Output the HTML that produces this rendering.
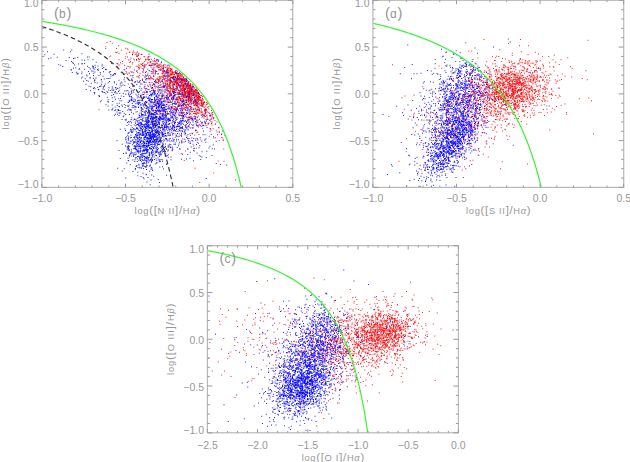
<!DOCTYPE html><html><head><meta charset="utf-8"><style>html,body{margin:0;padding:0;background:#fff;overflow:hidden}svg{display:block}</style></head><body><svg xmlns="http://www.w3.org/2000/svg" width="630" height="462" viewBox="0 0 630 462" font-family='"Liberation Sans", sans-serif'><rect width="630" height="462" fill="#fff"/><defs><filter id="bl" x="0" y="0" width="630" height="462" filterUnits="userSpaceOnUse" color-interpolation-filters="sRGB"><feConvolveMatrix order="3" kernelMatrix="1 2 1 2 8 2 1 2 1" edgeMode="duplicate"/></filter><filter id="bl2" x="0" y="0" width="630" height="462" filterUnits="userSpaceOnUse" color-interpolation-filters="sRGB"><feConvolveMatrix order="3" kernelMatrix="0 1 0 1 8 1 0 1 0" edgeMode="duplicate"/></filter></defs><g><g transform="scale(0.25)" stroke-width="4.00" fill="none" stroke-opacity="0.85"><path d="m804 409h4m-17-27h4m-49-61h4m-10 50h4m-30-9h4m32 108h4m-6 83h4m30-158h4m38 45h4m-110-102h4m41 23h4m-46 60h4m-19-79h4m-31-67h4m63 91h4m141 196h4m-90-142h4m-140-148h4m10 56h4m122 59h4m-41 25h4m-19 67h4m-25-153h4m38 58h4m-26-22h4m20 26h4m-59-68h4m58 49h4m-15 38h4m-74-69h4m46 15h4m-56-18h4m-21-4h4m-32-72h4m96 93h4m-39-17h4m10 124h4m10-62h4m20 7h4m-63-64h4m24 48h4m-71 89h4m100-79h4m-40-43h4m-6-11h4m-33 19h4m68 12h4m31 65h4m-144-146h4m-55 70h4m138 25h4m-130 64h4m184 92h4m-146-209h4m112 89h4m-4-38h4m-7 65h4m-44-23h4m8-26h4m25 14h4m-92-39h4m-69-30h4m16 18h4m-10-69h4m-14 66h4m70-52h4m-108-46h4m68 64h4m104 65h4m-86-90h4m-65-33h4m31 142h4m54-65h4m8 9h4m-96-12h4m35 0h4m28 58h4m-84 14h4m84-66h4m52 60h4m-5 1h4m-33 9h4m-55 31h4m29-86h4m-131-60h4m58 2h4m38 115h4m-37-126h4m52 78h4m-69-83h4m105 132h4m-10 16h4m-49-84h4m5 11h4m-173-106h4m22 70h4m137 140h4m-66-35h4m59-83h4m10 52h4m-33-66h4m-103 9h4m233 204h4m-165-177h4m-51-10h4m15-72h4m62 86h4m-58-71h4m99 148h4m-94-25h4m-22 7h4m17-30h4m-54-62h4m-12-50h4m8 85h4m-8-105h4m-15 52h4m62 91h4m-6-90h4m27 45h4m-69-46h4m22 16h4m-22-26h4m14 145h4m59-69h4m-11-34h4m-77 33h4m42-42h4m-72 46h4m42-38h4m-53-60h4m60 111h4m-46-119h4m156 230h4m-197-114h4m4-59h4m122 75h4m-71-58h4m-37-32h4m46 57h4m-81-59h4m64 36h4m-5-42h4m-6 133h4m-98-79h4m137-8h4m-103-43h4m86 49h4m-13 24h4m-51 48h4m-21-14h4m8-69h4m-52-58h4m144 248h4m-17-107h4m-132-157h4m58 127h4m-72-138h4m4 42h4m1 33h4m-18-83h4m6 50h4m119 91h4m-78-89h4m18 41h4m-108-40h4m133 47h4m-65-60h4m-71 248h4m5-254h4m71 61h4m77 70h4m-49-50h4m-9 66h4m-33-109h4m73 91h4m-57-39h4m-45-27h4m-1 36h4m36-60h4m-65-36h4m54 40h4m23 79h4m-116-55h4m-33 65h4m53-42h4m45-22h4m19 25h4m61 100h4m-112-186h4m36 69h4m-36 18h4m-7-1h4m-51-71h4m126 88h4m-55-15h4m-46-4h4m14 3h4m36-2h4m-52-24h4m42 26h4m-126-53h4m-14 21h4m33-8h4m-7-8h4m55 21h4m10-15h4m-4 13h4m34 42h4m-136-139h4m107 88h4m35 132h4m-157-219h4m59 62h4m38 98h4m-35-98h4m-60 133h4m104-42h4m-150-44h4m123-12h4m-88-44h4m112 72h4m-140-84h4m142 91h4m-192 2h4m115-29h4m-91 76h4m89-67h4m-30-15h4m-20 1h4m46 26h4m-1 6h4m3 103h4m7-125h4m-40-13h4m-28-55h4m-93 32h4m49 101h4m58-35h4m-9 14h4m-82-144h4m62 176h4m62-72h4m-40 42h4m-16-68h4m-36-71h4m21 20h4m107 239h4m-85-176h4m-23 40h4m6-61h4m-27 23h4m23 12h4m33 34h4m-82 26h4m-81-132h4m123 46h4m-18-15h4m-28-11h4m15 88h4m-61-22h4m-96-64h4m71 38h4m123 48h4m-23-37h4m-78-59h4m-70 34h4m70-4h4m-24-70h4m75 86h4m-112-38h4m62 12h4m-78-30h4m-2 34h4m92 44h4m21 55h4m-62-111h4m-6 43h4m20 18h4m-20-59h4m-5-29h4m37 65h4m-110 30h4m52-5h4m142 121h4m-28-55h4m-19-17h4m-93-111h4m-128 112h4m76-58h4m6 14h4m-47 45h4m55-82h4m-2-18h4m15-17h4m-64 8h4m68 6h4m53 84h4m-66-76h4m-51 40h4m91 23h4m-40 13h4m-47-85h4m20 73h4m-25-80h4m121 126h4m-165-165h4m55 114h4m-18-29h4m60 70h4m-100-30h4m62-49h4m-46-14h4m71 38h4m-121-45h4m25-11h4m-17-13h4m9 112h4m63-63h4m-101 12h4m-72-35h4m187 94h4m-140-154h4m2 19h4m-3 10h4m106 109h4m-10-37h4m-48-48h4m-43 38h4m81 56h4m-62 64h4m-80-210h4m-46 53h4m229 85h4m-219-5h4m90-77h4m-2-44h4m-15 100h4m7-112h4m-16 0h4m26 92h4m-42-49h4m-9 119h4m32-100h4m-16 55h4m-14-51h4m75 82h4m-103-94h4m121 85h4m-146-33h4m45-104h4m46 96h4m-46-46h4m-16 0h4m-26 80h4m-14-139h4m23 76h4m-31-47h4m68 22h4m-84 70h4m36-4h4m10-78h4m-51 0h4m-25-20h4m108 150h4m-43-26h4m-103-103h4m53-16h4m54 51h4m-91-33h4m4-24h4m56 76h4m-3 29h4m-80-92h4m131 125h4m-10-47h4m4-16h4m-46-24h4m-112 29h4m15-34h4m79 16h4m39 11h4m-66 18h4m-57-124h4m-30-13h4m-18 251h4m15-164h4m-162-129h4m-111 212h4m265 52h4m-33-174h4m46-19h4m33 244h4m-104-285h4m56 30h4m-57 29h4m210 144h4m-294-200h4m179 59h4m-106-62h4m190 212h4m-109-144h4m-116 84h4m208 34h4m-25-45h4m-175-128h4m-20-25h4m60 107h4m-15-66h4m-69 22h4m-145-99h4m232 80h4m-78 136h4m12-113h4m-126-62h4m126 194h4m-113-233h4m76 49h4m1-20h4m8 22h4m20 266h4m1-19h4m98-37h4m-108-19h4m1-42h4m119-20h4m-158-84h4m-20-21h4m-158-32h4m200 51h4m74 290h4m-102-328h4m-17-8h4m-114 66h4m142-8h4m0 93h4m-43-86h4m-69-41h4m293 361h4m-244-336h4m0-30h4m87 284h4m-27-52h4m-8-146h4m-20-83h4m-22 6h4m-4 217h4m-130-177h4m241 266h4m-130-288h4m60 96h4m-53 218h4m28-263h4m41-23h4m-73-59h4m103 193h4m-92-159h4m-52-6h4m132 201h4m-52-73h4m-128-84h4m64 65h4m-1-123h4m154 188h4m-159-185h4m26 54h4m-125-6h4m39-23h4m128 57h4m-150-120h4m-194-26h4m249 63h4m-255-124h4m238 174h4m-158-37h4m21-32h4m134 41h4m15 44h4m-101-38h4m-21 84h4m158-33h4m-57-23h4m68 45h4m-126-134h4m-103-19h4m104 106h4m-18-71h4m-33 8h4m46 24h4m-80-23h4m-76 3h4m152 84h4m-169-103h4m143 75h4m-9-44h4m132 83h4m-220-4h4m128-74h4m-133 44h4m172 140h4m-130-78h4m162 130h4m-17-122h4m-190-156h4m-32 117h4m24-63h4m81 9h4m-86 16h4m126 45h4m-97-57h4m-39-64h4m20-22h4m175 209h4m-140-51h4m35-77h4m-67 26h4m107 43h4m-200-97h4m15-28h4m1-8h4m-57-8h4m-15-11h4m67 38h4m-94-42h4m104 9h4m25 72h4m-84-14h4m-44-92h4m48 46h4m-21 49h4m21-41h4m72 7h4m23 13h4m-200-83h4m169 85h4m-56-24h4m-101-67h4m135 73h4m10 27h4m-71-54h4m2 8h4m-52 60h4m-78-49h4m86-6h4m-41-41h4m54 87h4m-59-64h4m-19 35h4m143 19h4m19 2h4m-132 89h4m3-107h4m61 21h4m-90 11h4m-52-12h4m149 13h4m-175-56h4" stroke="#ff0000"/><path d="m569 446h4m26 85h4m-6-77h4m35-33h4m-141 58h4m115 69h4m27 50h4m-120-81h4m62 21h4m-5 5h4m36 67h4m-153-164h4m116 157h4m4-33h4m-89 55h4m176-132h4m-126 59h4m5 16h4m-28 20h4m-37-159h4m49 115h4m19 15h4m-48 33h4m-60-153h4m58 107h4m22-8h4m-2-43h4m-18 5h4m35 16h4m2 130h4m-73-110h4m23 84h4m-16-98h4m-87 35h4m113-15h4m-50-125h4m104 161h4m-77 104h4m-20-107h4m-55 21h4m83-98h4m-28 73h4m-32-23h4m62-128h4m-9 248h4m-18-221h4m-107 166h4m60-38h4m-39 51h4m49-78h4m2 18h4m-51 20h4m94-86h4m-44-18h4m-23 63h4m-5 10h4m-42 65h4m-15-15h4m23-32h4m-48-23h4m91 48h4m-66-196h4m41 69h4m-136 46h4m113 47h4m3 33h4m12-111h4m-84 2h4m-18 41h4m65 39h4m22-61h4m-92-52h4m90 60h4m-26 39h4m-58-72h4m-35 134h4m102-121h4m20 45h4m-114 139h4m33-129h4m-7 54h4m25 116h4m-21-230h4m-8 125h4m-12-34h4m-45-8h4m38 142h4m79-286h4m-105 41h4m110 66h4m-141 87h4m22 17h4m-9-53h4m32-2h4m4-179h4m-56 181h4m55-107h4m0 15h4m-49-65h4m41 114h4m-100 3h4m84-72h4m-12 28h4m-82 125h4m85-196h4m-60 80h4m-7-31h4m26 90h4m45-140h4m-109 133h4m110 49h4m-125-30h4m91-95h4m-14 197h4m-62-118h4m82 17h4m6-115h4m-86 98h4m18 83h4m34-154h4m-1 80h4m5 30h4m-80-49h4m-12-130h4m13 166h4m49 26h4m-47-146h4m-27 113h4m44-75h4m23-62h4m-69 132h4m22 2h4m20 117h4m-7-106h4m-26-81h4m81 2h4m-71-123h4m-67 193h4m88-62h4m-79-93h4m12 198h4m47-160h4m-30 112h4m-57-42h4m81 103h4m-33-28h4m-36 34h4m76-139h4m-66 55h4m-4-91h4m-37 154h4m-42-65h4m93 66h4m63-71h4m-104-6h4m4-117h4m-31 117h4m105-60h4m-68-70h4m6 168h4m-14-57h4m1 82h4m-50 29h4m-48-20h4m97-126h4m10 82h4m-86-39h4m-4 150h4m66-165h4m-45 88h4m35-48h4m-6-19h4m4-15h4m1 13h4m-66-20h4m-27 93h4m113-40h4m-114 23h4m50-201h4m18 151h4m-33-12h4m-5 80h4m13-158h4m-14 150h4m13-52h4m-40 121h4m2 32h4m-10-124h4m-4 0h4m-65-108h4m64-18h4m75 72h4m-39 30h4m-66 102h4m-31-61h4m49-152h4m-16 182h4m42-67h4m-123 21h4m138-82h4m-41 86h4m5-14h4m17-45h4m-52-56h4m-82 148h4m45 36h4m40-22h4m26-162h4m-82 66h4m13 53h4m42-170h4m-100 193h4m15-87h4m90-20h4m-5 19h4m-93-185h4m-29 221h4m7 14h4m88-44h4m35-40h4m-74-112h4m-28 215h4m14-89h4m-6 37h4m13 81h4m-23-18h4m4 61h4m-61-129h4m25-2h4m-40 46h4m64 35h4m-50-82h4m81 63h4m-95-121h4m44 104h4m-23 71h4m51-282h4m18 182h4m-53-48h4m29-53h4m-26 76h4m-75 81h4m0-90h4m76-24h4m-32 7h4m-35 92h4m8-144h4m-9 130h4m16-94h4m-47 129h4m63-38h4m11-27h4m-42 118h4m-24-105h4m1 75h4m23-223h4m-38 118h4m95 103h4m-142-128h4m-27 6h4m81 25h4m-30-23h4m71 21h4m-35-23h4m24 159h4m-62-141h4m-58 140h4m6-5h4m-21-156h4m63 17h4m21 62h4m-117-41h4m106 83h4m-38-37h4m14-52h4m35 40h4m-17 9h4m-61 31h4m12-44h4m-31-69h4m-17 17h4m-1-27h4m82 102h4m11-7h4m-61-2h4m-13-100h4m84 88h4m-63-10h4m34 17h4m-120 41h4m-8-154h4m90 64h4m-63 72h4m-52-7h4m44-22h4m-1 20h4m38-63h4m-54 81h4m-56-93h4m98 32h4m-28 8h4m9-44h4m-55 134h4m49-288h4m-37 183h4m-2-48h4m-7 70h4m74-39h4m-48 9h4m-22-39h4m-7 68h4m39-20h4m8-84h4m-75 66h4m32 10h4m-52 16h4m-21-61h4m38 140h4m59-81h4m-85-105h4m41 42h4m-56 77h4m52-118h4m0 158h4m38-10h4m-23 12h4m-33-257h4m78 31h4m-99 120h4m40 39h4m-43 88h4m6-72h4m-120-52h4m106 85h4m-1-64h4m-78 15h4m35 88h4m-25-79h4m44 90h4m-50-99h4m-14 95h4m44-102h4m-15-37h4m-75 136h4m62-43h4m34-63h4m5 52h4m-83-103h4m116 74h4m-197 42h4m138-210h4m-51 262h4m-64-61h4m68 38h4m-9-16h4m1-95h4m-24 85h4m25-77h4m4 12h4m-72 19h4m8 49h4m-45 104h4m20-241h4m-12 17h4m43-9h4m70 70h4m-124-109h4m97 32h4m-41 170h4m50 88h4m-79-344h4m72 181h4m-102 17h4m36-11h4m-1 63h4m27-28h4m-57-8h4m27-41h4m36 6h4m-25-86h4m-32 115h4m6 55h4m67-55h4m-83 9h4m44 8h4m-91-35h4m35-37h4m-31 130h4m68-181h4m-23 46h4m-24-49h4m30 138h4m-68-130h4m-61 121h4m83-111h4m-3 134h4m11-151h4m-1 7h4m26 29h4m-45-37h4m24 119h4m-60-64h4m31-23h4m9-15h4m66-97h4m-91 236h4m-85-122h4m95-19h4m23-78h4m-181 251h4m66-114h4m-14 81h4m108-77h4m-2 56h4m-110-8h4m6-198h4m-267-167h4m274 155h4m-104-49h4m-73 7h4m16-89h4m-2 46h4m28 104h4m-259-185h4m342 192h4m-140-83h4m-165-83h4m142 71h4m62-34h4m-121-57h4m64 96h4m-72-83h4m120 143h4m24 28h4m-147-125h4m111 140h4m29 24h4m37-67h4m-167-126h4m126 106h4m-79-63h4m-48-2h4m13 33h4m121 95h4m-68-74h4m-287-147h4m279 77h4m-43 79h4m-101-63h4m166 7h4m-23 94h4m-111-149h4m-184-57h4m230 70h4m4 147h4m-108-209h4m60 49h4m86 130h4m-175-164h4m177 110h4m-82-53h4m-57 24h4m133 0h4m-100-14h4m35-11h4m17 171h4m-88-82h4m103 9h4m-212-154h4m64 128h4m-5-21h4m115 35h4m32-30h4m-138-9h4m24-57h4m34 94h4m78-34h4m-41 90h4m-146-101h4m12-97h4m151 135h4m-129-75h4m47 119h4m34 15h4m57-77h4m-69 13h4m59 42h4m-127 3h4m117-7h4m-69-101h4m18 157h4m-159-198h4m148 149h4m-41-105h4m-70 52h4m95 112h4m-186-189h4m52-8h4m149 193h4m-33-19h4m-98-178h4m186 140h4m-100 41h4m-150-186h4m80 49h4m99 131h4m15-29h4m90 95h4m37-113h4m-90 94h4m114 66h4m-197-47h4m137-178h4m-121 36h4m106 86h4m-128-40h4m137-6h4m-112 2h4m191 234h4m-49-348h4m1 154h4m-8 82h4m-60-88h4m36-44h4m40 225h4m-171-235h4m108 125h4m103-34h4m-222-112h4m111 39h4m71 5h4m2 228h4m64-123h4m-72 25h4m-197-180h4m26 133h4m181 35h4m-148-83h4m-71 43h4m126-65h4m-26-46h4m-28 107h4m-75 151h4m-42-345h4m68 226h4m-73 56h4m126-43h4m3-130h4m129 167h4m-201-119h4m105 40h4m-91-68h4m-102-51h4m112 191h4m17-86h4m-83-43h4m56 70h4m24-106h4m-8 124h4m119-116h4m-53 94h4m-101 27h4m-116-108h4m160 96h4m2-63h4m-9 44h4m-41-83h4m-88-74h4m153 141h4m-118 41h4m76 84h4m-114-246h4m-45 42h4m93 26h4m42 8h4m-95-74h4m34 167h4m113 76h4m-75-55h4m-57-25h4m67-116h4m-54 143h4m-140-199h4m230 130h4m8 47h4m-91 44h4m49-121h4m-93-3h4m118-40h4m-133 85h4m-13-114h4m85 10h4m-120 75h4m244 198h4m-256-201h4m-42-66h4m196 197h4m-132-196h4m-43-12h4m-7 51h4m218 36h4m-98-31h4m-92-25h4m20-146h4m96 250h4m-111-62h4m-94 15h4m85 2h4m-22-55h4m113 28h4m-190 76h4m247 115h4m-58-129h4m-276-222h4m93 36h4m126 220h4m-46 93h4m-125-128h4m21-24h4m-79-67h4m108 58h4m-126-45h4m284 68h4m-202 0h4m107-53h4m-61-29h4m-51 106h4m138 20h4m-120-153h4m-17 45h4m62 20h4m-59-67h4m-11-5h4m137 96h4m-4-14h4m-166-97h4m48 63h4m68 12h4m1 181h4m34-103h4m-1-97h4m7 189h4m-38-203h4m-69 32h4m-9-72h4m87 78h4m-124 199h4m14-161h4m4-25h4m-19-46h4m-57-39h4m138 142h4m-29-16h4m-17-93h4m-63 44h4m75 92h4m-14-79h4m25-2h4m-106 20h4m140 13h4m-138-215h4m95 247h4m-75-65h4m-214-101h4m86-32h4m187 234h4m16-73h4m-223-96h4m64 14h4m275 142h4m-163-79h4m-131-99h4m45 62h4m51-38h4m-17 89h4m-251-184h4m152 191h4m-35-185h4m149 268h4m-61-74h4m-37-64h4m24-41h4m-127 2h4m246 160h4m-143-216h4m58 100h4m-89-52h4m-119-28h4m218 135h4m23-84h4m-140 23h4m68-113h4m-19 160h4m-124 60h4m163-7h4m49-21h4m-80 61h4m-66-139h4m-58 46h4m147-40h4m-119 102h4m-13-189h4m-1 173h4m-4-78h4m23 45h4m34 69h4m-97-100h4m29-51h4m-29-128h4m-140 173h4m188-113h4m-68 95h4m52 28h4m101 11h4m-54 23h4m-35-119h4m-34 6h4m-75-27h4m16 21h4m8-7h4m189 237h4m-285-234h4m123 43h4m-43 10h4m62-49h4m8 10h4m-39 117h4m-21-62h4m63 63h4m-86-28h4m103-56h4m-127 54h4m34-56h4m62-57h4m-113 48h4m-17 21h4m66 103h4m-6-11h4m93-15h4m-29-29h4m-100-34h4m-41-78h4m-64 40h4m169-63h4m-149 76h4m-86-76h4m210 118h4m-20 128h4m-125-79h4m93-65h4m-44-79h4m268 157h4m-216-139h4m-43 82h4m30-76h4m11 121h4m-2 41h4m-6 35h4m-50-228h4m83 147h4m-26-72h4m-27 80h4m-67-45h4m-65-47h4m110 60h4m-102-52h4m67 36h4m31-106h4m88 193h4m-81-61h4m-108-12h4m13-51h4m28-89h4m51 95h4m-14 30h4m34 21h4m-51-7h4m-88-78h4m209 67h4m-187-48h4m79 92h4m9 0h4m-1-65h4m-77-8h4m0-39h4m-87-100h4m28 82h4m-10 41h4m165 128h4m-115-207h4m-53 35h4m54-57h4m-84 112h4m66 13h4m-37-32h4m181 149h4m-94-194h4m137 225h4m-242-233h4m102 21h4m-195 38h4m198-18h4m-122 132h4m19-66h4m8-33h4m-3 5h4m88-54h4m-25 157h4m-135-157h4m254 85h4m-333-241h4m15 247h4m196 22h4m-129-101h4m12 25h4m89-20h4m-215 16h4m107 15h4m-124-144h4m175 89h4m39 101h4m-64-26h4m-55-47h4m51 16h4m-28 63h4m212 77h4m-247-192h4m62 90h4m-3 9h4m8-29h4m50 60h4m-90-58h4m-39-125h4m137 180h4m-96-28h4m78 3h4m-72-49h4m-10 77h4m79 99h4m-83-125h4m-24-49h4m-113 67h4m162-12h4m-133-138h4m102 161h4m-45-50h4m-24-48h4m29-1h4m7 49h4m-31-19h4m-15-176h4m118 160h4m-144-42h4m-25 32h4m145-25h4m-88 61h4m-66-77h4m-57-152h4m96 244h4m35-84h4m111 107h4m-118-124h4m53 46h4m46 132h4m-269-201h4m60 121h4m115 67h4m-42-20h4m18-118h4m33 92h4m-90-41h4m-16-98h4m-61 72h4m149-26h4m8 39h4m-98-1h4m-12 120h4m-56-183h4m86 142h4m-138-1h4m22-188h4m91 94h4m-38 47h4m97 162h4m-118-89h4m8-156h4m67 148h4m-119-284h4m125 229h4m-4-154h4m-14 6h4m55 151h4m-97 28h4m111-62h4m-176-189h4m-41-29h4m-2 165h4m93-13h4m5-50h4m-100 11h4m99 47h4m5-49h4m65 53h4m-59-42h4m60 77h4m-87-102h4m132 144h4m-141-97h4m18 89h4m-16-94h4m-106-29h4m81 19h4m171 312h4m-189-287h4m49-27h4m54 65h4m-2 94h4m-194-92h4m98-15h4m-76 106h4m40-153h4m96 40h4m-87 82h4m-201 16h4m242-144h4m74 120h4m-74-116h4m-136-67h4m-18 11h4m110 90h4m76 91h4m19 9h4m-105-164h4m-56 8h4m2 28h4m21-10h4m11-20h4m58 74h4m-16 19h4m-61 6h4m18-73h4m-80-38h4m0-15h4m63 37h4m-129 167h4m129-116h4m44-7h4m-56-52h4m-41-19h4m-61-26h4m-31 288h4m-10-161h4m160-4h4m-52-18h4m44-14h4m-118 16h4m113 34h4m-139-89h4m67-17h4m17 6h4m-133-33h4m7-3h4m80 46h4m41 0h4m-115-75h4m57 26h4m44 150h4m106 64h4m-165-208h4m-23 63h4m119 144h4m-143-214h4m-80 284h4" stroke="#0000ff"/><path d="m656 440h4m142 6h4m-114-128h4m89 44h4m-20-12h4m-40-7h4m10 6h4m-73 80h4m9-31h4m-16-81h4m156 162h4m-108-104h4m-4-10h4m-72-31h4m77 22h4m-142-41h4m127 7h4m15 16h4m-79 40h4m67-11h4m-40-25h4m34 28h4m-44-41h4m-44-7h4m8 18h4m74 41h4m-35 0h4m-25-91h4m33 46h4m7 29h4m19 63h4m-83-4h4m-22-114h4m42 52h4m-58-4h4m-17 7h4m33-65h4m83 164h4m-65-72h4m-16-77h4m15 58h4m5-2h4m48 31h4m-120-75h4m-25-37h4m82 38h4m27 91h4m-117-42h4m96-11h4m1 40h4m-46-23h4m1-23h4m-27-55h4m-12 42h4m86 93h4m34 56h4m-133-172h4m-14-11h4m-14 41h4m90 18h4m-21 21h4m-36 10h4m-24-118h4m3 130h4m39-58h4m53 72h4m-39-64h4m34 100h4m-163-131h4m110 76h4m7-6h4m-15 8h4m66 41h4m-92-70h4m-71-27h4m41-21h4m-8 38h4m69 10h4m-56-21h4m1 27h4m25 64h4m-110-155h4m104 118h4m-76-115h4m34 45h4m77 89h4m-142-58h4m74 43h4m-70-108h4m31 55h4m-25-6h4m-19-50h4m12-12h4m31 87h4m57 56h4m-102-148h4m19 110h4m-30-89h4m-27-16h4m-120 71h4m168 5h4m6 167h4m-34-193h4m60 29h4m-74-4h4m-12-7h4m58 54h4m-71-52h4m91 121h4m-136-147h4m137 119h4m21 0h4m-61-102h4m-67-14h4m2 83h4m-84-68h4m113 42h4m22 50h4m-71-58h4m12-39h4m-93-67h4m107 102h4m35 0h4m-73-79h4m70 89h4m-73-37h4m18 30h4m-52-93h4m38 69h4m-73-74h4m-40-1h4m104 43h4m36 161h4m-152-176h4m92-9h4m-7 13h4m1-1h4m28 90h4m-9-68h4m-133 87h4m62-30h4m-22-41h4m134 51h4m-117-102h4m62 103h4m-74-55h4m113 115h4m-109-144h4m45 44h4m-12 55h4m-4-57h4m-43-41h4m35 31h4m-31-18h4m39 88h4m-4 5h4m-78-40h4m41 10h4m-64 5h4m83-52h4m-36 1h4m0-27h4m-41-41h4m8 46h4m-76-48h4m115 84h4m-14 4h4m-47-66h4m95 130h4m25 43h4m-68-79h4m-180-95h4m107-1h4m76 87h4m11 16h4m-60 1h4m-79-107h4m81 49h4m13 18h4m-37 11h4m-94-74h4m-47-18h4m15 16h4m39 0h4m122 90h4m4 6h4m-77-55h4m-52 159h4m12-184h4m43 36h4m-33-44h4m29 49h4m6 25h4m5-21h4m-25 82h4m55-15h4m-116-118h4m-42 14h4m56-21h4m-34 18h4m41-10h4m-32 84h4m10-14h4m-52-61h4m-9 9h4m77 50h4m55 17h4m-62 18h4m105 62h4m-193-113h4m125 72h4m-110 4h4m6-12h4m1-61h4m19 5h4m-6-25h4m-13 79h4m162 159h4m-178-193h4m15-14h4m-91-103h4m160 124h4m-106-91h4m5 12h4m-1-3h4m59 35h4m-91-78h4m81 83h4m-81-49h4m53 79h4m-6 5h4m-50-103h4m76 111h4m-66-77h4m-17 53h4m34 86h4m48-73h4m-84 17h4m-10-38h4m-96 67h4m127-87h4m-68-27h4m72 341h4m-50-322h4m-23 45h4m-49-20h4m104 78h4m-21-57h4m23 19h4m-23-76h4m87 142h4m-212-134h4m85 3h4m-45 30h4m85-6h4m29 79h4m-90-134h4m23 58h4m-53 21h4m-6-11h4m24-10h4m89 115h4m-74-83h4m-107-123h4m212 225h4m-93-95h4m-52-89h4m-23-23h4m-64 17h4m143 95h4m-56-21h4m-65-86h4m116 151h4m-50-2h4m-30-78h4m-62-105h4m-28 20h4m100 73h4m-38 48h4m-14-39h4m5-78h4m84 129h4m-21-40h4m-95-56h4m75 38h4m-122-46h4m142 93h4m-97-67h4m-31-26h4m49-4h4m-37-25h4m49 115h4m-71 17h4m47-86h4m-30-12h4m85 126h4m-173-57h4m45-34h4m49 86h4m-3-96h4m55 134h4m-55-119h4m27 16h4m-42 11h4m12-18h4m27 16h4m-21 60h4m41-45h4m-106-24h4m3-32h4m41 20h4m-74-46h4m47 45h4m27-3h4m-75 4h4m22 49h4m12 52h4m-18-91h4m-19-22h4m-12 14h4m34-19h4m-69 32h4m145 97h4m-110-164h4m-7 30h4m-63 0h4m102 102h4m-15-101h4m36 143h4m-21-110h4m-124-97h4m150 156h4m-111-130h4m32 61h4m-63 5h4m37-26h4m-7 5h4m-33-9h4m-45 38h4m127 49h4m-13-39h4m-52-73h4m48 78h4m-2 24h4m-118-142h4m-29 4h4m89 144h4m27-42h4m-44-21h4m-23-43h4m-31 16h4m-18 23h4m29-36h4m-29-22h4m136 194h4m-126-180h4m3 82h4m-7-93h4m27 74h4m64 25h4m-138-123h4m24 166h4m21-140h4m0 83h4m59-10h4m0 57h4m-92-150h4m52 65h4m71 155h4m-156-81h4m9 10h4m65 70h4m-86-237h4m123 133h4m-122-69h4m-31 43h4m23 106h4m84-107h4m-56 19h4m-9 48h4m-2-85h4m-96 95h4m68-124h4m-46-51h4m-197-70h4m166 201h4m52-109h4m36 298h4m45-76h4m-104-242h4m-252-62h4m196 88h4m153 84h4m-32 181h4m-69-261h4m182 243h4m-275-237h4m59 4h4m-73-49h4m56 27h4m35 156h4m-78-179h4m13 2h4m-92-21h4m8-23h4m145 91h4m-209-41h4m62-54h4m-41 34h4m230 122h4m84 139h4m-309-240h4m145 166h4m36-24h4m-141-100h4m54 50h4m51 260h4m-37-349h4m26 84h4m50 32h4m-121-68h4m-100 47h4m11-22h4m114 85h4m96-47h4m-150-134h4m41 143h4m-33-93h4m105 94h4m-96-41h4m-90 49h4m45-28h4m199 104h4m-141-144h4m4 16h4m-71 1h4m-123-146h4m187 152h4m12-7h4m-95 34h4m115 44h4m-159-121h4m98 140h4m-47-179h4m-57-20h4m-80 2h4m281 195h4m-156-113h4m70 92h4m-50-121h4m-29-31h4m-16 50h4m2-64h4m-111-8h4m138 37h4m-141 105h4m22-157h4m-48 3h4m222 150h4m-107-41h4m-26-12h4m47 67h4m-115 36h4m175 64h4m-177-249h4m-41 54h4m-32-44h4m50-20h4m128 54h4m-39 60h4m-68-113h4m181 180h4m-189-122h4m-38-77h4m77 63h4m30 31h4m-169-74h4m203 204h4m-118 42h4m47-73h4m42-95h4m-125-58h4m73 13h4m43 102h4m-82-117h4m-41 37h4m182 95h4m-263-138h4m82-1h4m36 43h4m2 25h4m-62-13h4m3-60h4m-10 144h4m121-71h4m-60-7h4m192 308h4m-182-328h4m-85 4h4m6 59h4m-68-119h4m212 173h4m-223-129h4m120 37h4m46 50h4m-139-29h4m-1-42h4m10 21h4m-40-117h4m-27 122h4m37-113h4m92 83h4m-90-65h4m-56-26h4m84 86h4m-41-73h4m-72-1h4m-11-21h4m118 191h4m-175-215h4m-33-10h4m34 16h4m59 53h4m-62 43h4m221 63h4m-188-30h4m-52-100h4m49 5h4m72 35h4m-26-11h4m76 40h4m-78-3h4m-56 22h4m33-56h4m40 51h4m-95-55h4m40 0h4m-160-83h4m88 44h4m1-5h4m97 60h4m-59-22h4m-67 6h4m59-25h4m47 35h4m-143 20h4m37-67h4m39 159h4m-6-74h4m-59-95h4m70 60h4m22 48h4m-51-80h4m31 101h4m-100-71h4" stroke="#ff0000"/><path d="m568 631h4m-13-94h4m65 62h4m-83 104h4m-3-100h4m35-1h4m-25 38h4m63-22h4m12-29h4m-150 63h4m63-50h4m72-142h4m-66 41h4m10 70h4m11-25h4m8 18h4m-34-10h4m26 37h4m14-89h4m-38 68h4m-79 1h4m93-129h4m-26 30h4m9 19h4m-162 72h4m97 93h4m-13-87h4m-21-154h4m145 150h4m-134 29h4m52-9h4m11-8h4m-21-77h4m-49 27h4m-47 83h4m93-65h4m-17-23h4m-90 7h4m59 72h4m62-36h4m-93-24h4m44 14h4m-97 18h4m106-48h4m-108 0h4m-29 26h4m67 51h4m63-234h4m-103 225h4m80-138h4m-43 213h4m-23-83h4m18-74h4m7-47h4m-31 106h4m57-62h4m68 56h4m-147 64h4m99-71h4m-99 83h4m101-79h4m-127 6h4m15 126h4m27-218h4m-61 24h4m15 128h4m37-115h4m-70 77h4m55-64h4m-55 78h4m21 49h4m55-127h4m-41-18h4m-11 64h4m-21 48h4m17-143h4m14 88h4m-26 98h4m101-128h4m-132-19h4m7 111h4m-38-32h4m44-110h4m38 148h4m-36-70h4m22-165h4m-2 87h4m-7 17h4m-115 31h4m126 38h4m-114 25h4m25 34h4m56-19h4m48-137h4m-98 62h4m-16 66h4m9-129h4m56 40h4m-102-64h4m15 86h4m2 1h4m29 31h4m-13-33h4m18-197h4m-70 178h4m40 84h4m-21-69h4m-5 38h4m22 93h4m15-102h4m-42-13h4m56 16h4m-39 70h4m-30-122h4m12 135h4m-44 28h4m20-178h4m-17 120h4m50-118h4m-48 130h4m49-68h4m-33-23h4m31-70h4m-36 85h4m1-59h4m8 29h4m61-28h4m-66 66h4m-71-95h4m17 203h4m24-56h4m-23-26h4m-26-21h4m-49 95h4m60-171h4m-40 80h4m28-23h4m-59 55h4m81-114h4m22-7h4m-68 232h4m11-158h4m29-76h4m-50 105h4m28-22h4m-68-40h4m41-41h4m-33 157h4m43-181h4m57 170h4m-62 52h4m13-113h4m-15-4h4m-138 75h4m122-151h4m-59 34h4m8 189h4m-36-20h4m127-229h4m-73-62h4m12 205h4m-97-27h4m-14-26h4m108-62h4m52 12h4m-80 144h4m14-147h4m-18 48h4m-39 21h4m6 12h4m68-39h4m-46 51h4m-33-62h4m8-50h4m-23 52h4m-25 27h4m41-52h4m36 29h4m-65 29h4m-23-57h4m6-46h4m77 148h4m-51-148h4m-26 111h4m46 42h4m-17-103h4m3-42h4m-29 103h4m-30-60h4m5 146h4m73-141h4m4-5h4m-71 114h4m-39-132h4m61-15h4m-33 90h4m50 19h4m-108-33h4m52 83h4m-69-209h4m64 120h4m-29 122h4m-1-134h4m36-147h4m-49 137h4m25 53h4m-39-104h4m-2 36h4m1 160h4m20-23h4m-24-131h4m34 36h4m-83 0h4m62-152h4m-20 45h4m-56 154h4m32-78h4m-79 90h4m91-101h4m-19 93h4m18-88h4m-24 95h4m-4-73h4m36 117h4m-31-58h4m70-64h4m-79-98h4m63 56h4m-31 51h4m55-16h4m-162 44h4m78-37h4m-90-6h4m85 84h4m-50 25h4m-24-88h4m72-61h4m-44 98h4m-47-33h4m-12 35h4m18 87h4m-66-112h4m136-27h4m-83 33h4m86 41h4m-128-77h4m127-81h4m-67 119h4m-16-68h4m60 100h4m-42-96h4m-35-52h4m-22 144h4m7-54h4m36 14h4m19 86h4m-53-108h4m26-156h4m-68 175h4m2 56h4m105 14h4m-120-91h4m8-89h4m45 96h4m-36 12h4m-36 24h4m45-17h4m25-24h4m-63 41h4m-26-60h4m38 39h4m2-78h4m24 63h4m-10-66h4m-9 49h4m-37-21h4m14-46h4m-46 203h4m27-9h4m57-64h4m-70 45h4m30-157h4m20 57h4m-72 11h4m21 26h4m0-163h4m-107 272h4m84-229h4m-45 124h4m38-85h4m28-13h4m29-12h4m-17 100h4m-61 22h4m21 33h4m-26-28h4m-58-8h4m59 53h4m29-130h4m24 45h4m-129 15h4m7 77h4m62-128h4m10 13h4m14 102h4m-116-135h4m91 53h4m-48 7h4m14-13h4m24 117h4m-62-18h4m3-23h4m19-93h4m-34 152h4m28-107h4m6-108h4m-98 114h4m103 23h4m-29-159h4m51 231h4m-103-85h4m28-70h4m50-108h4m-71 114h4m-15 68h4m-16-40h4m35 88h4m-26-79h4m62-180h4m-42 229h4m4 59h4m-52-166h4m45-29h4m13-101h4m1 93h4m-29 129h4m2-58h4m-68 64h4m145 8h4m-50-124h4m-71 25h4m-21 4h4m30 46h4m23-16h4m-122-16h4m127 3h4m-55-66h4m-49 41h4m112 38h4m-33-35h4m-49-18h4m7 78h4m-65-53h4m-24 79h4m58-60h4m118 31h4m-109 49h4m-39 16h4m31-155h4m35 97h4m-20-46h4m-54 16h4m-3 67h4m26-109h4m-11 202h4m40-144h4m-63-29h4m-26 139h4m6-34h4m90-57h4m-52-16h4m-64 109h4m92-52h4m-25-29h4m-56 33h4m3 7h4m-32-26h4m26-15h4m-10-76h4m51 38h4m-51 57h4m16-80h4m-42-27h4m-25 51h4m10 39h4m24-76h4m79 0h4m-90 49h4m104 5h4m-21-87h4m-42 129h4m55-12h4m-106-43h4m-12 92h4m-12-203h4m-15 142h4m29-41h4m-80-82h4m-6 127h4m89 36h4m-26-82h4m-36-44h4m-49 90h4m32 79h4m50-218h4m8 122h4m-24 18h4m25 18h4m1-4h4m-21-81h4m-2 5h4m1 54h4m-63-38h4m34 13h4m52-42h4m-16 36h4m-184-159h4m-30-57h4m3-18h4m-70-11h4m-6-63h4m75 200h4m-38-80h4m-74-37h4m178 92h4m-124-48h4m-4-107h4m-57 11h4m93 30h4m57 79h4m-39-6h4m2-82h4m-8 42h4m-28-6h4m-176-48h4m1-28h4m124 93h4m29 89h4m-94-157h4m87 86h4m-66-84h4m-15 39h4m102 11h4m-91 18h4m-20-77h4m-7 53h4m-35-18h4m27 67h4m61-67h4m77 97h4m-19 23h4m4-40h4m-155-100h4m104 157h4m-50-52h4m-56-112h4m62 85h4m-119-74h4m203 81h4m-62-8h4m-170-65h4m93 32h4m35 54h4m74-10h4m-169-60h4m129-15h4m-85 59h4m77 111h4m-262-208h4m-23-42h4m251 136h4m46 25h4m-47 49h4m67-18h4m-132-73h4m-51 18h4m-89-64h4m142 70h4m-33-41h4m25-5h4m29 101h4m25 38h4m43-76h4m-94 1h4m-44-27h4m-24 7h4m-2 25h4m157 20h4m-243-128h4m90 95h4m53 69h4m53-72h4m-83 72h4m0-87h4m-33-74h4m71 140h4m-1 12h4m-79-151h4m71 48h4m-69 113h4m29 8h4m-110-85h4m85-61h4m-92 45h4m-10-119h4m127 104h4m22 93h4m-202-148h4m-17-6h4m282 137h4m87 157h4m-33-47h4m32 11h4m-43-164h4m40 104h4m-60 41h4m87-56h4m-95-37h4m-41-35h4m28-86h4m-25 131h4m42-51h4m56-59h4m-66-42h4m-96 142h4m140 30h4m32 60h4m-113-79h4m-18 57h4m-10-229h4m126 263h4m-46 59h4m6-168h4m-155-19h4m233 232h4m-90-134h4m-129-175h4m100 99h4m28-37h4m6 60h4m-182-19h4m38 27h4m37 121h4m-28-204h4m63 95h4m-107-67h4m136 106h4m-163-82h4m97 27h4m41-85h4m-175 8h4m217 24h4m-64 117h4m-37-44h4m103 73h4m-166-135h4m181 162h4m3-83h4m-16 24h4m-248-174h4m185 141h4m-246 109h4m151-296h4m-31 191h4m88-35h4m13-118h4m-130 272h4m87-134h4m42 75h4m-34-56h4m14 23h4m-174-120h4m81-30h4m-15 44h4m35 2h4m61 89h4m-197-80h4m50 65h4m5-91h4m122 63h4m-82 45h4m71 58h4m-75-232h4m-43-43h4m133 248h4m-118-91h4m147 129h4m-130-218h4m89 48h4m-128 12h4m-111 1h4m149-82h4m-32 65h4m-64 68h4m13 49h4m111-16h4m-117 121h4m79-119h4m-42 9h4m3 93h4m141-126h4m-157-5h4m-52-3h4m147-74h4m-16 120h4m9-1h4m-114-83h4m-3-21h4m2 39h4m74-11h4m34 143h4m-151-178h4m22 158h4m17-89h4m110 42h4m-189-99h4m99 41h4m63 39h4m-105 3h4m-69-69h4m138 138h4m-11-134h4m-81 33h4m-59-46h4m13 46h4m23-103h4m134 158h4m-112-23h4m-39-55h4m-99-137h4m109 149h4m14 67h4m-74-51h4m78 69h4m16 60h4m-27-158h4m-84-52h4m53 132h4m-43-92h4m17 20h4m102 121h4m-90-46h4m-161-99h4m169 27h4m-67-34h4m-54-8h4m73-8h4m-102 103h4m57-72h4m79 69h4m-59-68h4m70 86h4m25-73h4m5 137h4m-33-141h4m-95 61h4m90 4h4m-189 1h4m40-83h4m61 12h4m-7-14h4m47-1h4m-170-3h4m53-10h4m-1-48h4m131 176h4m109-6h4m-148-81h4m83 120h4m-63-93h4m-15 97h4m-135-242h4m69 101h4m90 36h4m-106-103h4m-57-124h4m102 262h4m-38 12h4m2 84h4m-68-130h4m116 59h4m58-75h4m-227 67h4m66-18h4m82-6h4m-146-192h4m33 118h4m79 65h4m12 50h4m-94-178h4m182 179h4m-178-105h4m-165 33h4m248 104h4m-127-179h4m-1 31h4m6-78h4m-77 53h4m41 8h4m44 83h4m-7-73h4m-4 67h4m-37-182h4m68 37h4m-42 72h4m-25 30h4m31-19h4m-27-1h4m77 93h4m-28-49h4m5-50h4m124 157h4m-124-96h4m-6-90h4m77 191h4m-156-173h4m73 43h4m-32 102h4m-78-67h4m58 31h4m-57 9h4m18-92h4m-3 164h4m41-70h4m-107-97h4m-1 33h4m-18-125h4m45 7h4m-56 126h4m157-17h4m-43 79h4m-118-235h4m44 301h4m-61-133h4m258 158h4m-136-161h4m-83 27h4m55 7h4m6-30h4m-69-43h4m79-50h4m31 102h4m31 23h4m-159-30h4m8-9h4m-30 54h4m134-84h4m-78-60h4m-204 22h4m237 132h4m-27-75h4m171 121h4m-101-132h4m-39 42h4m-126-81h4m-43-44h4m75-11h4m-3 63h4m45-20h4m-83-31h4m-63 126h4m146-107h4m-183-35h4m215 187h4m35 104h4m-177-306h4m-90 123h4m91-176h4m5 194h4m79 44h4m-33-60h4m-21 4h4m-53 126h4m132-120h4m-73-46h4m-37 164h4m77-42h4m-222-167h4m131 146h4m-206-90h4m273-66h4m-118 136h4m-33-68h4m61 53h4m-22-4h4m113-112h4m-101 128h4m25 81h4m36-135h4m-58-37h4m106 211h4m-142-235h4m108 72h4m-46 160h4m-50-302h4m-32 191h4m36-1h4m-51 41h4m153-60h4m-149-109h4m47 102h4m-156-122h4m98 123h4m17-5h4m24 61h4m-87 11h4m197-31h4m-114-74h4m-70 14h4m-43 37h4m131 8h4m-36-60h4m-177-111h4m41 156h4m22 3h4m-46-46h4m-44 117h4m181-16h4m-96-111h4m147 43h4m-186-185h4m262 321h4m-119-73h4m-39-93h4m-173-19h4m189 25h4m-151 37h4m143-122h4m-134-20h4m151 237h4m-103-163h4m242 144h4m-167-42h4m76 142h4m-56-199h4m-175 86h4m57-122h4m-11 25h4m159-27h4m-96 142h4m65 100h4m-124-175h4m-24-52h4m91 5h4m-120 46h4m134 14h4m-47 44h4m-86-56h4m104-7h4m-58 22h4m-108 18h4m-28-172h4m55 111h4m12 25h4m133-64h4m-154-66h4m-59 17h4m149 194h4m-89-81h4m106 60h4m-176-94h4m219 99h4m-132-229h4m-32 96h4m-62-5h4m-24 108h4m72-94h4m30 38h4m-84-141h4m105 145h4m-69-25h4m-60-55h4m80 155h4m-8-1h4m-129-204h4m115-71h4m54 79h4m-17 162h4m8-91h4m57 68h4m-147 17h4m-26-41h4m132-54h4m-79 20h4m-16-26h4m-16-23h4m35-14h4m-87 13h4m-69-42h4m148 203h4m113 72h4m-125-301h4m86 104h4m-176 36h4m208 75h4m-52-130h4m25 203h4m-11-180h4m-90-89h4m-24 67h4m105-17h4m-58-40h4m-8-23h4m56 71h4m-77-51h4m-104 151h4m163-100h4m-89-29h4m6-49h4m-42 94h4m119 7h4m-161-130h4m88 65h4m9 39h4m-81-81h4m244 377h4m-206-190h4m42-85h4m-9 25h4m-108-81h4m64 19h4m106 191h4m-30-165h4m77 136h4m-51-32h4m-137-109h4m-40 111h4m-25-1h4m184 5h4m-250-174h4m147 69h4m-44-68h4m3 71h4m49 36h4m-19-58h4m2 79h4m-55-96h4m50 42h4m-243-112h4m65 185h4m96-198h4m156 191h4m-66-104h4m48 72h4m-149 17h4m44-115h4m-105-35h4m180 135h4m55 118h4m-39-46h4m-139-172h4m61 126h4m-101-146h4m62 114h4m60-29h4m-62-29h4m-113-119h4m-33 170h4m185 2h4m-220-137h4m92 8h4m-66 6h4m156 86h4m-10 25h4m-117-103h4m75 74h4m-19-74h4m-19 63h4m-114 148h4m101-111h4m-52-146h4m59 148h4m29-65h4m1 3h4" stroke="#0000ff"/><path d="m803 382h4m11 121h4m-75-143h4m-21 112h4m1-90h4m92 45h4m-94 79h4m106 9h4m-52-132h4m-61 89h4m15-98h4m-11 7h4m-99-77h4m62 28h4m101 95h4m-96 83h4m8-129h4m64 96h4m-74-101h4m-29-36h4m154 210h4m-183-214h4m38 1h4m7 37h4m4 101h4m-64-120h4m-30-53h4m78 50h4m-77 13h4m-1-47h4m-22-54h4m-9 81h4m102 77h4m-43-69h4m-69 83h4m199 126h4m-162-239h4m14 30h4m44 91h4m-44-54h4m74 35h4m-129-120h4m29 14h4m25 44h4m-20 4h4m64 47h4m-84-65h4m-5 95h4m-44-114h4m61 45h4m-25 25h4m-12-6h4m-55-89h4m80 101h4m-47-29h4m57 28h4m8 17h4m-72-25h4m57 31h4m-57-51h4m64 63h4m-18-78h4m-48-6h4m3-14h4m-92 42h4m15-15h4m-17-9h4m85-7h4m-63-30h4m5 23h4m33-26h4m95 205h4m-152-233h4m-44-30h4m101 140h4m-47-68h4m6 44h4m-114 65h4m138-50h4m-101-51h4m161 94h4m-172 8h4m111-104h4m-93 122h4m124-45h4m-35 124h4m-50-198h4m-23-40h4m74 87h4m-118-10h4m77-31h4m-95-2h4m127 152h4m-50-163h4m-1 16h4m0 5h4m-34 61h4m-49-44h4m67-8h4m-8-22h4m97 131h4m-65-77h4m-5-30h4m-76-53h4m16 119h4m-34-84h4m-29-52h4m-61 111h4m162-6h4m-86-89h4m28 24h4m45 164h4m-54-63h4m3-57h4m-17-42h4m-90-65h4m132 81h4m-96-44h4m104 173h4m-35-115h4m0 13h4m-146 0h4m100 6h4m1-16h4m-29 13h4m6-19h4m-42-69h4m69 49h4m-11-21h4m19 138h4m-26-84h4m-41-28h4m-111 10h4m66-32h4m80 54h4m-99-94h4m0 72h4m97 4h4m-84 68h4m38-6h4m-45-90h4m99 45h4m-170 19h4m-33-91h4m158 53h4m-22 29h4m96 57h4m-125-128h4m-13-12h4m23 109h4m11-63h4m64 73h4m-41-13h4m-6 54h4m52 23h4m-85-144h4m-39-35h4m27 26h4m-96 18h4m57 98h4m54-61h4m-38-1h4m-177 30h4m157-55h4m49 28h4m-3-23h4m-82 50h4m122 96h4m-116-67h4m-5-91h4m-11-35h4m34 142h4m-18-26h4m5 2h4m-24 24h4m-69-177h4m34 38h4m-4 42h4m65-22h4m6 41h4m-17 44h4m20-13h4m-118-112h4m-9 56h4m-60-98h4m2-5h4m59 95h4m104 63h4m-185-101h4m134 138h4m-43 44h4m-86-54h4m-20-161h4m202 173h4m0 17h4m-28-62h4m-178-70h4m75 42h4m78 29h4m-41-4h4m24-29h4m-17-9h4m40 88h4m-132-166h4m-36 20h4m60-14h4m31 95h4m-27-75h4m-39 39h4m-1-35h4m49 95h4m-8-42h4m-15-57h4m49 179h4m-123-179h4m112 104h4m-81-105h4m-33-9h4m99 125h4m33 29h4m-167-139h4m84 5h4m14 57h4m-96-22h4m57 69h4m14-67h4m-75-34h4m86 112h4m-23-108h4m-17 17h4m35 36h4m15 49h4m46 27h4m-57-77h4m45 85h4m-172-77h4m-8 56h4m141-15h4m-53-80h4m-12 54h4m12-53h4m-60 33h4m68-25h4m91 167h4m-116-158h4m-21-34h4m-13-8h4m-31 5h4m34 31h4m-97 21h4m75-50h4m-28 0h4m61 113h4m-42-91h4m8-31h4m-54 76h4m77 73h4m-148-178h4m102 99h4m-24 69h4m-75-160h4m-12 4h4m75 2h4m-48 112h4m129 25h4m-71-70h4m33 44h4m-105-64h4m-10 84h4m-35-120h4m22 106h4m70-110h4m-13 101h4m-40-121h4m-10 62h4m-15 16h4m-8-101h4m19 21h4m14 138h4m-39 15h4m-10-144h4m-13-49h4m144 185h4m-54-40h4m-1 0h4m-22 25h4m21-75h4m-173 49h4m61 19h4m33-62h4m76 26h4m-66-36h4m33 7h4m-49-16h4m-127 109h4m91-93h4m51 19h4m-32 24h4m-15-9h4m-74-77h4m78 0h4m82 146h4m2-15h4m-167 6h4m16-86h4m49 15h4m51 93h4m-30-25h4m-6-65h4m-87-61h4m96 28h4m-49-28h4m53 71h4m-170 87h4m36-141h4m115 62h4m-134-119h4m84 88h4m124 153h4m-109-133h4m-56-102h4m-14 118h4m-51-76h4m-4-48h4m120 159h4m-33-123h4m-55 30h4m55 26h4m1-37h4m33 388h4m-63-292h4m19-102h4m-15 5h4m42 37h4m-154-21h4m92 11h4m-12-29h4m-61 44h4m46-27h4m-25 123h4m-27-157h4m63 57h4m-88-57h4m84 9h4m-42 62h4m62 12h4m-100-14h4m46 21h4m49 2h4m-55-44h4m48 25h4m-67-95h4m64 87h4m-94-59h4m-3 110h4m55-80h4m57 138h4m-69-155h4m28 56h4m-69-4h4m-51-40h4m26-14h4m73 149h4m-58-111h4m-5-32h4m-29 24h4m42-8h4m11 85h4m-15-106h4m2 97h4m81 14h4m-192-123h4m-5-22h4m109 62h4m-92-92h4m-13 29h4m27 29h4m-8-10h4m-9 212h4m89-155h4m-89-50h4m-91-35h4m178 263h4m-247-230h4m89 18h4m45-21h4m-149-14h4m130 87h4m-90-49h4m170 30h4m-76 12h4m-7-21h4m27-53h4m-249-72h4m123 195h4m-76-176h4m127 6h4m-23 120h4m29 8h4m-68-83h4m19-7h4m35 76h4m75 113h4m-120-213h4m-2 213h4m-138-290h4m111 62h4m-116-24h4m27-10h4m154 65h4m-205-4h4m200 125h4m-18-116h4m-155-81h4m73 39h4m-31 49h4m76 40h4m-50 60h4m62-114h4m-58-38h4m-38 92h4m120-5h4m-132-54h4m-146-84h4m131 109h4m-12-4h4m13 26h4m89 87h4m-25 113h4m11-232h4m-87-14h4m2-52h4m18 213h4m-222-269h4m303 135h4m-201 158h4m156-166h4m158 378h4m-244-353h4m131 32h4m-86-106h4m-114 8h4m-30 29h4m208 106h4m10-66h4m30 90h4m-48 54h4m-222-267h4m141 83h4m8-7h4m-93-57h4m137 90h4m111 218h4m-163-212h4m57 133h4m-59-12h4m237 264h4m-213-359h4m-81-95h4m-44 225h4m-39-136h4m144-18h4m-131-28h4m34 32h4m49-3h4m-73 10h4m-37-92h4m170 100h4m-94 44h4m-145-195h4m122 213h4m-41-171h4m-161-52h4m248 117h4m10 9h4m-182-98h4m73 142h4m-26-72h4m19-50h4m57 64h4m-17-23h4m-208-44h4m287 164h4m-275-125h4m94-40h4m-30-20h4m146 126h4m57 103h4m-184-145h4m31 32h4m80 55h4m-118-75h4m145 45h4m-187-37h4m80 19h4m61 69h4m-16-88h4m-84 92h4m69-103h4m-96-49h4m-141-54h4m243 305h4m-89-123h4m168 17h4m-166-127h4m1 25h4m-60-78h4m193 343h4m-100-254h4m-3 41h4m28 65h4m-151-176h4m28 187h4m159-68h4m-208-102h4m86 82h4m-218-91h4m105-38h4m-3 30h4m85 32h4m-95-44h4m25 6h4m-32-25h4m5 53h4m32 63h4m-115-76h4m99 37h4m59 131h4m-43-169h4m-49 32h4m-16-23h4m-28 28h4m-23 0h4m-47-31h4m-49-90h4m79 95h4m163 69h4m-131-109h4m-18 15h4m76 4h4m-74-2h4m128 89h4m-176-118h4m3 27h4m97 42h4m-28 59h4m-47-118h4m31 138h4m123-11h4m-245-84h4m131-18h4m-185-54h4m194 64h4m-36-19h4m-14-12h4" stroke="#ff0000"/><path d="m593 488h4m-111-10h4m105 95h4m-15 40h4m-66-110h4m-2-54h4m107 198h4m-18-206h4m-116 0h4m73 287h4m4-246h4m47 113h4m-67-134h4m-16 74h4m12 7h4m-32 93h4m-40-69h4m50 16h4m-33-21h4m89-92h4m-26 55h4m-31-35h4m-60 94h4m23-116h4m72 15h4m8 54h4m-4 7h4m-50 64h4m-1-130h4m-97 125h4m36 1h4m53-56h4m-34-68h4m-1-70h4m-8 118h4m-12 72h4m26 78h4m36-64h4m-93 28h4m63-133h4m-84 111h4m84-47h4m-42-102h4m39 6h4m-45 54h4m-6-25h4m-37-17h4m22 12h4m-5 58h4m9-103h4m-3-56h4m10 218h4m-27-67h4m-22-67h4m57 70h4m23-43h4m-66 33h4m39 101h4m-19-71h4m-85-14h4m59 86h4m-68-54h4m57-52h4m-94 55h4m116-23h4m-24-5h4m24-168h4m-3 191h4m-71 65h4m-19-85h4m94-95h4m-26 31h4m-89 104h4m69-165h4m45 35h4m-165 75h4m93-65h4m-66 25h4m4-54h4m10 205h4m9-75h4m-9-8h4m20-20h4m-13-79h4m77 2h4m-88 81h4m14-14h4m-110 32h4m115-56h4m66 71h4m-100-90h4m16-65h4m-20 172h4m32-79h4m27 164h4m-102-193h4m70 57h4m-47 63h4m-6-115h4m-10-62h4m86 137h4m-63-20h4m-13-55h4m-23-65h4m46 62h4m-95-82h4m68 42h4m29 40h4m-129 60h4m76-19h4m-49-51h4m-7-10h4m30 102h4m-2-94h4m54 103h4m-3-93h4m-14 28h4m-43 43h4m-29 99h4m18-192h4m-106 82h4m37-33h4m-28-50h4m88 220h4m-6-203h4m-11-63h4m88 57h4m-118-53h4m-16 18h4m8 64h4m69 8h4m-64 31h4m63-20h4m-43 78h4m-42-139h4m-14 120h4m23-130h4m67 36h4m-6 80h4m-98-91h4m49 58h4m-64-72h4m31 41h4m9 22h4m26-114h4m-81 65h4m-53 43h4m77-16h4m-21 121h4m-24-26h4m73-144h4m-47 102h4m23-80h4m2-24h4m-112 139h4m17-82h4m-13 115h4m36-183h4m-45 89h4m118 38h4m-36-63h4m-24-57h4m28 137h4m-25-61h4m27 30h4m-105 60h4m42-152h4m-10 141h4m-3-95h4m1 23h4m21-130h4m-33 46h4m44 41h4m-43 0h4m-32 56h4m20-79h4m-13-63h4m60 83h4m-89 8h4m13 30h4m-13-121h4m89 120h4m-47-112h4m-37 84h4m-4 113h4m27-98h4m32-95h4m-69 83h4m-43 1h4m80-41h4m48 57h4m-59 3h4m-76-16h4m-9 34h4m25-70h4m-19 95h4m1-8h4m-123-113h4m205 197h4m-158-16h4m109-87h4m-43 108h4m-28-99h4m24 48h4m5-67h4m-23-92h4m80 9h4m-67 89h4m-80-1h4m51-14h4m11 32h4m10 70h4m64-61h4m-108-10h4m41-48h4m-84 75h4m93 44h4m-21-241h4m-66 143h4m112 89h4m-165 4h4m96-87h4m-1 3h4m-46 93h4m71-54h4m-87-90h4m33 34h4m47-15h4m-61 36h4m35-78h4m75-32h4m-157 70h4m-47 87h4m41-84h4m42 33h4m-12 190h4m-34-78h4m88-48h4m-79 16h4m25-79h4m-29-78h4m-43 25h4m54 35h4m-30 70h4m-5 26h4m-25-72h4m7 118h4m3-77h4m-70-100h4m51 110h4m41-147h4m-56 131h4m-16 15h4m31-32h4m-51-98h4m33 76h4m-18 18h4m66-64h4m-90 34h4m108 63h4m-2-180h4m-119 207h4m42-70h4m70-6h4m-59 88h4m19-93h4m-30 7h4m-3 12h4m-47-18h4m-42-27h4m84 37h4m3-140h4m41 235h4m-86 44h4m22-199h4m-22 76h4m13-49h4m-59 79h4m11-86h4m51-41h4m-107 72h4m70 24h4m-55-48h4m96-97h4m-134 155h4m51-127h4m59 260h4m10-183h4m-45 22h4m18-152h4m-143 279h4m121-90h4m2-28h4m-67-73h4m59 84h4m-7-41h4m-62-32h4m71-89h4m-128 75h4m-6 82h4m74-79h4m45-109h4m10 255h4m-63-33h4m-11-120h4m-31 90h4m38-45h4m11-45h4m-34 23h4m-37-11h4m32 100h4m37-143h4m-63 73h4m27 137h4m58-168h4m-37 154h4m29-181h4m-123 204h4m43-181h4m39 19h4m-47 53h4m61-144h4m-66 215h4m-20-48h4m31 0h4m8-188h4m-37 189h4m41-94h4m-15 112h4m-95 6h4m51-46h4m-21 14h4m-81 33h4m160-183h4m-106 196h4m80-5h4m-38-28h4m4-3h4m6-70h4m-74 43h4m30-131h4m-41 109h4m-1-71h4m-5 107h4m42 4h4m-44-54h4m60-37h4m-94 128h4m159-42h4m-104 44h4m-13 30h4m57-121h4m-80 124h4m-71-177h4m101 61h4m60 62h4m-89-95h4m9 133h4m1-91h4m-63 25h4m63-59h4m8 51h4m-66-14h4m-13-16h4m66-100h4m-87 109h4m120 55h4m-57-56h4m-32-120h4m-74 178h4m61-69h4m-23-54h4m29 153h4m34-122h4m-46 48h4m55 89h4m-67-79h4m-63-48h4m21 75h4m27-49h4m24 65h4m-27-106h4m2 69h4m4-9h4m-21-23h4m8 12h4m7-118h4m-14 158h4m-15-38h4m67-53h4m-75 100h4m-78-44h4m1 62h4m-14-20h4m78-17h4m32-47h4m-74 51h4m-22-69h4m-30 80h4m96-42h4m12-25h4m-73 78h4m1-32h4m77-49h4m6 74h4m-54-165h4m27-27h4m-130 132h4m85 13h4m31-58h4m32 108h4m-8-134h4m-50 153h4m-112-33h4m14-198h4m25 18h4m-124-123h4m11 73h4m-118-45h4m35 15h4m127 32h4m-311-130h4m345 171h4m-385-198h4m340 163h4m-40 74h4m-126-147h4m-10-56h4m-101-39h4m228 203h4m-42-12h4m-224-162h4m18 37h4m220 129h4m-45 13h4m-63-135h4m-71 22h4m214 69h4m-174-19h4m73 54h4m-65-114h4m-48-45h4m161 134h4m-10 46h4m-67-1h4m-55-153h4m-95-59h4m193 144h4m-196-151h4m86 170h4m118-6h4m-197-75h4m98-25h4m64 57h4m-149-13h4m66 99h4m-31-94h4m27 6h4m-13-17h4m-136-60h4m252 145h4m-126-1h4m59 42h4m75 9h4m-18-48h4m-158-121h4m4 87h4m34-12h4m-137-63h4m147 71h4m-55-102h4m29 121h4m-29-88h4m40 9h4m7 66h4m127 60h4m-113 40h4m-121-132h4m109 12h4m-116-51h4m-58-53h4m105 133h4m0-20h4m-7-72h4m81 112h4m-41-55h4m-71 19h4m86-10h4m-187-80h4m10 33h4m142 76h4m65 34h4m-135-20h4m-106-149h4m40 43h4m96 49h4m-67-33h4m-65-37h4m220 103h4m-94 10h4m-3-22h4m21 19h4m-100-42h4m-88-71h4m103 37h4m23 76h4m-105-71h4m307 212h4m78-18h4m36 84h4m-127-130h4m136 30h4m-26 89h4m-173-174h4m-36 28h4m79 75h4m51 12h4m-37-43h4m-41 8h4m-19-114h4m-47 77h4m166 66h4m-110-27h4m4-30h4m114 65h4m-85 76h4m63-210h4m-105-10h4m-85 6h4m46 89h4m119 17h4m-152 34h4m65-77h4m136-14h4m-68-6h4m-147-40h4m259 252h4m-163-104h4m-48-124h4m196 144h4m-152-19h4m-129 69h4m53-107h4m-40 5h4m29-42h4m6 104h4m127-68h4m-80-89h4m51 13h4m-291 38h4m106 55h4m139 28h4m-150-31h4m156 143h4m-99-231h4m85 86h4m-49 5h4m-148-209h4m163 29h4m30 86h4m-110 127h4m96-106h4m-81 121h4m66-38h4m0-105h4m122 193h4m-203-131h4m86 75h4m-126-144h4m130 202h4m-162-131h4m61-61h4m17 113h4m-43-65h4m110 37h4m-102-186h4m38 190h4m-241-144h4m205 173h4m97-35h4m-91-61h4m6 21h4m95 125h4m-53-88h4m-7 80h4m-101-104h4m-64-175h4m80 192h4m-82-52h4m55 38h4m70 48h4m-9 84h4m23-207h4m26 77h4m4 26h4m-26 81h4m70 19h4m-138-102h4m-132-112h4m-47 45h4m133-119h4m-101 99h4m146 108h4m-1 16h4m-31-189h4m-51 102h4m18-47h4m-87 98h4m117 43h4m10-48h4m-117 46h4m-45-117h4m115 185h4m8-273h4m40 141h4m-22-63h4m-181-197h4m124 274h4m-111-46h4m52 123h4m100-239h4m-159 71h4m146 176h4m41-187h4m-243-71h4m30 128h4m250 52h4m-247-159h4m171 23h4m-50 165h4m34-133h4m-9 101h4m-69-53h4m-34 10h4m25-33h4m-52 42h4m47 65h4m11-148h4m-37-52h4m15 159h4m127 152h4m-107-212h4m-6 66h4m-81-62h4m-30 39h4m-10-151h4m223 181h4m-191-121h4m26 136h4m-117-136h4m108 142h4m57-59h4m-119 61h4m101-173h4m-63 177h4m-138 9h4m129-177h4m22 191h4m-128-128h4m55-32h4m27 31h4m88 6h4m-37 89h4m-105-14h4m13-32h4m-49-38h4m126 136h4m-133-189h4m3-38h4m-71 72h4m95 57h4m54-4h4m-102-128h4m88 25h4m-11 37h4m45 116h4m-23 35h4m-116-92h4m71 11h4m-109-12h4m78-33h4m-58-62h4m189 183h4m-111-52h4m-68-19h4m-57-226h4m87 236h4m-59-68h4m48-81h4m134 89h4m-116-56h4m-6-12h4m-53 52h4m152 190h4m-53-136h4m-80-48h4m-45 160h4m17-221h4m136 224h4m-181-69h4m-31-98h4m49-123h4m169 209h4m-92-26h4m-62 66h4m77 19h4m-92-90h4m36-165h4m-34 133h4m57 28h4m-5 17h4m-179-146h4m252 152h4m-216-94h4m62 53h4m-69 155h4m26-305h4m-26 165h4m206 34h4m-154-60h4m48 21h4m-91 110h4m-2-126h4m-73 3h4m130 134h4m2-49h4m-153-129h4m190 76h4m-161-126h4m162 157h4m-71-56h4m-195-182h4m265 267h4m-98-22h4m-12-6h4m75 42h4m-20-156h4m-137 55h4m8-96h4m70 238h4m58-203h4m-63 96h4m-12 7h4m24-56h4m47 30h4m-36 57h4m-47-33h4m118-37h4m-193-72h4m35 104h4m-28-222h4m46 172h4m27 21h4m41 69h4m25-31h4m-201-26h4m91 23h4m-139-91h4m117 83h4m124 94h4m-73-150h4m-107 6h4m51 59h4m-43-38h4m136 99h4m-108 2h4m49 32h4m-76-157h4m-9 71h4m62-3h4m-73 11h4m92-31h4m-207-88h4m285 250h4m7-123h4m-210-59h4m54 22h4m11 17h4m45-19h4m-102-54h4m80 16h4m-110-75h4m-72 50h4m189 65h4m-17 10h4m-114 22h4m164-19h4m-36 66h4m-97-80h4m-19-32h4m15 174h4m21-280h4m-17 206h4m-145-314h4m-35 43h4m307 198h4m-132 131h4m137-21h4m-159-164h4m-18 26h4m32 36h4m33 105h4m-15 4h4m-58-34h4m-102-74h4m147-89h4m-181-99h4m199 202h4m-113-152h4m-39 130h4m33-40h4m27-30h4m-36 39h4m26 67h4m-2-11h4m29 26h4m48-17h4m-124-119h4m79-48h4m-30 196h4m-76-220h4m142 306h4m-116-133h4m22-2h4m-10-75h4m73 51h4m-10 52h4m67-37h4m-16 118h4m-102-61h4m-9-21h4m-88-89h4m-6 31h4m187 60h4m-152-57h4m-108 27h4m175 95h4m-25-152h4m-45-21h4m0 112h4m-153-68h4m125 169h4m43-241h4m-48 126h4m41 16h4m-84-119h4m231 190h4m-32 134h4m-201-215h4m98 11h4m-90-82h4m25-33h4m-20 26h4m-37-37h4m56 67h4m-100-20h4m-22 48h4m181-81h4m-61 62h4m-7 43h4m-99-109h4m207 119h4m-208-52h4m89 27h4m4-98h4m-44 93h4m-100 47h4m131 15h4m-207-64h4m186-113h4m-3 16h4m-110-14h4m140 35h4m-105 36h4m-44-140h4m39-60h4m75 265h4m-51-32h4m-31 102h4m-69-186h4m48 40h4m75 14h4m-104 134h4m13-157h4m89 97h4m-88-162h4m10 116h4m39-1h4m-99 27h4m196-127h4m-39-27h4m-95 18h4m69-6h4m1-30h4m-111 214h4m46-229h4m85 80h4m-57-68h4m-172 3h4m92-45h4m108 74h4m-45-10h4m-112-84h4m77 56h4m148 147h4m-218 26h4m120-106h4m-85 111h4m-53-105h4m100 23h4m48-2h4m-83-118h4m-8 17h4m-5 5h4m-108-53h4m220 231h4m-71-14h4m-64-105h4m79 5h4m-86 5h4m72-24h4m-104-24h4m168 124h4m-100 53h4m-51-126h4m42-69h4m23 64h4m6 26h4m-80-112h4m-133-36h4m162 57h4m39 127h4m-77-25h4m38-39h4m4 47h4m6-82h4m-25 26h4m-98-21h4m157 89h4m-92-95h4m-149 10h4m104-48h4m-19 236h4m59-206h4m-144 171h4m184-68h4m-48-99h4m8 3h4m-40 18h4m33 5h4m-29-59h4m19 70h4m-95-83h4m23 95h4m-7-76h4m-25-35h4m172 216h4m-117-69h4m38-56h4m-27-36h4m-176 55h4m42 139h4m105-120h4m-32-92h4m111 134h4m-147-64h4m-23-18h4m64 11h4m31-15h4m-218-39h4m171 115h4m-34-45h4" stroke="#0000ff"/></g><g transform="scale(0.25)" stroke-width="4.00" fill="none" stroke-opacity="0.85"><path d="m2023 315h4m100 46h4m-218-92h4m263 41h4m-242 47h4m105 14h4m75-119h4m-78 95h4m-50-39h4m46-43h4m71 187h4m-107-176h4m38 113h4m-192-71h4m171 112h4m-11-16h4m86-96h4m-80 50h4m-93-113h4m66 80h4m46 6h4m-61-44h4m-82 99h4m110-33h4m46 30h4m-1 68h4m-76-163h4m53 92h4m-133 54h4m-34-167h4m-7 72h4m140-25h4m-146 40h4m42 7h4m-62 47h4m98-80h4m12 80h4m-44-44h4m49-52h4m-114 110h4m275-114h4m-225 56h4m-55 27h4m108-63h4m-81 42h4m41-10h4m-99 14h4m78 8h4m-67-2h4m156-103h4m-71 23h4m-130 18h4m125 30h4m12-77h4m-40 105h4m-100 41h4m131-118h4m-95-9h4m-11 84h4m5-71h4m35-45h4m-110 113h4m239-12h4m-120-31h4m-154 81h4m70-107h4m123 57h4m-57 45h4m-38-118h4m191 86h4m-239-51h4m78 41h4m-91 26h4m104-63h4m-60 53h4m-102 9h4m23-55h4m149 0h4m-212-45h4m261 85h4m-291-178h4m160 153h4m107-14h4m-286-20h4m228-8h4m-130 58h4m-72 80h4m83-64h4m71-59h4m99-43h4m-141 127h4m-115-71h4m101-19h4m-5 87h4m-19-37h4m-56-21h4m23 99h4m71-121h4m-5-76h4m-20 171h4m-39 60h4m34-167h4m-59 79h4m121 5h4m-1 11h4m-20-35h4m-170-36h4m218-79h4m-88 130h4m-133 17h4m158-119h4m-57 29h4m-215 113h4m5 53h4m41-137h4m222-62h4m-137 82h4m-19-56h4m-109 83h4m214-153h4m-189 122h4m74 66h4m93-88h4m-234 44h4m188-9h4m20-14h4m77-55h4m-145 82h4m-168-82h4m233 38h4m-47 11h4m119-66h4m-42 100h4m-95-37h4m-136 22h4m108 36h4m103-122h4m-152 5h4m-26-8h4m92 81h4m42-43h4m-20 30h4m-10-27h4m-92 57h4m178-32h4m-115-1h4m-35-75h4m-57 121h4m108-24h4m-87-20h4m277-83h4m-314 98h4m-4-37h4m215-22h4m-77 85h4m-80-32h4m-83 36h4m115-88h4m57-5h4m0 71h4m-200-74h4m8 66h4m39 28h4m69-57h4m-5 20h4m155-123h4m-243 130h4m76 117h4m-103-170h4m46-74h4m-94 48h4m93 98h4m-67-53h4m148-3h4m41 27h4m-133-10h4m-1 104h4m-28-68h4m-157-63h4m118-43h4m-22 105h4m47 54h4m113-122h4m-157 111h4m143-115h4m-47 35h4m-230-4h4m155-24h4m91 122h4m-182-38h4m74-53h4m-73 15h4m-7 77h4m61-128h4m24 71h4m-73 9h4m11-106h4m40 4h4m33 69h4m163 25h4m-70-2h4m-126 4h4m-61-77h4m62 101h4m-165-18h4m146-29h4m5 65h4m41-69h4m-56 8h4m-23 39h4m-11-112h4m-18 104h4m33-43h4m137-1h4m-139 21h4m-109 16h4m90-29h4m46-3h4m-120 26h4m86-56h4m-44 71h4m200-10h4m-174-90h4m-126 28h4m151-63h4m-11 130h4m-59 29h4m22-7h4m15-84h4m-153 50h4m195-80h4m-80-7h4m39 48h4m118-62h4m-97 115h4m-45-39h4m-76-81h4m87 70h4m-47-97h4m-80 28h4m18 116h4m-75-11h4m79-114h4m33 86h4m-54-61h4m196 82h4m-117-61h4m86 33h4m-172-35h4m50 15h4m-8-51h4m-143 72h4m106 13h4m-3-12h4m2 73h4m-42-33h4m-1 21h4m-82-108h4m139 6h4m-90 55h4m72-4h4m-23-75h4m8-22h4m27 43h4m-162 130h4m136 5h4m-20-62h4m-25 3h4m-22-50h4m-106 35h4m78 26h4m74-25h4m-88-48h4m154 15h4m14-31h4m-115-21h4m92-42h4m-170-12h4m103 207h4m-67-57h4m119-82h4m-163 47h4m-93 123h4m319-221h4m-227 40h4m6 94h4m96-134h4m-97 137h4m39-89h4m60 22h4m-93 38h4m-87 37h4m215-22h4m-127-112h4m76 101h4m50-3h4m-263 40h4m75-38h4m-72 45h4m205-146h4m-165 147h4m176-56h4m-77 2h4m-16 32h4m-183 7h4m242 33h4m-228-71h4m39 98h4m-19-185h4m125 165h4m17-110h4m-144 31h4m198-76h4m-167 89h4m18-15h4m11-80h4m114 56h4m-17 135h4m-104-115h4m-4-11h4m24 59h4m106 26h4m-128-96h4m-72 145h4m36-60h4m90-43h4m-61 96h4m60-114h4m-135 25h4m58-38h4m-39-14h4m2 4h4m-52 54h4m80-67h4m-24 82h4m-14-49h4m135-36h4m-140 93h4m-27-91h4m92 159h4m-42-152h4m-94-52h4m168 98h4m-149-52h4m-28 30h4m210-18h4m-85-61h4m-27 124h4m-11-16h4m-13 53h4m21-50h4m-28 14h4m-193-19h4m140-90h4m305 5h4m-286 71h4m-4 40h4m99 27h4m-178-128h4m27 15h4m100-4h4m-8 110h4m-38-55h4m-55-47h4m50 89h4m29-57h4m-147 5h4m152 56h4m-58-31h4m11 11h4m-33-81h4m-114 4h4m156 50h4m72-132h4m-194 170h4m142-75h4m-129 59h4m-105-69h4m266-9h4m-275 81h4m160-45h4m-164-16h4m76 98h4m-18-87h4m94 35h4m-22 11h4m-118-36h4m78 1h4m-95 81h4m169-38h4m-192-63h4m172 47h4m-58-35h4m6 50h4m3-65h4m-151 31h4m77 69h4m14-40h4m-5-74h4m57 63h4m-47-30h4m-60-35h4m-103 233h4m-110-5h4m161-124h4m133-202h4m-63 223h4m-99-51h4m47 66h4m-39-26h4m-74-21h4m-6-74h4m112 62h4m111-34h4m-239 113h4m76-194h4m103 135h4m-208 158h4m176-390h4m-152 208h4m21-150h4m-170 233h4m127-62h4m119 78h4m21-126h4m-97 77h4m-8-124h4m-154 51h4m79 18h4m64 87h4m48-31h4m-12-34h4m95 45h4m-74 31h4m-24-76h4m-39 33h4m-119 40h4m268-43h4m-48-132h4m-277 185h4m213-28h4m-39 43h4m-317-38h4m499-135h4m-206-43h4m146 115h4m60-41h4m-311-47h4m177 3h4m-246 151h4m194-76h4m-125 32h4m103 17h4m-51-2h4m-31-31h4m108-55h4m-44-58h4m81 100h4m-70-34h4m32 103h4m-33 25h4m76-64h4m3-101h4m41 49h4m-231-18h4m150 76h4m157-101h4m-250 24h4m166-76h4m-74-22h4m-141 314h4m26-112h4m-196 5h4m93-81h4m26 26h4m34-107h4m37 78h4m51-53h4m-150 168h4m185-187h4m-181 144h4m-144 40h4m143-48h4m108-29h4m-34-17h4m140-140h4m-162 208h4m-12-41h4m-100-85h4m-10 186h4m76-105h4m14 47h4m76-94h4m-21-73h4m-193 98h4m189-50h4m-91 8h4m100 69h4m-39-28h4m-13 45h4m-129-17h4m7 25h4m110-114h4m42-59h4m-8 229h4m95-50h4m-111-66h4m-104 106h4m47-126h4m81-30h4m-99 80h4m-44-75h4m-129 107h4m128-139h4m1 109h4m-20-48h4m86 127h4m-199-140h4m54 183h4m334-185h4m-49-20h4m-286-56h4m1 345h4m81-279h4m-160 252h4m-24-122h4m294-4h4m-232-93h4m174 21h4m-44 31h4m-78 160h4m18-43h4m78-175h4m-217 26h4m178 56h4m-65-122h4m43 147h4m-192-70h4m236-114h4m-171 176h4m-25-173h4m96 109h4m-204 125h4m274-81h4m-36 55h4m-117-35h4m131-256h4m-61 232h4m34-9h4m87-171h4m-293 219h4m225-167h4m89 79h4m-248 140h4m58-112h4m32-108h4m-77 179h4m60-143h4m111-169h4m-231 260h4m25 42h4m219-86h4m-146-15h4m-200 33h4m172-30h4m73 32h4m19-61h4m-144 134h4m-106 20h4m-117-60h4m84-77h4m187 93h4m-24-45h4m-185 118h4m34-68h4m80-23h4m-159-12h4m89-60h4m-37 25h4m75 49h4m-5-53h4m72-40h4m-105 72h4m20 56h4m-32-196h4m125 220h4m1 13h4m-144-67h4m38-111h4m-81 49h4m19 118h4m115 45h4m-112-155h4m-8 92h4m-72-129h4m139 3h4m-60 191h4m-94-126h4m42-144h4m-51 212h4m134-17h4m-116-28h4m18 117h4m110-122h4m-120 78h4m75-132h4m58 8h4m-175 98h4m159 18h4m-11-185h4m-55-3h4m-1 271h4m-264-152h4m80 84h4m44-106h4m88-40h4m51 96h4m-25-33h4m-45-33h4m127 79h4m-241 53h4m166-112h4m8 41h4m-101-27h4m-48 46h4m-18-22h4m204-49h4m-219 45h4m40 138h4m49-128h4m-67 56h4m130-193h4m-81 55h4m-83-62h4m130-13h4m-120 35h4m-15 89h4m32 51h4m28-80h4m-54-110h4m8 206h4m-62-83h4m296-55h4m-106 48h4m-223-39h4m75 0h4m104 175h4m-129-58h4m213-55h4m-131-36h4m-149 77h4m92 45h4m68 79h4m85-381h4m-192 295h4m118 21h4m0-105h4m-88-50h4m-78-34h4m-99 241h4m56-331h4m43 20h4m-62 61h4m-68 87h4m146-29h4m-10 160h4m-62 62h4m41-105h4m-11-131h4m84-65h4m-81 8h4m34 291h4m-166-206h4m-152 40h4m443 209h4m115-357h4m-401 209h4m532-111h4m-228-168h4m-364 206h4m187-45h4m400-178h4m-364 33h4m-159 0h4m265 151h4m-404 192h4m434-218h4m40 107h4m263 40h4m-617 8h4m226-78h4" stroke="#ff0000"/><path d="m1739 583h4m20-44h4m81 93h4m-89 24h4m-22-92h4m-92 83h4m225-161h4m-55 85h4m-44 15h4m32-70h4m-1 83h4m30-102h4m-119 120h4m118-112h4m-81 98h4m-20-38h4m-5 101h4m-85-16h4m169-77h4m-40-16h4m7-19h4m-46 66h4m35-122h4m3-7h4m-94 198h4m120-153h4m4 81h4m-120-44h4m13-16h4m5 70h4m54-93h4m-68 113h4m69-136h4m-102 65h4m-40 71h4m127-57h4m-62 49h4m-120 2h4m-4 84h4m113-38h4m-1-176h4m-56 140h4m4-31h4m121-55h4m-53-85h4m-80 101h4m27-38h4m66-1h4m-127 101h4m73-102h4m-119 116h4m35 15h4m58-141h4m-6 24h4m87-116h4m-111 222h4m31-98h4m32-32h4m-105 142h4m18-49h4m34-172h4m-144 243h4m102-94h4m20 23h4m-43-19h4m15 25h4m17-73h4m-11-5h4m89 31h4m-132-8h4m111-33h4m-76 152h4m-4-72h4m-59-16h4m57-16h4m-62 13h4m70-30h4m-81 24h4m91-50h4m-89 61h4m-63-9h4m30 100h4m-27 33h4m130-143h4m-53 37h4m17-48h4m21-12h4m-63 48h4m25-35h4m-37 103h4m-76-21h4m108 5h4m-111-28h4m17 48h4m61-168h4m-52 122h4m48-57h4m8-21h4m-38 47h4m10-11h4m61-139h4m-82 54h4m97-21h4m-136 182h4m100-126h4m-34 96h4m74-124h4m-163 164h4m114-121h4m-15-7h4m-21 26h4m-88 81h4m171-180h4m-162 140h4m29-5h4m5-93h4m-1 68h4m-37 32h4m-32-98h4m39 173h4m31-104h4m-32 83h4m65-133h4m-120 38h4m-28 56h4m89-94h4m-65 114h4m20-33h4m58-8h4m20-78h4m-102 102h4m-2 23h4m53-73h4m-87 89h4m-32 9h4m101-150h4m-74-16h4m-2-45h4m15 140h4m48-30h4m-5-12h4m47-87h4m-169 220h4m7-120h4m-42 105h4m18-44h4m155-91h4m-116 106h4m111-140h4m-119 134h4m1-30h4m-32 105h4m64-118h4m-28-69h4m-60 114h4m74-149h4m-124 133h4m92 79h4m101-202h4m-43-10h4m14 76h4m-75-52h4m-6 9h4m55 14h4m-48 63h4m-58-52h4m82-7h4m26-11h4m-43 35h4m-47 68h4m-9-75h4m29-15h4m21-22h4m-63 34h4m152-70h4m-171 22h4m37 82h4m-69 38h4m69-92h4m19-31h4m-89 178h4m55-95h4m-6 68h4m-71 0h4m-6 16h4m30-83h4m-90 85h4m94-145h4m3 31h4m-18-12h4m-59 117h4m142-140h4m-33-63h4m-131 276h4m115-149h4m-28-22h4m-81 85h4m178-158h4m-178 110h4m-29 33h4m-10-33h4m48 65h4m15-67h4m-45 27h4m37-113h4m37 42h4m-7 2h4m29 108h4m-36-137h4m-61 64h4m58 3h4m-136 116h4m74-88h4m5-98h4m-44 86h4m65-83h4m-115 120h4m107-120h4m0-121h4m-56 201h4m-34-25h4m61-57h4m-44 51h4m-62 35h4m89-57h4m-12 64h4m-70 98h4m170-211h4m-129 103h4m34 42h4m30-160h4m-84 93h4m80-108h4m-30 100h4m-108 115h4m91-164h4m-62 185h4m91-229h4m-23 102h4m-140 86h4m20 0h4m59-29h4m3-78h4m62-66h4m-52 180h4m-35-136h4m93 10h4m-80 30h4m-7-1h4m-58-27h4m45 72h4m-10-47h4m87-101h4m-67 65h4m-67 99h4m13-30h4m-6 35h4m13-28h4m25-81h4m34-30h4m-60 58h4m-44-50h4m30 135h4m4-20h4m55-24h4m-103 25h4m35-121h4m7 30h4m57-82h4m-7 46h4m-81 77h4m-47 28h4m-17 22h4m25 8h4m140-173h4m-147 87h4m65-46h4m63-11h4m-139 158h4m142-190h4m-27 49h4m-90 89h4m62-89h4m-37-64h4m-44 141h4m-47 17h4m126-172h4m-104 57h4m79 105h4m102-210h4m-118 148h4m-47 31h4m-7-60h4m-38 87h4m9-65h4m75-41h4m-89-13h4m17 109h4m-4 20h4m22-117h4m10-8h4m-60 177h4m69-189h4m-113 191h4m10 7h4m68-189h4m-12 98h4m12 34h4m-55-30h4m-25 69h4m68-174h4m0 91h4m-88 36h4m117-24h4m-135 93h4m113-167h4m-112 70h4m12 7h4m75-25h4m-89 103h4m-20-41h4m61-18h4m108-140h4m-53 1h4m-49 24h4m25-63h4m-67 120h4m22 43h4m-162 152h4m153-274h4m111-54h4m-97-65h4m43 82h4m40-97h4m-162 210h4m105-267h4m10 215h4m-66-163h4m-84-105h4m131 29h4m-101 112h4m89-78h4m-68 109h4m-98 143h4m44-56h4m66-154h4m27 96h4m-41-50h4m-36 39h4m103-42h4m-74-27h4m-79-58h4m5 130h4m-4 214h4m72-285h4m3 71h4m-21-50h4m-66-52h4m52 159h4m41-117h4m-37 48h4m33-106h4m-80 83h4m-143 177h4m67-31h4m135-2h4m-184-139h4m101 121h4m6-116h4m-71 109h4m33-119h4m89-33h4m-54 160h4m-35-16h4m60-130h4m-41-80h4m-4-1h4m-74 152h4m72-75h4m14 32h4m-72 1h4m151-6h4m-103 133h4m-33-241h4m112 102h4m-104 188h4m-103-27h4m30-48h4m6-288h4m2 374h4m77-272h4m40 68h4m-147 47h4m29 10h4m-35-105h4m73 74h4m-21 85h4m-4-207h4m-105 240h4m159-210h4m-38-59h4m-78 329h4m33-133h4m-75 150h4m56-196h4m-193 192h4m162-125h4m-6 70h4m82-134h4m19 104h4m-4-59h4m-131-95h4m-3 156h4m38-44h4m14-27h4m-50-37h4m65 27h4m-38-34h4m-99 122h4m100-44h4m37-96h4m-50 111h4m-102 47h4m59-118h4m37 2h4m31-154h4m-72 213h4m116-159h4m-46 0h4m-49 11h4m-26-62h4m-28 228h4m-6-101h4m77-136h4m-84 224h4m-6-61h4m83-127h4m-63 99h4m61 6h4m-22-137h4m-48 50h4m68-6h4m-70 124h4m101-112h4m-168 56h4m9 229h4m-45-277h4m31 0h4m24 95h4m36 111h4m-26-73h4m-38-179h4m56 68h4m63-14h4m-31 44h4m-2 15h4m-54 186h4m-35-187h4m1-81h4m7 66h4m24-49h4m-24 124h4m32-54h4m103-25h4m-144-9h4m-23-74h4m102 301h4m-130 38h4m48-191h4m8 33h4m16 46h4m87-164h4m-25 17h4m-134-158h4m51 127h4m-106 8h4m152 99h4m-155 22h4m100 57h4m-98-73h4m98-164h4m42 80h4m-182-74h4m86 234h4m8-270h4m-34 185h4m-20-141h4m-48 230h4m136-170h4m48 121h4m-239-50h4m56-50h4m62-113h4m-38 109h4m12-81h4m-10 190h4m-21-77h4m35 85h4m-30-1h4m18-21h4m-87-73h4m13 92h4m73-114h4m-109 111h4m101-48h4m-82-220h4m50 244h4m-22-189h4m-3 220h4m109-115h4m-106 231h4m20-266h4m12 88h4m-69-41h4m-48 82h4m-2 147h4m-29-328h4m-39 327h4m20 44h4m193-301h4m-115-81h4m97 148h4m-26 68h4m57-148h4m-57-13h4m-38 47h4m-25-101h4m-30 288h4m45-89h4m13-8h4m19-64h4m26 94h4m-200 53h4m86-20h4m-55-33h4m11-104h4m109 57h4m-19 21h4m-48-21h4m74-71h4m-122 92h4m-117-23h4m90 59h4m131-173h4m-22 41h4m-4 168h4m-71-262h4m-2 36h4m-50-69h4m32 273h4m-89 123h4m111-291h4m-87 140h4m68-76h4m-10-43h4m71 31h4m-188 220h4m100-159h4m0-155h4m-53 125h4m107 18h4m-4-85h4m-216 62h4m22 70h4m24 24h4m178-121h4m-125 58h4m64 57h4m-216 186h4m231-355h4m-107-15h4m-24 137h4m-31 78h4m31-146h4m-5-40h4m61-104h4m28 173h4m21-115h4m34 201h4m-272 122h4m212-146h4m-34-237h4m-24 128h4m-70 33h4m41 57h4m-73 13h4m98-106h4m-35-70h4m6 93h4m54 5h4m-59 168h4m-54-41h4m27-82h4m37-131h4m13-59h4m10-23h4m-28 130h4m-11 75h4m1 42h4m-7-170h4m9 136h4m67-60h4m-170 116h4m267-356h4m-134 105h4m-126 281h4m-6-42h4m160-136h4m-126 37h4m15 22h4m-13-14h4m65 81h4m-122-60h4m-3-88h4m-15 18h4m26 150h4m-25-77h4m-31 30h4m98-127h4m-48 84h4m55-173h4m18 118h4m-71 117h4m-146 18h4m183-211h4m-35 200h4m5-56h4m94-150h4m-135 96h4m-129 260h4m152-199h4m-46-1h4m-28 51h4m17-181h4m104 115h4m-90 61h4m-88-41h4m112-71h4m-63-3h4m100-81h4m-127 297h4m135-310h4m-88 233h4m-47-31h4m54-47h4m-181 102h4m-17-111h4m133 104h4m102-145h4m-2-78h4m-97 125h4m-128-46h4m57 159h4m142-272h4m-63 24h4m-83 117h4m-11 122h4m51 21h4m15-124h4m-93 45h4m-27 10h4m140-67h4m28-152h4m-166 311h4m177-225h4m-144 197h4m30-109h4m-1-74h4m-105 74h4m165-47h4m-68 26h4m63-128h4m6 64h4m-27 46h4m-46-6h4m4-97h4m98 174h4m-39-59h4m-7-67h4m42-10h4m-106-14h4m74 37h4m-137 67h4m32-191h4m109 255h4m-107-134h4m16 89h4m20-109h4m-86 164h4m-33 11h4m23-217h4m-36 157h4m12-69h4m87-40h4m-36 82h4m-60 96h4m92-121h4m-65 20h4m-73 34h4m76-155h4m-2 38h4m-135-20h4m130 105h4m-155-61h4m128 42h4m-29 156h4m77-230h4m-91 14h4m8 182h4m73-250h4m-176 100h4m178 189h4m-40-179h4m39 70h4m-83 21h4m-177 135h4m163-287h4m152 63h4m-217 118h4m27-85h4m5 82h4m19 1h4m19-203h4m4-4h4m1 150h4m43-108h4m-55-88h4m-72 98h4m-51 243h4m79-98h4m7-124h4m-81 36h4m111-4h4m23-133h4m-17 75h4m-88 117h4m72-131h4m-32 131h4m-42-64h4m65-147h4m-8 29h4m-60 29h4m-5 235h4m-79-38h4m2 131h4m87-286h4m50-100h4m-97 106h4m6 212h4m79-309h4m-10 68h4m10 14h4m-156 168h4m104-67h4m-25-10h4m-118-159h4m146 56h4m-96 99h4m49 111h4m108-175h4m-88 81h4m-45 58h4m-24 34h4m83-161h4m6-6h4m-40 13h4m-45 133h4m117-45h4m-201-2h4m26 50h4m127-244h4m-74 231h4m5-188h4m-50 78h4m-35 108h4m76-131h4m32-41h4m-84 60h4m96 34h4m14-161h4m-66 22h4m57 134h4m-43 136h4m-4-147h4m-22-17h4m-76 28h4m-36 125h4m-15-187h4m-7 264h4m-7-247h4m32-188h4m-238 261h4m207-70h4m77 18h4m-172-111h4m-15 146h4m247-4h4m-111-120h4m-60 330h4m-90-109h4m297-211h4m-147 63h4m-125-97h4m53-55h4m93 174h4m-211-232h4m166 176h4m-156-98h4m179 142h4m-34-94h4m143 81h4m79-90h4m112-9h4" stroke="#0000ff"/><path d="m1881 405h4m188-45h4m41-4h4m-121-38h4m-76 88h4m58 21h4m-10-142h4m78 65h4m14-15h4m107-84h4m-227 117h4m33-41h4m117-5h4m-112 29h4m100 82h4m-12-108h4m-144 45h4m91-55h4m16 18h4m-121 29h4m159-4h4m-83-42h4m-26 64h4m-94-35h4m188 45h4m-119-69h4m-24 60h4m212-48h4m-349-38h4m220 96h4m-48 41h4m26-91h4m-128 79h4m178-55h4m16 38h4m-67-56h4m-70 74h4m-56-84h4m138 78h4m3-101h4m-90 12h4m38 59h4m-45-39h4m-49 12h4m37-84h4m16 110h4m129-117h4m-254 89h4m98-15h4m-86-9h4m52 35h4m-13-108h4m114 60h4m-184-48h4m159 155h4m-109-66h4m-2 27h4m-181-12h4m343-21h4m-166-28h4m134-21h4m-283 44h4m145-20h4m-26 62h4m-19 2h4m34-57h4m-161-11h4m151-53h4m-36 43h4m76 98h4m25 13h4m-92-88h4m-99 38h4m308-24h4m-113-5h4m-66 2h4m-74-39h4m5 85h4m128-3h4m-89-32h4m61-4h4m-72 33h4m-37-9h4m54 40h4m75-107h4m-74-12h4m-114 40h4m54 54h4m42-58h4m94 101h4m-206-108h4m26 1h4m13 57h4m91 15h4m-29 3h4m-126-28h4m83-74h4m1-4h4m-16 45h4m-36 54h4m30 50h4m-6-85h4m83-40h4m-104 63h4m77-71h4m40 60h4m-85-47h4m-42-17h4m-57 74h4m-51-103h4m-45 112h4m181-17h4m72 7h4m-32 0h4m-263 41h4m252-76h4m-20-1h4m-60 89h4m-25-87h4m17-2h4m-59 34h4m127-70h4m-199 68h4m79 6h4m-57-80h4m31 52h4m-22-79h4m40 57h4m41 45h4m51-73h4m-36-25h4m-94 17h4m140 85h4m-213 103h4m68-157h4m-4 19h4m73-18h4m-58-22h4m43 3h4m-122 25h4m72 0h4m61 38h4m-174 31h4m121-82h4m55-1h4m23-57h4m25 128h4m-108-95h4m-93 29h4m-34 51h4m166-53h4m-55 6h4m-58-40h4m29 73h4m182 14h4m-185-36h4m-1 50h4m-48 14h4m63-47h4m231 33h4m-303-45h4m-9-10h4m-1 60h4m7-31h4m-21-27h4m-48-11h4m101-14h4m-1 100h4m-26-7h4m-98-9h4m128-150h4m-102 98h4m211 7h4m-142 69h4m12-74h4m-118-96h4m-78 206h4m178-173h4m-27 91h4m-30-40h4m-176 49h4m187-56h4m62 22h4m-106-19h4m77-25h4m-18 77h4m-182-3h4m175-150h4m-26 158h4m56-24h4m-115-73h4m-74 11h4m190-51h4m-94 68h4m2 1h4m19 38h4m97 24h4m-68-44h4m-131 76h4m155-135h4m-26 19h4m-17 14h4m-41 94h4m-49-114h4m72 94h4m-190-26h4m10 24h4m205-30h4m-32 5h4m-62 18h4m0-64h4m1 85h4m78-120h4m-89 27h4m-60 18h4m30 3h4m-112 36h4m105-83h4m1 131h4m-116-39h4m50 17h4m125-116h4m-129 3h4m69 154h4m-79 22h4m155-92h4m-108 61h4m-65-182h4m38 111h4m30 82h4m-28-50h4m-14-40h4m36 2h4m-61-49h4m184 106h4m-221-130h4m237-5h4m-235 98h4m26 6h4m108-11h4m-43 34h4m-192-84h4m37 50h4m78 39h4m-56-174h4m151 129h4m-38-33h4m-122-2h4m171-47h4m-42 33h4m-124 60h4m-106-46h4m179 84h4m45-21h4m-32-64h4m-71 43h4m-12 31h4m53-56h4m-38 44h4m-11-49h4m92-13h4m-229 55h4m70-27h4m21 41h4m-9-17h4m-130 2h4m170 29h4m27-155h4m-105 110h4m-97-66h4m344 11h4m-249 74h4m187-31h4m7 42h4m-211 6h4m82-69h4m-39 90h4m126-135h4m-119 95h4m-106 4h4m3-39h4m102-53h4m-142 86h4m-34-47h4m162 75h4m32-99h4m-263 37h4m145-33h4m185 15h4m-164-13h4m5-3h4m180-7h4m-176 151h4m16-68h4m-96-74h4m87-13h4m-57 115h4m-95-4h4m170-79h4m-47 1h4m24 26h4m-6 81h4m102-207h4m-180 194h4m64-85h4m132 42h4m-165-22h4m73-104h4m-39 57h4m58 73h4m-89 68h4m44-136h4m-68-2h4m36 12h4m-115 31h4m156 24h4m-166-10h4m161-69h4m-78 26h4m84-18h4m-99-54h4m-118 104h4m106 63h4m18 10h4m24-155h4m-47 92h4m-115-38h4m85 16h4m10-58h4m-161 30h4m122 23h4m-123 0h4m215-1h4m40 58h4m-187-30h4m127 12h4m-26-33h4m-129 37h4m36-11h4m21-73h4m56 74h4m-102-20h4m-19-15h4m-16 86h4m118-188h4m29 53h4m17 152h4m-81-139h4m-52 160h4m-6-79h4m-46 33h4m-57-14h4m146-65h4m-34 20h4m83 37h4m82-18h4m-61-69h4m-171 67h4m64-52h4m-19-21h4m55 34h4m-111 12h4m68 16h4m-52-27h4m82-44h4m-38 82h4m-5-35h4m-23 9h4m85-79h4m25 3h4m-125 62h4m71-92h4m27 101h4m-162-2h4m22-81h4m49 98h4m-151-41h4m213 56h4m-257 7h4m145 21h4m151 49h4m-48-85h4m23 27h4m-117 10h4m-149-65h4m130 45h4m45 24h4m-53-143h4m-152 108h4m154 51h4m110-104h4m-84-37h4m5 51h4m-10 35h4m-46 89h4m-68-138h4m70 104h4m-57-144h4m-108 61h4m187 2h4m-95 83h4m-149-61h4m215 43h4m-231 93h4m271-128h4m-53 14h4m-46-45h4m-53 16h4m-66 143h4m173-130h4m-106-2h4m-50-51h4m120-9h4m-86 169h4m2-65h4m-20 116h4m-8-168h4m104-93h4m-117 174h4m74-20h4m26-43h4m-81-69h4m54 23h4m-73 3h4m22 140h4m-137-209h4m7 224h4m-21-164h4m192 32h4m-24 76h4m28-95h4m-177-57h4m-31 146h4m139-52h4m169 5h4m-313 83h4m283-40h4m-189-82h4m17 38h4m-36-10h4m22 70h4m109-75h4m-29-49h4m-16 89h4m-215 138h4m74-231h4m49 148h4m19 35h4m-56-37h4m39-77h4m-59-10h4m198-108h4m-128 234h4m-182-8h4m56-92h4m126-77h4m-245 212h4m74-193h4m101-10h4m-85 30h4m146 97h4m7-100h4m-102 9h4m133-43h4m-136 46h4m68 19h4m-74-77h4m14 85h4m-117-79h4m-25 180h4m125-190h4m20 170h4m105-215h4m-10 138h4m-314-58h4m351 121h4m-387 69h4m283-196h4m-284 158h4m-21-52h4m288-113h4m-200 54h4m44 149h4m12-88h4m164-111h4m-179 102h4m91-50h4m-56 50h4m-85-19h4m142-75h4m-187 21h4m72 126h4m34-109h4m1-25h4m114-101h4m-18 154h4m-220 29h4m19 75h4m-1-96h4m-38 39h4m38-9h4m-15 65h4m118-104h4m-135-70h4m48 136h4m-35 90h4m27-165h4m123-88h4m101-18h4m-81 114h4m-44-59h4m-328 217h4m481-197h4m-148-37h4m-127-41h4m162 38h4m-82 172h4m-17-95h4m15 143h4m-183-106h4m190-72h4m-216 81h4m93-93h4m38 155h4m-201 38h4m221-246h4m-128 200h4m103-110h4m-111-24h4m188 98h4m-38-176h4m-233 104h4m207 84h4m-8-141h4m-141 243h4m-113-161h4m51 34h4m185-62h4m-11-16h4m-188 39h4m300-24h4m-251 118h4m166-154h4m-109-25h4m223 19h4m-69 29h4m-174-116h4m88 131h4m-92 143h4m-43-71h4m-57-57h4m79 29h4m51-113h4m-142 270h4m87-21h4m96-272h4m27 62h4m-396 156h4m163-141h4m306-134h4m-299 233h4m161 82h4m-51-196h4m-84 74h4m196-184h4m109-31h4m-232 280h4m-96 1h4m-9 139h4m-40-163h4m-146-24h4m229 12h4m-38-85h4m204 80h4m-485 5h4m298-43h4m-86 41h4m35 51h4m82-157h4m-56 103h4m-129-76h4m91 51h4m102-60h4m-160 97h4m-1 29h4m-85-65h4m187-120h4m-103 115h4m-26 132h4m39-233h4m-31 146h4m69 40h4m199-144h4m-424-10h4m87 100h4m-128 107h4m288-185h4m-2-11h4m-30 38h4m-137 109h4m16-83h4m-43 146h4m149 44h4m-131-216h4m79 138h4m12-7h4m-137-23h4m94-175h4m66 84h4m-3-37h4m-103 118h4m-68-42h4m-5 90h4m16-19h4m103-59h4m106-24h4m-166 97h4m31-142h4m3 189h4m-33-69h4m-35 28h4m146-194h4m51 109h4m-368 190h4m324-242h4m-345 40h4m43 68h4m119-127h4m-44-78h4m65 318h4m-30-245h4m-233 157h4m251-84h4m-95 27h4m23-118h4m99-41h4m-158 190h4m79 151h4m-10-273h4m-48 0h4m-96 57h4m133-88h4m27 167h4m7-185h4m132 9h4m-386 289h4m134 0h4m47-99h4m114-310h4m-74 167h4m17 81h4m57-198h4m48 138h4m-219 4h4m22-82h4m-32 59h4m-7-10h4m-56 87h4m77-25h4m129-107h4m-223 38h4m135-24h4m104-133h4m-125 134h4m-64 99h4m75-132h4m-81-30h4m17 319h4m-207-248h4m275 13h4m-155 159h4m132-57h4m-13-294h4m-16-34h4m154 348h4m-19-218h4m-110 217h4m451-126h4m-114 29h4m-240 226h4m-97-287h4m286 34h4m-490 67h4m-154-202h4m755 55h4m-441-33h4m186-123h4m-430 223h4m206-115h4m102 199h4m134-15h4m-178-292h4m37 126h4" stroke="#ff0000"/><path d="m1769 612h4m20-24h4m-11-36h4m7-68h4m14 111h4m-15-20h4m77-76h4m-82-21h4m-4 134h4m33-63h4m3-100h4m-102 205h4m117-94h4m-65 12h4m37-43h4m-79 120h4m17-103h4m-41 109h4m-61-68h4m20-9h4m-1 0h4m111-171h4m-77 209h4m-6-22h4m-1 43h4m44-133h4m-92 69h4m75 34h4m25-108h4m-110 73h4m71-3h4m89-94h4m-79 110h4m-115 41h4m57-46h4m33-13h4m-22-17h4m-44 41h4m9 14h4m97-110h4m-83 98h4m70-133h4m-27 132h4m-95 30h4m91-91h4m73-1h4m-252 131h4m92-36h4m-28-48h4m19 78h4m14-180h4m-96 197h4m97-124h4m-24 148h4m11-112h4m-5-49h4m15 72h4m-46 52h4m96-112h4m-20-28h4m-47-3h4m57-23h4m-134 161h4m68-78h4m-2-6h4m-50 45h4m-46-4h4m148-187h4m-54 178h4m-25 2h4m-77 21h4m-10 32h4m102 10h4m5-72h4m-68 45h4m20-69h4m-27 49h4m28 25h4m-37-32h4m-41-1h4m97-28h4m-85 117h4m-25 7h4m45-55h4m-31-66h4m-28 1h4m91-103h4m-8 26h4m-50 42h4m-87 187h4m140-141h4m-2-110h4m-6 54h4m1 70h4m14-70h4m-93 37h4m-62-28h4m62-14h4m-40 51h4m106-87h4m-63 111h4m-25-39h4m40-64h4m-9 39h4m-58 47h4m-12 14h4m-129 112h4m83-55h4m29-73h4m82 22h4m3-91h4m-1-38h4m-43 96h4m9-2h4m-38-47h4m13 94h4m15-147h4m-26 90h4m-34-61h4m33 153h4m65-141h4m-127 97h4m15-67h4m9 5h4m9-21h4m-34 68h4m15 8h4m34-58h4m27-32h4m-159 156h4m168-142h4m-33 2h4m-132 89h4m156-130h4m-16 0h4m-6-8h4m-108 118h4m-40 70h4m109-117h4m-53 48h4m22-40h4m-17-65h4m19 10h4m79-98h4m-136 286h4m11-129h4m-78 18h4m106-32h4m47-50h4m-124 69h4m61-96h4m8 138h4m-4-20h4m-83-63h4m-35 126h4m9-21h4m149-156h4m-88 90h4m-20 40h4m-44 35h4m59-151h4m9 166h4m-86 38h4m53-141h4m-58 98h4m8-50h4m-6-94h4m-59 149h4m73-41h4m9-131h4m19 44h4m-2 68h4m-71-60h4m74-44h4m9 69h4m-48 1h4m-19 83h4m12-124h4m39-67h4m-10 77h4m-52 103h4m-7-161h4m-41 117h4m-42 68h4m138-37h4m-77-63h4m115 35h4m-229-23h4m98 55h4m91-166h4m5 34h4m-74 74h4m60-14h4m-26-46h4m-45 107h4m33-113h4m-44-25h4m-67 137h4m75 31h4m9-45h4m-27-51h4m18-65h4m-38 108h4m-2 5h4m-61 57h4m84-142h4m-26 50h4m32-13h4m-61-15h4m21 40h4m-5-108h4m53-34h4m-156 163h4m5-1h4m89-27h4m-33 38h4m56-111h4m-38 13h4m-2 126h4m80-86h4m-92 58h4m-121 102h4m89-195h4m-77 171h4m81-130h4m50-41h4m-128 131h4m89-4h4m25-187h4m-60 65h4m-8 7h4m48 54h4m-36-151h4m-42 169h4m122-103h4m-166 96h4m62 11h4m19-88h4m-80 157h4m57-52h4m3-81h4m-69 97h4m114-47h4m-119-20h4m67-36h4m-1-38h4m-1 6h4m-14 53h4m-23-17h4m-118 114h4m129-70h4m-73-7h4m117-131h4m-77 143h4m-9-111h4m17 113h4m76-160h4m-190 202h4m121-129h4m-5-26h4m-18 89h4m-125 109h4m-39 36h4m195-147h4m-49 6h4m-105 65h4m98-54h4m-77 13h4m-2 14h4m-4-5h4m-4 50h4m57-35h4m54-116h4m-54 42h4m-88 47h4m74-23h4m-80 58h4m-43 42h4m101-123h4m-149 146h4m98-52h4m52-10h4m28-95h4m-27 76h4m-182 47h4m234-203h4m-93 169h4m76-94h4m-32-34h4m0 26h4m-109 90h4m129-86h4m-106 77h4m97-43h4m-116 25h4m53 18h4m-95 6h4m92-56h4m5-7h4m-79 72h4m-3-19h4m36-28h4m-98 15h4m-1 96h4m75-83h4m-49 18h4m79-86h4m-62 133h4m95-145h4m-78 8h4m-40 53h4m-19-42h4m98-4h4m60-35h4m-60 78h4m-75 93h4m-50-1h4m52-52h4m108-159h4m-118 84h4m35-88h4m2 60h4m-108 158h4m9-69h4m86-13h4m3-50h4m-17 23h4m-90 116h4m89-195h4m-10-62h4m91 107h4m-174 148h4m24-171h4m-26 28h4m80 102h4m48-247h4m-173-17h4m138-44h4m-147 126h4m59-7h4m-28 33h4m48-118h4m-143 219h4m-36-91h4m263-109h4m-89 66h4m-18-147h4m42 12h4m-71 155h4m149-92h4m-76-88h4m-108 169h4m70 111h4m51-285h4m-117 107h4m-93 89h4m148-156h4m-123 223h4m111-36h4m4-32h4m-90-242h4m23 126h4m43 162h4m4-74h4m-33-31h4m8 90h4m6 35h4m4-43h4m72-112h4m-252-58h4m170 119h4m57-67h4m-207-100h4m66 238h4m-27-80h4m18 197h4m-37-199h4m95-188h4m-71 174h4m8-29h4m-21 6h4m-22 130h4m78-49h4m-11-152h4m-104 196h4m38-151h4m72-29h4m45-68h4m-106 109h4m-13 105h4m72 56h4m21-60h4m-105-83h4m-1-30h4m-203 193h4m169-241h4m-10 126h4m11-41h4m97 126h4m-70-53h4m59-120h4m-116 162h4m53 19h4m33-26h4m-99 20h4m91-248h4m-47-19h4m62 7h4m-141 151h4m128-12h4m-25-36h4m-139 158h4m24 30h4m30-137h4m30-233h4m-44 247h4m9 148h4m-106 62h4m-32-365h4m197 114h4m-52-38h4m-152 165h4m138-90h4m41-112h4m26-15h4m-121 44h4m27-22h4m12-54h4m181 158h4m-113-70h4m-27 71h4m-37-139h4m-22 82h4m-63-52h4m-24 134h4m-44 78h4m77-86h4m-89-50h4m90-3h4m114 42h4m-114-54h4m-19 66h4m51 91h4m22-182h4m13-32h4m-236 170h4m166-119h4m-112 43h4m184 22h4m-54 43h4m71-75h4m-94-85h4m9 14h4m-23 79h4m131 28h4m-26-92h4m-84-45h4m-79 172h4m-41 49h4m1-227h4m65 174h4m28-193h4m-89 124h4m-22-59h4m160-66h4m-208 193h4m131 98h4m-30-252h4m73 116h4m-57-92h4m-80-25h4m79 128h4m-66 91h4m-62-5h4m108-318h4m19 154h4m29 155h4m-120-118h4m-8 107h4m41-133h4m-35-60h4m-71 39h4m33 47h4m79-36h4m43 9h4m18 57h4m-70 49h4m-59-115h4m-12 35h4m18-148h4m80 122h4m-22-70h4m6-8h4m-23 212h4m-48-189h4m-123 99h4m117-92h4m16-35h4m-13 177h4m-10-101h4m-270 270h4m267-242h4m58-115h4m-1-25h4m-216 256h4m182-271h4m-180 133h4m248 114h4m-128-170h4m-61 47h4m48-33h4m-23 106h4m25-163h4m57 68h4m-103-22h4m-19 247h4m-4-159h4m64-12h4m-34 7h4m-33 109h4m-11-50h4m41 69h4m87-123h4m-36 125h4m-103-191h4m2 38h4m62-43h4m-17 96h4m-130 105h4m111-178h4m-34 105h4m81-184h4m-98 104h4m12-85h4m35 1h4m-96 272h4m-62-21h4m114-101h4m92-92h4m-282 278h4m239-158h4m-61-68h4m-97 270h4m8-89h4m160-185h4m-72 4h4m-85 7h4m86-126h4m63-18h4m-64 165h4m19-59h4m0-17h4m-101-3h4m25 9h4m-68 78h4m-2 74h4m87-98h4m-83 38h4m98-63h4m5 45h4m33-10h4m-46 4h4m-47-42h4m29-17h4m119 78h4m-156 52h4m-18-8h4m38-217h4m-127 109h4m93-139h4m-75 194h4m62-45h4m2-31h4m19 78h4m-120-198h4m-5 257h4m-11 61h4m47-266h4m90 87h4m66 164h4m-221-75h4m176-288h4m-30 171h4m-99-45h4m-50 181h4m108-101h4m-7-177h4m-47 255h4m-15-89h4m24-37h4m-111 182h4m139-62h4m-58-260h4m121 132h4m-185 134h4m91 1h4m-5-13h4m49-156h4m-35-42h4m13 44h4m14 185h4m-151 13h4m94 21h4m-43-157h4m-73 57h4m-21 0h4m-16 78h4m83-124h4m96 44h4m-103-130h4m41 154h4m-77 71h4m-59-216h4m128 102h4m-32-210h4m49 77h4m-58 119h4m-5 23h4m5 148h4m66-89h4m-29-116h4m-84 39h4m-16 146h4m60-41h4m32-117h4m-28-142h4m-71 171h4m-43 264h4m61-175h4m-5-49h4m38-64h4m-57 65h4m220-322h4m-271 324h4m153-106h4m-147 120h4m55-225h4m210 312h4m-272-35h4m15-205h4m105 41h4m-150 187h4m12-170h4m64 88h4m61-50h4m-234 0h4m169 39h4m4-3h4m13-43h4m-78 232h4m8-180h4m25-6h4m-103-69h4m138-137h4m-25 173h4m4-146h4m-76 282h4m-17-239h4m-48 131h4m18 61h4m96-96h4m62-81h4m-54 111h4m-107-118h4m-15 146h4m27-120h4m-92 43h4m20 100h4m66-227h4m-16 84h4m37 37h4m-58-33h4m-99 197h4m154-224h4m-4-87h4m13 72h4m20 79h4m-129 53h4m103-152h4m-64 273h4m13-193h4m56-15h4m-118 19h4m6-19h4m56 125h4m-127-82h4m29-71h4m158 10h4m29 26h4m-146 46h4m-1 37h4m31 0h4m-47-120h4m32 63h4m69 60h4m-80 0h4m-155 5h4m-12 74h4m209-279h4m-72 435h4m93-270h4m-39-55h4m-31-37h4m-101 14h4m128 24h4m-108 144h4m124-222h4m-116 258h4m66-159h4m-12-36h4m-26 252h4m74-204h4m-62-14h4m24-5h4m-104 45h4m60-110h4m-6 7h4m-32 141h4m-22 104h4m75-341h4m-62 97h4m-102 327h4m35-48h4m85-227h4m-81-185h4m33 307h4m48-13h4m-130 70h4m-14-66h4m1-85h4m164 11h4m-166-140h4m43 181h4m-69-107h4m42 157h4m95-134h4m-11-66h4m-20 103h4m-38 21h4m-36 94h4m98-94h4m-138-35h4m52 10h4m-23-7h4m-12-154h4m100 31h4m-99 104h4m106 13h4m-58 54h4m-15 19h4m48-27h4m-109 43h4m-16-80h4m101 160h4m-43-288h4m-52 258h4m115-231h4m-76 126h4m-57-43h4m106-52h4m-105 56h4m123-38h4m-72 41h4m-115 161h4m95-243h4m-189 138h4m185 127h4m40-261h4m-59 17h4m-43 222h4m71-150h4m49-4h4m-98 107h4m-48-84h4m142 19h4m-98-80h4m-62 60h4m-131-36h4m222-64h4m-132 144h4m44 2h4m74 26h4m-44-41h4m16-111h4m-7 90h4m24-107h4m-134 247h4m66-228h4m-55 168h4m71-33h4m-43 11h4m74 106h4m-268-342h4m89 373h4m60-50h4m-1-189h4m-93-5h4m98 87h4m-67 101h4m-11-119h4m-10 110h4m-88-158h4m-67 245h4m26 26h4m95-229h4m37-21h4m110 269h4m-84-388h4m0 11h4m19 59h4m-254 306h4m56-247h4m246 153h4m-169-249h4m202-39h4m175 13h4m-302 26h4m262 1h4" stroke="#0000ff"/><path d="m2099 242h4m-7 116h4m15 26h4m-90-89h4m52 59h4m-6-40h4m-1 17h4m55 81h4m-260-125h4m283 13h4m-84 56h4m-47-61h4m-7 104h4m103-42h4m-77-67h4m50 38h4m-99-80h4m-96 126h4m179-63h4m56 60h4m-169-53h4m45-8h4m-222 112h4m309-149h4m-55-20h4m-71 163h4m-67-46h4m70-60h4m-183 46h4m136 7h4m9 27h4m6-29h4m-18 21h4m93-64h4m-174 77h4m-14-51h4m156-20h4m-10 27h4m-87-30h4m57 54h4m-183-31h4m10 62h4m101 14h4m190-101h4m-244 77h4m42 147h4m-13-231h4m184 44h4m-172-106h4m45 109h4m-102 106h4m-5-201h4m104 198h4m-206-94h4m127 88h4m7-119h4m21 19h4m43-70h4m72 80h4m-92-34h4m70-12h4m-38 102h4m-143-95h4m-140 102h4m251-63h4m-191 16h4m160 9h4m-75-124h4m44 98h4m-179 1h4m180 22h4m-82-55h4m81 8h4m21 52h4m-15-140h4m-26-12h4m-71 118h4m85 84h4m3-163h4m-96 78h4m137 9h4m-168 80h4m105-104h4m-35 59h4m-78-1h4m122-96h4m46 15h4m-146 82h4m-20-37h4m46-22h4m10-27h4m-65-33h4m156 117h4m-88 40h4m-59-16h4m37-22h4m-21 35h4m-57-118h4m65 32h4m-65 85h4m-48-87h4m56 5h4m103-45h4m-76 114h4m39-25h4m-51-4h4m-11-96h4m-20-24h4m-59 94h4m139 84h4m-72-96h4m62-27h4m-161 32h4m96-34h4m-64-93h4m-15 163h4m16-82h4m-43 35h4m-3 89h4m-7-114h4m46-18h4m151 66h4m-216 39h4m24-48h4m-94-46h4m159 23h4m76 20h4m-73-98h4m-24 69h4m7 55h4m-7-131h4m33 24h4m-60 96h4m-20-64h4m-46 0h4m58-1h4m-68 21h4m103 26h4m116 81h4m-62-98h4m-117 68h4m-60-67h4m48 88h4m62-41h4m-160-43h4m6 7h4m89 18h4m-44 32h4m40 13h4m-36-38h4m254-70h4m-199 73h4m-12-23h4m-128 103h4m70-97h4m-82 14h4m161-27h4m-97-83h4m9 183h4m-27-66h4m-95-46h4m80 6h4m-71 130h4m76-72h4m45-59h4m-113 39h4m-70-11h4m162-5h4m-21-57h4m45 137h4m-224-96h4m192-19h4m-59 86h4m29-73h4m-84 7h4m111 5h4m-127 58h4m135-36h4m-94 40h4m-9-8h4m173-8h4m25-164h4m-117 227h4m-39-49h4m32-107h4m-7 63h4m-205-108h4m172 70h4m6-40h4m-112 41h4m97 89h4m70-179h4m-102 88h4m101 9h4m-41-28h4m-38 82h4m-63 23h4m24-45h4m112 30h4m-81 21h4m-78-114h4m43 11h4m70-4h4m-71-5h4m132 119h4m-148-141h4m-83 94h4m70-34h4m-72 27h4m37-92h4m70 66h4m-65 31h4m2-11h4m-101 29h4m180-41h4m-284 25h4m247-130h4m-6 130h4m-116-11h4m146-92h4m43 49h4m-370 74h4m166-60h4m-5-8h4m106 42h4m-166 21h4m122-68h4m-49 15h4m27 28h4m57-132h4m-115 140h4m-66-34h4m129-67h4m51 53h4m70 39h4m-190-5h4m-76-37h4m-14-31h4m137 40h4m71-68h4m-138 178h4m202-26h4m-170-118h4m-2 98h4m19-21h4m15 12h4m35-153h4m-197 152h4m200-180h4m-140 153h4m65-66h4m-155 35h4m168-33h4m-95 28h4m-84 35h4m51 37h4m56-47h4m-25 16h4m24-18h4m-113 15h4m42 8h4m-24 6h4m61-35h4m105 70h4m-131-26h4m122-49h4m-73-26h4m-35 57h4m152 72h4m-174-80h4m148-48h4m-107-40h4m-21 85h4m-17 26h4m31 1h4m-56-40h4m53 55h4m25-7h4m-52 34h4m-131 18h4m206-127h4m-55-38h4m-59 31h4m-1 16h4m-23-10h4m104 2h4m-32-25h4m12 92h4m-203-13h4m138-87h4m-102 152h4m52-167h4m103 4h4m-120 161h4m-50-112h4m70 29h4m69-79h4m-22 47h4m102-61h4m-227 81h4m40-55h4m93-3h4m-255 200h4m130-131h4m-70-27h4m198-31h4m-25 52h4m-6-56h4m-69 50h4m-15 47h4m-35 24h4m-12-24h4m-32-1h4m119-53h4m-52 24h4m-107-8h4m35 34h4m28-76h4m-45-34h4m189 125h4m-136-160h4m6 9h4m-13 120h4m13-39h4m91 28h4m-125 19h4m5-56h4m30 68h4m-2-23h4m-76 36h4m72-23h4m-82-48h4m86 67h4m-35-21h4m37-106h4m-210 162h4m201-71h4m-66-70h4m-52 42h4m-47 41h4m134 63h4m-59-109h4m-71 44h4m205 7h4m-194-36h4m105 69h4m-135-35h4m182-110h4m29 47h4m-225 11h4m79 22h4m-88 92h4m82-48h4m44-71h4m-34 41h4m-140-53h4m55 76h4m42-73h4m-181 36h4m151-25h4m-7 14h4m20-2h4m95-36h4m-20 5h4m124-13h4m-180 128h4m-72 10h4m-61-116h4m168 93h4m-110-3h4m89-2h4m-96-107h4m50 10h4m-74 0h4m114 67h4m-98 3h4m41 8h4m-101-19h4m144-14h4m-110 18h4m117-69h4m-199 131h4m25 7h4m-28-120h4m189 37h4m1-28h4m-55 95h4m-81-58h4m76-37h4m-74-11h4m-19-24h4m-12 140h4m35-32h4m-174 18h4m159-129h4m-21 21h4m-16 119h4m163-175h4m-236 138h4m53-111h4m-212 165h4m349-240h4m-157 270h4m-186-69h4m195-76h4m67-79h4m-48 62h4m-101 153h4m26-40h4m-67-19h4m13-15h4m109 8h4m129-95h4m-287 198h4m-42-11h4m89-155h4m-190 127h4m189-86h4m42-31h4m61-13h4m-95-19h4m39-73h4m-124 267h4m-98 126h4m277-275h4m-63 104h4m30-246h4m-90 75h4m-23 157h4m239-125h4m-227 180h4m55-203h4m-125 95h4m331-143h4m-41 38h4m-131 8h4m-100 104h4m-182 70h4m-21 120h4m158-286h4m-62 156h4m-151 58h4m259-212h4m72 0h4m-171 187h4m135-173h4m171-3h4m-196-8h4m23 1h4m16 14h4m-115-6h4m26 36h4m-13-64h4m61-24h4m-265 218h4m279-89h4m106-63h4m-171-78h4m-119 112h4m162 34h4m-20 102h4m-93-210h4m379 19h4m-544 80h4m245-23h4m-170 83h4m144-141h4m-31 103h4m35-56h4m-226-51h4m47 273h4m99-109h4m-109-81h4m13-26h4m48 64h4m13-40h4m4-58h4m-170 171h4m79-223h4m109 67h4m-29 200h4m-40-139h4m52-85h4m33 47h4m73-156h4m-25 227h4m-48-70h4m42 22h4m-157 190h4m123-287h4m28-28h4m-158 167h4m142-201h4m-299 256h4m351-96h4m-160-13h4m12-107h4m-137 236h4m233-255h4m-205 142h4m109-77h4m-258 265h4m-24-77h4m421-186h4m-90 115h4m-117-106h4m-171 28h4m304 54h4m-87-87h4m-19 63h4m-63 61h4m-88 41h4m-101 28h4m178-71h4m-176 92h4m191-320h4m92 112h4m77 113h4m-155-181h4m50 50h4m-121 11h4m143-59h4m-120 236h4m155-137h4m-142 89h4m92 0h4m-129 116h4m-20-207h4m226-65h4m-447 253h4m191-87h4m7-62h4m173-23h4m-145-7h4m-12 28h4m199-68h4m-126-71h4m-315 127h4m155-93h4m243 68h4m-337 4h4m182-20h4m-175 114h4m152-15h4m-160-37h4m229-3h4m-94 104h4m64-170h4m-69 115h4m202-23h4m-335 120h4m159-40h4m-156 23h4m190-178h4m-148-48h4m317 7h4m-125 87h4m-291 65h4m177-68h4m97 7h4m-59-49h4m-21-59h4m-21 106h4m46 65h4m-216 37h4m223-68h4m-90 8h4m-7-6h4m5-123h4m-114 194h4m-95-14h4m-195-66h4m213-20h4m161-218h4m69 120h4m-131 117h4m-106 30h4m170-86h4m-197 176h4m4-52h4m124-219h4m-176 127h4m188 76h4m-188 132h4m53-226h4m42 108h4m-60-83h4m-41 2h4m98 64h4m17-69h4m-126 122h4m7 49h4m78-168h4m118-14h4m-193 208h4m110-146h4m-36 29h4m-153 25h4m-76 69h4m139-117h4m116-35h4m-248 180h4m107-102h4m-89 33h4m252-323h4m-176 108h4m276 92h4m-27-20h4m-171 214h4m80-350h4m-189 225h4m171-125h4m-201 123h4m140-118h4m-75 107h4m46-66h4m-146 111h4m123-179h4m-73 168h4m-99-64h4m196-41h4m-59-28h4m63-37h4m-39 170h4m-34-87h4m51 20h4m-35-4h4m201-51h4m-67-15h4m-347 291h4m83-144h4m17 78h4m133-153h4m-162 5h4m156-73h4m-84 5h4m61-11h4m-16-51h4m-63 309h4m-54-43h4m214-190h4m-15 35h4m-223 107h4m342-167h4m-130 66h4m-125 21h4m88-6h4m-110 47h4m69-116h4m-107 278h4m22-198h4m23-170h4m-29 136h4m-6 67h4m-132-106h4m-62 102h4m-106 147h4m8-254h4m79-44h4m53 120h4m119-16h4m-88-14h4m152 66h4m-188 105h4m188-141h4m-143-49h4m-92 64h4m85 10h4m-121-11h4m-38 44h4m215-140h4m-164 102h4m36 165h4m313-469h4m-67 86h4m347 134h4m-103 54h4m-492-207h4m499 17h4m-26 38h4m-248 92h4m179 123h4m-93 136h4m-140-228h4m-330 52h4m614-30h4m-198 24h4m-70-198h4m342-115h4m-383 325h4m-57-143h4m144 38h4" stroke="#ff0000"/><path d="m1861 558h4m-91-61h4m50 53h4m-46 19h4m24 80h4m-75-71h4m59 50h4m-26-99h4m-52 95h4m75-54h4m19-10h4m-81 67h4m7-40h4m55-84h4m1 124h4m-98 70h4m81-131h4m-56 119h4m-29-53h4m144-36h4m-85 149h4m-88-119h4m72 45h4m-102 39h4m28-122h4m36-25h4m-57 117h4m124-149h4m-88 62h4m0 44h4m-41 7h4m171-203h4m-24 54h4m-102 71h4m100-130h4m-58 97h4m-98 100h4m11 33h4m28 10h4m4-151h4m-86 97h4m0 47h4m112-56h4m-66-27h4m105-122h4m-99 154h4m-29-36h4m55-78h4m46 8h4m8 43h4m-43-40h4m-159 55h4m156-31h4m4-19h4m-86 58h4m-75 92h4m134-166h4m-71 21h4m83 75h4m-60-133h4m-57 101h4m-5 46h4m15-61h4m39-44h4m7-12h4m1 41h4m-10-25h4m-97 107h4m16-48h4m145-83h4m-50 41h4m21 69h4m-77 22h4m-14-107h4m-141 174h4m163-63h4m-71 27h4m21-54h4m89-55h4m-115 101h4m45-86h4m-59 69h4m72-105h4m27-21h4m-106 123h4m-28-43h4m-13 32h4m50-13h4m-3 3h4m-33 15h4m60-71h4m-91 37h4m70 18h4m-8-106h4m-111 193h4m18 52h4m0-50h4m87-105h4m57-154h4m-156 152h4m74-52h4m-32 3h4m22 40h4m-47-8h4m19-10h4m38 27h4m-4-84h4m-98 51h4m22 2h4m24 37h4m18-46h4m-154 85h4m87 78h4m89-159h4m-76 108h4m29-99h4m-53 49h4m45-42h4m-28-67h4m32 118h4m-27-25h4m-91 102h4m165-118h4m-114 55h4m-42 47h4m64-71h4m46-87h4m-17 61h4m-32 97h4m76-243h4m-166 239h4m10-55h4m23-82h4m72 37h4m-71-18h4m12 65h4m38-25h4m-29-5h4m37-123h4m-146 131h4m-46 103h4m124-110h4m44-52h4m25-13h4m-51 100h4m-6 38h4m73-127h4m-71 30h4m-12-19h4m-59-2h4m26 26h4m-20 106h4m61-290h4m-33 157h4m-45 98h4m62-94h4m-14-20h4m18-155h4m-92 304h4m60-148h4m-164 146h4m151-141h4m50-28h4m-104 133h4m64-92h4m-129 66h4m61 23h4m-52-10h4m-38-4h4m78 32h4m57-192h4m-178 285h4m61-105h4m77-130h4m108-87h4m-282 209h4m75-119h4m-117 228h4m186-208h4m33-91h4m-67 77h4m-81 119h4m105-38h4m-140 121h4m185-148h4m22-162h4m-218 280h4m115-66h4m-41 29h4m94-79h4m-102 111h4m82-204h4m36 0h4m-116 53h4m31 35h4m-60 106h4m133-185h4m-93 47h4m-67 137h4m42-160h4m-26 125h4m-41 5h4m-65 75h4m124-172h4m-15-12h4m-82 62h4m79-36h4m9 44h4m-5-40h4m-43 16h4m30-1h4m-4-43h4m-41 35h4m93-63h4m-4-34h4m-19 59h4m-60 91h4m9-46h4m-16 48h4m18-104h4m68 78h4m-61 39h4m-95-4h4m6 48h4m99-141h4m-82 112h4m-19-96h4m9 98h4m34-76h4m13-65h4m-59 34h4m4 39h4m-100 113h4m177-194h4m-107 109h4m143-107h4m-206 150h4m3-18h4m165-153h4m14 35h4m-64 16h4m-12 34h4m-63 94h4m147-290h4m-122 234h4m-109 111h4m73-118h4m93-153h4m-83 189h4m60-83h4m26-33h4m-167 2h4m59 43h4m-27 5h4m109-62h4m-40 9h4m-11 103h4m58-57h4m-123 21h4m55 1h4m-38-26h4m-3 51h4m63-192h4m-78 161h4m-97-1h4m124 8h4m-42-74h4m64 79h4m-48-34h4m-46 106h4m56-107h4m-148 105h4m115-136h4m-69-16h4m66 132h4m9-142h4m-13 73h4m-72-6h4m50-55h4m-10 50h4m-18-53h4m22 89h4m45-86h4m-63 156h4m76-120h4m-67-13h4m-42 126h4m60-116h4m45-72h4m-65 85h4m34-29h4m-155 185h4m183-214h4m-77-18h4m-67 78h4m-40 41h4m147-88h4m-145 42h4m84-9h4m-78 35h4m28-20h4m38 56h4m7-139h4m-2 95h4m-63 28h4m-33 49h4m-38-36h4m81-47h4m-49 37h4m51-142h4m54 31h4m-154 160h4m60-54h4m79-58h4m-16-58h4m-47 88h4m29-24h4m-100 67h4m101-29h4m-128 27h4m124-126h4m-36 58h4m-67 89h4m128-199h4m-27 87h4m-146 161h4m66-106h4m-28-32h4m-5 0h4m59-55h4m-5-149h4m17 46h4m-114-57h4m56 39h4m-33-42h4m13 38h4m-7 290h4m116-354h4m-70 160h4m-177-83h4m234 46h4m-59-80h4m-196 95h4m154-25h4m39 170h4m76-254h4m-125-16h4m-39 358h4m113-408h4m-14 131h4m-130-48h4m125 1h4m-107 34h4m59 13h4m-39 75h4m-52-25h4m8 0h4m0-82h4m-148 171h4m64-135h4m143 57h4m14-55h4m-92 21h4m130-3h4m-51 95h4m-56-273h4m106 74h4m-53-129h4m19 181h4m-112 11h4m-1 2h4m122 124h4m-157-60h4m57-39h4m23 80h4m-14-45h4m-55 36h4m54-100h4m21-129h4m-103 109h4m5 113h4m113 0h4m-205-118h4m152-2h4m5-117h4m62 157h4m-190 93h4m93-93h4m-158 179h4m198-256h4m-82 58h4m50 146h4m77-334h4m-63 95h4m-159 78h4m58 80h4m96-20h4m-129 1h4m36 26h4m-78-142h4m-13 289h4m12-206h4m-69 59h4m-20 72h4m177-91h4m-220 41h4m135 110h4m6-156h4m-42 253h4m110-366h4m-177 108h4m114-2h4m55 32h4m-29-12h4m-12-26h4m1-32h4m-53 137h4m95-95h4m-161 46h4m86-164h4m-26 189h4m-129 105h4m162-245h4m-119 3h4m196 15h4m-160 82h4m-24-89h4m53 57h4m-86 95h4m116-200h4m-24-104h4m37 308h4m25-93h4m-161 204h4m108-328h4m-18 96h4m-37-107h4m-25 22h4m-95 167h4m103-41h4m17 106h4m132-197h4m-115-43h4m-70 173h4m-26 66h4m58-192h4m-44 92h4m58 181h4m50-64h4m-112-74h4m53-162h4m-156 382h4m116-224h4m-28 47h4m24-235h4m-11 59h4m3-61h4m-105 282h4m76-196h4m51-25h4m42-10h4m25 139h4m-160-59h4m51 20h4m-40-9h4m-104 34h4m3 127h4m61-218h4m48 79h4m82-110h4m-157 1h4m27 8h4m70 50h4m17 134h4m-47-25h4m-111-73h4m-22 42h4m-53 88h4m67-80h4m71-86h4m-4 122h4m21-187h4m-64 75h4m41-81h4m14-42h4m-32-75h4m57 268h4m-84-148h4m-7 222h4m-97-36h4m96-263h4m-125 163h4m20 161h4m79 27h4m136-145h4m-105 18h4m84-182h4m42 39h4m-175 99h4m-73 39h4m161-90h4m-175 19h4m150-150h4m-18 204h4m-70-198h4m-16 90h4m-56 260h4m103-42h4m-117-50h4m141-60h4m-3-85h4m24-74h4m-83 159h4m51-212h4m-56 236h4m-5-145h4m80 26h4m-26-9h4m-139 98h4m98-81h4m104-26h4m-208 138h4m135-224h4m-54 221h4m34-98h4m-132 141h4m111-210h4m-17-54h4m95 105h4m-104-85h4m-44 141h4m175-24h4m-176-8h4m-59 101h4m78 43h4m-39-186h4m69 173h4m-100-180h4m-3 396h4m49-204h4m46-249h4m-193 172h4m185 56h4m-7-176h4m-28 143h4m-101-45h4m27 42h4m1-62h4m117-27h4m-12 103h4m-96-45h4m95-95h4m-19 71h4m-239 46h4m108-99h4m132 47h4m-247 61h4m-11 21h4m223-75h4m-110 87h4m141-104h4m-171 89h4m89-71h4m-79 68h4m87 10h4m-97-110h4m50 51h4m33 115h4m-47-214h4m-93 260h4m27-271h4m-18 105h4m164-140h4m-264 279h4m56-155h4m98 27h4m2-142h4m-24 233h4m18-57h4m40-51h4m-105-68h4m-69 244h4m109-242h4m26 146h4m69-172h4m-178 153h4m102-154h4m-42 210h4m-41-208h4m34 138h4m-106-33h4m162 107h4m2-81h4m-88-13h4m-23-15h4m110-92h4m-167 170h4m67-173h4m-22 100h4m50 85h4m8-169h4m83 70h4m-187 60h4m105-12h4m-158-53h4m206-102h4m-203 303h4m188-233h4m-34 21h4m-98 12h4m-16 88h4m-66 49h4m103-249h4m-87 253h4m160-83h4m-147 68h4m15-149h4m87-8h4m-65-12h4m-44 27h4m62-15h4m16-113h4m32 102h4m-97 299h4m63-354h4m-67 103h4m46 25h4m16 109h4m-45-225h4m1 110h4m97 31h4m-96-56h4m41 10h4m-164 67h4m119-151h4m-57 119h4m52-61h4m-44 98h4m-70-216h4m98 184h4m-34-108h4m10 73h4m-49 120h4m27-291h4m49 38h4m-6 220h4m-106 74h4m71-230h4m-125 139h4m63-156h4m-45 56h4m15-27h4m92-6h4m-28-34h4m87-21h4m-76 129h4m-83-71h4m-92 140h4m106-71h4m90-86h4m3 11h4m-197-9h4m164-27h4m10-38h4m-82 163h4m0-61h4m55-33h4m25-74h4m-65 136h4m-71 48h4m28-76h4m-66 118h4m155-68h4m-67-79h4m-96-54h4m-74 176h4m80 17h4m96-22h4m51-168h4m-301 292h4m193-337h4m-26 84h4m-39 62h4m122-93h4m-81 126h4m32-210h4m-42 184h4m-66-124h4m37 211h4m36 38h4m111-211h4m-257 8h4m175-82h4m-104 204h4m76-155h4m-71 165h4m37-114h4m-3-97h4m107 34h4m-166 173h4m-27-45h4m37 91h4m-14-78h4m40-156h4m-13 52h4m78 175h4m-10-180h4m-167 230h4m71-94h4m-56-23h4m-3 13h4m75-210h4m-49 5h4m22 70h4m-65 17h4m81 98h4m-223 22h4m122 6h4m82-144h4m-18 62h4m-62 7h4m68 3h4m18 2h4m-43 77h4m46 61h4m-110-135h4m-22 108h4m96-105h4m17 70h4m-182-58h4m187 62h4m-112-79h4m57-51h4m-53-4h4m117-13h4m-143-19h4m45 194h4m26-20h4m-43-11h4m78-78h4m-114 67h4m111-120h4m-52 166h4m-6 64h4m67-303h4m-232 239h4m134-130h4m36 25h4m27-52h4m-22 53h4m-29 18h4m157-20h4m-250 72h4m-13 11h4m143-170h4m7-22h4m-88 228h4m-103-282h4m65 142h4m76-57h4m-17 41h4m-7-15h4m-1-71h4m-54 320h4m-105-65h4m207-237h4m-225 202h4m123-282h4m-34 141h4m-45 225h4m-46-129h4m-120-8h4m171 8h4m-7-81h4m-10 99h4m-4-123h4m10 94h4m139-170h4m-142 137h4m-42 4h4m67-63h4m-170 317h4m142-220h4m132-127h4m-104-104h4m-206 82h4m123 28h4m63 137h4m-124-120h4m183 9h4m-82 55h4m73 45h4m-175-175h4m139 370h4m6-400h4m-59 14h4m4 75h4m-124 238h4m241-38h4m-210-149h4m-57 206h4m176 48h4m-290-363h4m389 103h4m-127 11h4m-65 95h4m-12 141h4m-219-220h4m529-136h4m-83 66h4m-66 52h4m214 17h4" stroke="#0000ff"/></g><g transform="scale(0.25)" stroke-width="4.00" fill="none" stroke-opacity="0.85"><path d="m1578 1383h4m-19-112h4m-97-6h4m52 24h4m14 73h4m-75 28h4m96 2h4m6-34h4m-191-122h4m173 64h4m-4-9h4m-108 121h4m130-20h4m-44-44h4m-69-46h4m152-8h4m-77 13h4m-63 3h4m32 18h4m-55 23h4m25 22h4m-49-46h4m73 13h4m40 23h4m-74-34h4m-151 56h4m82-29h4m16 41h4m94-1h4m-122-79h4m179 10h4m-118-50h4m-90 74h4m-40 32h4m142-81h4m-23 96h4m-143-122h4m126 107h4m24-75h4m-57 45h4m51-4h4m-149-66h4m188-4h4m-92 99h4m42-31h4m-69 42h4m76-5h4m-61-86h4m-22-45h4m82 66h4m-32 10h4m3 41h4m-62-48h4m8 11h4m11 56h4m-17-2h4m28-113h4m18 15h4m-176 53h4m88-44h4m72-37h4m-18 60h4m-119 27h4m63 44h4m-40-41h4m134-67h4m-139 80h4m-3-39h4m6 12h4m-128 63h4m194-117h4m-87 92h4m-4 30h4m125-147h4m-174 139h4m83-77h4m4 45h4m71-99h4m-45 46h4m-98 7h4m-38 16h4m47 25h4m32 42h4m-144-105h4m186 6h4m-18 46h4m-20-12h4m-38 33h4m97-37h4m-48-26h4m-205 82h4m137-96h4m-87 48h4m-7 3h4m101 6h4m-44-74h4m47 75h4m-92 41h4m121-42h4m-106-52h4m29 116h4m13-74h4m-93-26h4m208-11h4m-187-38h4m42 29h4m15-4h4m25 52h4m-14-13h4m-13 17h4m-82 27h4m73-33h4m-5-14h4m-93 2h4m102-2h4m-120 22h4m13-53h4m28 28h4m142-26h4m-104-42h4m73 110h4m-124 39h4m-30-50h4m93-56h4m-69 95h4m-108-1h4m102-83h4m-76 6h4m92-23h4m42 3h4m-36-21h4m42 42h4m-41 26h4m-76 125h4m90-50h4m-63-36h4m-53-57h4m7-13h4m-9 38h4m60-80h4m64 101h4m-92-29h4m26-6h4m26-88h4m-88 104h4m3 12h4m38-73h4m45 58h4m-234 24h4m207 68h4m-66-28h4m-68-85h4m147 75h4m-131-60h4m2-17h4m19 25h4m-90-73h4m57 91h4m-128 37h4m186-33h4m-121 64h4m67-107h4m10 3h4m52-58h4m-8 126h4m16-44h4m4-57h4m9 11h4m-127 9h4m59-3h4m-124-7h4m72 8h4m110-84h4m-43 70h4m-71-11h4m-56 39h4m30-78h4m24 74h4m83 12h4m-63 29h4m-25-38h4m-23 28h4m65-113h4m3 59h4m-77 69h4m-50 40h4m103-133h4m-76 48h4m31-65h4m26 41h4m52 91h4m-205-65h4m165-19h4m-27-7h4m-161 95h4m124-92h4m4 51h4m-9 2h4m-111 29h4m116-103h4m40 46h4m-123 74h4m-22-108h4m107-9h4m-117 49h4m92-60h4m-125 92h4m156-53h4m-98-39h4m-13 52h4m84-14h4m-61-41h4m40 209h4m68-134h4m-73-62h4m-60 76h4m-75 2h4m55-51h4m-29 39h4m47 48h4m-37-12h4m3-95h4m64-15h4m55-24h4m-132 96h4m29-60h4m-58 6h4m62 24h4m-47-18h4m-65 102h4m97-37h4m-29 57h4m-47-121h4m-54 21h4m220 57h4m-100-125h4m-27 18h4m-86 88h4m82 2h4m-117-49h4m89 74h4m-26-93h4m90 37h4m-80 13h4m53-27h4m-59 17h4m-26 42h4m88-63h4m-67-17h4m26 38h4m-103-1h4m95-12h4m42-16h4m-15 15h4m-21 28h4m-120-57h4m159 50h4m-83-26h4m-120 31h4m61-42h4m95 58h4m27-68h4m-70-76h4m-118 165h4m69-39h4m100 18h4m-51-45h4m-96 42h4m64-29h4m19-48h4m-25 18h4m-8-23h4m-24 50h4m-71-24h4m93 88h4m-59 53h4m35-85h4m-203 32h4m-17-75h4m314 67h4m-38-28h4m-50-84h4m-80-9h4m-24 157h4m46 8h4m98-117h4m-150 16h4m33-53h4m-69 190h4m-13-64h4m253-35h4m-240-45h4m111-26h4m-254 59h4m130 28h4m-78 12h4m208 36h4m-159 134h4m124-114h4m89-191h4m-158 88h4m91 54h4m-264-53h4m97-62h4m1-52h4m48 87h4m27 43h4m23-92h4m-106 32h4m-173 119h4m286-142h4m-126 124h4m-63-128h4m93 81h4m81-17h4m-211-59h4m-51 174h4m-7-118h4m18 77h4m34-105h4m43 35h4m149 68h4m-72 10h4m7-73h4m-105-117h4m24 84h4m158 121h4m-152-75h4m-86 34h4m107-44h4m49-31h4m-131-36h4m-6 102h4m12 22h4m-12-55h4m-117 17h4m181-14h4m-166-152h4m207 73h4m-108 32h4m134 145h4m-286-111h4m195-17h4m-112 71h4m258-106h4m-303 29h4m105-58h4m3 148h4m20-12h4m-44 28h4m96-94h4m37-20h4m-204-31h4m51 55h4m178-79h4m-274 178h4m87-63h4m-64-109h4m55 94h4m81-69h4m-191-56h4m193-9h4m-171 130h4m50 91h4m51-179h4m71-2h4m-156 154h4m-29-78h4m147-19h4m-28-83h4m89 107h4m-69 30h4m-91-97h4m-2 20h4m-191 128h4m237-126h4m-81-65h4m39 116h4m37-96h4m-123 162h4m50 22h4m76-70h4m-51 22h4m82-7h4m-57-83h4m-159 8h4m175 137h4m-86-122h4m-54 95h4m107-161h4m-133 173h4m150-82h4m-67 99h4m117-181h4m-153 39h4m-116 130h4m4-171h4m112 72h4m10 34h4m79-18h4m-9-4h4m-122 41h4m196-264h4m-164 263h4m-41-68h4m172 1h4m-129-25h4m-200-83h4m180 133h4m107-92h4m-132 207h4m-63-14h4m169-67h4m9-21h4m-164-6h4m164-35h4m-250 103h4m107-41h4m56 16h4m-64-37h4m-171 162h4m65-35h4m189-155h4m-118 3h4m183-34h4m-300 17h4m68 38h4m98-13h4m26 43h4m-45 82h4m-42 49h4m48-318h4m102 104h4m-149 23h4m-138 68h4m279 78h4m-261-29h4m209-109h4m-52-53h4m52 148h4m-70-151h4m-50 25h4m-92-38h4m158-54h4m-303 153h4m266-99h4m-75 49h4m-39 54h4m106-86h4m-201-2h4m93 108h4m-1-91h4m299-4h4m-303 52h4m-78-27h4m21 146h4m80-145h4m98-2h4m84-30h4m-179 30h4m-3-39h4m23 155h4m0-196h4m-159 113h4m9-98h4m55 60h4m29 18h4m47 11h4m-13-24h4m-31 61h4m126 50h4m-154-106h4m150-43h4m-227 15h4m78 60h4m106-3h4m-93 28h4m-112-100h4m87 169h4m-99-146h4m121 117h4m-140-129h4m34 140h4m8-244h4m143 212h4m-43-100h4m197-102h4m-360 206h4m126-22h4m-96-32h4m25 103h4m-140-11h4m-53 63h4m114-154h4m74 174h4m-122 9h4m87-79h4m70-41h4m6-76h4m-267 181h4m217-107h4m2 18h4m-65 16h4m-7 7h4m49-60h4m-292 145h4m208-125h4m21-37h4m-15 99h4m84-42h4m-115 24h4m-67 23h4m124 49h4m-11-154h4m-198 62h4m228 53h4m-138-33h4m14 7h4m-51 26h4m146-81h4m-56 53h4m-195-79h4m189 119h4m10 12h4m-4 57h4m57-67h4m-70 22h4m-8-69h4m-34 66h4m124-56h4m-121-114h4m-59 31h4m244 15h4m-560-162h4m157 41h4m-190 78h4m404-152h4m146 297h4m-231-237h4m-244 146h4m-231 37h4m404-73h4m-93 62h4m-40-182h4m-1 46h4m-102 80h4m359-100h4m-79 4h4m6-3h4m-22 15h4m132 59h4m-115-4h4m-79-97h4m149 172h4m42-166h4m-467 209h4m328-103h4m85 31h4m-13-122h4m-404 74h4m55-57h4m140-111h4m155 101h4m-364 117h4m-98-116h4m153 94h4m24 80h4m366-82h4m-447-157h4m-228 214h4m900-89h4m-502-27h4m373 67h4m-674-149h4m727 174h4m-540-109h4m-77-36h4m344 143h4m195 63h4m-518-105h4m71-74h4m64 61h4m-167-81h4m262 93h4m-416-13h4m344-133h4m-179 173h4m613-199h4m-404 131h4m-133 36h4m80 6h4m-215-111h4m172 55h4m41 89h4m-239-132h4m120 125h4m31 118h4m-142-82h4m-45-30h4m142 125h4m-201-107h4m124-13h4m-279-32h4m172 19h4m139 253h4m-59-272h4m-258 114h4m184-123h4m-91-55h4m200 193h4m-234 7h4m11-124h4m257 58h4m-70 78h4m-122-4h4m-80 76h4m104-218h4m-138-131h4m131 95h4m-142 99h4m491-78h4m-52 205h4m67-218h4m-124 27h4m-67 65h4m134-53h4m-57 67h4m-4-101h4m-71 108h4m41-163h4m-11 129h4m63-85h4m-50 109h4m29-74h4m3 24h4m-23-53h4m26-58h4m-92 115h4m101-117h4m-57 34h4m-114 147h4m78 26h4m75-77h4m-45 12h4m-18-140h4m-27 84h4m-5 43h4m110-75h4m-186 5h4m-25 56h4m144 35h4m-111-216h4m35 142h4m72-142h4m-17 165h4m-126 70h4m62-21h4m-59-64h4m137-54h4m-114 102h4m229-53h4m-229 31h4m83-133h4m-80 183h4m-98-35h4m151-126h4m67 126h4m-110 42h4m-63 23h4m1-105h4m89 38h4m-115 4h4m34 67h4m33-99h4m-150 61h4m109-59h4m69 33h4m-38-144h4m-131 123h4m271-32h4m-174 48h4m3-97h4m102 6h4m-44 132h4m-33-160h4m46 88h4m-118 48h4m-34 82h4m180-65h4m-49-132h4m-102 85h4m39 9h4m-14 13h4" stroke="#ff0000"/><path d="m1209 1570h4m107-159h4m-167 67h4m1 82h4m-20 40h4m-48 4h4m72-83h4m152-14h4m-177 0h4m27 41h4m-28-22h4m11 113h4m-26-119h4m25 54h4m-14-37h4m8 105h4m-13-24h4m82-102h4m-19 1h4m-103 115h4m67 16h4m-46-105h4m21 47h4m-69-64h4m54-91h4m-58 86h4m41-13h4m-41 23h4m74-44h4m1 101h4m-39-86h4m52 49h4m-85 12h4m55-106h4m-97 150h4m187-68h4m-133-5h4m-32 7h4m40 3h4m-5 8h4m37 58h4m20-170h4m-57 34h4m-175 183h4m278-193h4m-147 42h4m109-16h4m-116 57h4m-14-8h4m0 44h4m74 30h4m-36 5h4m-112 58h4m31-142h4m-14-14h4m-31 151h4m115-65h4m-52-94h4m14-68h4m49-46h4m-8 160h4m-6-19h4m1 3h4m-143-73h4m79 169h4m3-211h4m-73 144h4m116-193h4m-92 289h4m-16-119h4m47-13h4m-29 26h4m-52-111h4m71 109h4m-29 10h4m-10 29h4m36 10h4m25-113h4m-74 54h4m78-94h4m-98 77h4m-40 6h4m38-11h4m14-50h4m-13 137h4m-18-178h4m-38 56h4m-14 114h4m193-54h4m-147 102h4m29-61h4m24-198h4m-37 21h4m-69 175h4m5-122h4m1 0h4m-31-2h4m97 62h4m10 13h4m-151 68h4m107 45h4m-38-85h4m40-91h4m-49 54h4m36 63h4m-86 45h4m50-98h4m12 42h4m48-104h4m-78 103h4m59-124h4m-85 137h4m-38-27h4m4-20h4m38-84h4m-56 181h4m65-78h4m-20 0h4m73-74h4m-38 43h4m-109 45h4m99-21h4m-34-1h4m-6-46h4m50-13h4m-8 37h4m41-3h4m-94-99h4m4 128h4m-61 153h4m96-164h4m-56-34h4m15 46h4m-33 44h4m52-121h4m-117 42h4m75-13h4m4-17h4m-18-129h4m100 98h4m-49 89h4m16 7h4m-53-49h4m-11 53h4m-164 26h4m124-21h4m23-101h4m21 114h4m-47 141h4m-25-136h4m-41-55h4m61 84h4m-103-42h4m147-78h4m-2 109h4m-58-73h4m-89 37h4m-9 12h4m55-46h4m-47 65h4m91-129h4m-25 38h4m-59 19h4m62-37h4m-19 197h4m-91-111h4m98-75h4m-44-51h4m-5 106h4m1-54h4m-60 75h4m85-94h4m2 44h4m-24-44h4m-76-23h4m66 215h4m34-95h4m-68-62h4m12 43h4m51 6h4m-121-21h4m68 63h4m-40-54h4m-8-22h4m40-51h4m-7 139h4m20-140h4m60 45h4m-148 60h4m114-68h4m-70 74h4m-28-6h4m20-22h4m103-35h4m-122 82h4m117-141h4m-123 13h4m89 9h4m-107 41h4m-78 65h4m68-69h4m-33-10h4m127 103h4m-55-177h4m-72 48h4m20 128h4m-48-83h4m89 25h4m45-32h4m-6-61h4m-142 109h4m-19 28h4m84-51h4m-138 74h4m154-79h4m23 74h4m-54-138h4m29 52h4m15 7h4m-91 52h4m-71 49h4m69 30h4m49-136h4m-13 15h4m-10-113h4m-83 139h4m139-55h4m-85 3h4m46-1h4m-85 7h4m-18 53h4m15-121h4m-61 80h4m0-36h4m-29 38h4m69 3h4m44 15h4m55-132h4m-189 180h4m113-39h4m-9-124h4m26 108h4m-24-15h4m-4-73h4m-113 14h4m91 13h4m-15 49h4m98 24h4m-134-31h4m-21 11h4m76-36h4m-38 26h4m-63-10h4m72 136h4m13-153h4m-31 6h4m-34-2h4m107 41h4m-48-10h4m-34-27h4m-107-27h4m-35 25h4m37-40h4m125 32h4m-6 58h4m-102 17h4m36-54h4m-36 36h4m23 28h4m33-124h4m-104 91h4m108-79h4m72-3h4m-78 102h4m26-86h4m-183 163h4m98-98h4m-20 58h4m10-247h4m-27 99h4m-16 161h4m90-112h4m2-64h4m-164 80h4m163 77h4m61-141h4m-114 122h4m-47-82h4m57-2h4m-83-45h4m-8 36h4m49 90h4m33-31h4m-27-55h4m-18 4h4m-10 71h4m-1-76h4m39 91h4m-190-9h4m116-56h4m33 75h4m68-74h4m-177 64h4m73-131h4m129 41h4m-52 4h4m-49 64h4m-40-76h4m-3 46h4m7-65h4m10-28h4m29 45h4m-80-33h4m66 76h4m41 32h4m10 75h4m-73-90h4m-69-37h4m68-49h4m-48 79h4m23-70h4m-3 125h4m-67-95h4m19 125h4m-41-90h4m-12-1h4m100-7h4m-134 35h4m27-93h4m78 99h4m-42-136h4m-38 101h4m-118 23h4m81 60h4m30 20h4m41-61h4m85-85h4m-17-18h4m-181 114h4m41-100h4m6 23h4m-19-3h4m105 62h4m-42-74h4m-25 21h4m-36-52h4m110 55h4m-81 116h4m13-115h4m-51-1h4m-60-73h4m26 98h4m-16-60h4m103 33h4m-7 57h4m-29-141h4m-78 146h4m56 32h4m-32 4h4m-52-55h4m45-94h4m94 89h4m-36-45h4m-102 129h4m-46-74h4m98-204h4m28 155h4m-4-208h4m165-135h4m-43 235h4m-98-7h4m-77 63h4m123-161h4m-50 27h4m-47 183h4m-12-228h4m58 27h4m3 23h4m-79 89h4m-84 69h4m97-169h4m-3 160h4m-108 113h4m160-290h4m-153 119h4m68-83h4m57-52h4m-85 146h4m-33-49h4m51-27h4m8-110h4m104 123h4m-122-62h4m15 54h4m-13 14h4m-56 303h4m95-374h4m-2 74h4m36 3h4m-63 77h4m-1-133h4m-12 66h4m-75 149h4m73-218h4m-11 68h4m73-79h4m-175-95h4m113 112h4m-68 144h4m-41-90h4m-23-126h4m91 195h4m-34-73h4m78-15h4m-97 185h4m26-129h4m16 52h4m0-28h4m-74-59h4m68-68h4m70 51h4m-127-113h4m66 93h4m-8 21h4m-200 204h4m121-89h4m40-113h4m-190 115h4m176-88h4m-32-50h4m1 139h4m-28 26h4m15-117h4m-71 112h4m79-78h4m64-47h4m-32-36h4m39 148h4m-40-53h4m-126-176h4m1 187h4m85-95h4m-90 266h4m80-264h4m-74 233h4m12-103h4m-162 102h4m133-235h4m135 29h4m-13-70h4m-56 167h4m-12-49h4m-33 20h4m-63-134h4m145 52h4m-202 112h4m235-426h4m-40 236h4m-166 272h4m-10-145h4m82-34h4m58 85h4m-5-123h4m8 20h4m-47-171h4m-41 219h4m-28-105h4m75 80h4m41 116h4m-162-123h4m109-234h4m-187 261h4m105-9h4m-111 57h4m181-84h4m-155 61h4m106 104h4m72-239h4m-184 52h4m-92 198h4m111-54h4m211-57h4m-283 0h4m65-44h4m51 46h4m-49 38h4m-44-136h4m163 107h4m-166-8h4m105-174h4m-48 89h4m-32 181h4m84 31h4m29-269h4m-34 121h4m-14 33h4m13-55h4m-56 23h4m-2-107h4m-156 23h4m257 168h4m-208 4h4m76-95h4m-35-27h4m98-79h4m-76 20h4m27-83h4m46 104h4m-11 127h4m-215-29h4m55-179h4m159 130h4m11-81h4m-184 120h4m36-5h4m100 18h4m-95-92h4m79-109h4m-37 84h4m-80 120h4m107 39h4m-22-75h4m54-162h4m-93 99h4m16-92h4m55 114h4m-114-77h4m30-100h4m29 124h4m-42 117h4m34-95h4m-213 213h4m40-71h4m51-135h4m178-66h4m-214 204h4m115-134h4m-69 52h4m33-93h4m51 54h4m78 58h4m-58-180h4m-27 115h4m-93-136h4m-166 137h4m104-22h4m69 83h4m-34 51h4m139-3h4m-150 23h4m147-198h4m-185 83h4m102-39h4m20 31h4m-210 127h4m185 3h4m-15-82h4m-69-63h4m152-76h4m-117 183h4m-101-21h4m-44 68h4m50-197h4m75 10h4m-36-3h4m-108 198h4m166-193h4m-81-72h4m83 259h4m-21-81h4m-107 7h4m52-73h4m70 122h4m-130 55h4m38-125h4m-74 74h4m218-187h4m-113-16h4m-18 54h4m-127 63h4m18 33h4m79 63h4m-44-192h4m46 27h4m89-56h4m-137-25h4m8 169h4m66-171h4m-55 157h4m-93 65h4m57-82h4m47 121h4m-104 47h4m146-344h4m-27 144h4m68-26h4m-70 191h4m4-187h4m-133 9h4m4 72h4m179-136h4m-60-57h4m26 18h4m-94 46h4m-3 22h4m6 131h4m21 1h4m19-40h4m-51 19h4m-164 84h4m205-131h4m-112 110h4m-24 27h4m130-184h4m-53 26h4m54-79h4m25 30h4m-140-19h4m1 98h4m35-56h4m-44-49h4m104 138h4m-165 200h4m162-365h4m-26 215h4m-10-236h4m12 184h4m43-95h4m-69 33h4m-143 201h4m160-130h4m35-134h4m-155 63h4m53 4h4m-1 143h4m-78-186h4m83 210h4m-23-43h4m-126-126h4m-18 210h4m116-27h4m47-219h4m-66 20h4m43-50h4m-23 181h4m120-240h4m-158 163h4m37 12h4m-1 44h4m-116 86h4m93-48h4m35-228h4m-90 197h4m-29-26h4m91 87h4m27-217h4m-119 87h4m91-16h4m-54 33h4m44-137h4m-64 258h4m-2 19h4m15-50h4m-50-156h4m10 78h4m-68 51h4m137-31h4m-73 31h4m52-34h4m34-101h4m-126 91h4m168-23h4m-251 202h4m22-249h4m87 158h4m107-148h4m6 45h4m-1 80h4m-110-69h4m-45 130h4m29-26h4m-95-144h4m130 38h4m-139 20h4m95-40h4m4-41h4m-30-50h4m121 36h4m-172-3h4m104-47h4m-45 85h4m-142 117h4m183-72h4m-103-67h4m73-36h4m-153 77h4m132-11h4m-16-112h4m36 238h4m15-161h4m-39 55h4m12 61h4m-8 17h4m-107 71h4m71-152h4m-3-60h4m-72 113h4m-30-97h4m-13 121h4m-43 55h4m56-166h4m122-110h4m-60 120h4m62 49h4m-109-7h4m12-14h4m43 9h4m-80-10h4m81-29h4m-96 156h4m46-298h4m-13 157h4m117 84h4m-67-121h4m-150-148h4m121 109h4m55 17h4m-187 229h4m75-173h4m-3 20h4m155-27h4m-142 60h4m-5-54h4m68-54h4m-64 65h4m59-40h4m-113-12h4m48 250h4m-40-99h4m100-177h4m-165 145h4m-81 18h4m186-137h4m-73-109h4m-28 281h4m138-244h4m-66 0h4m21 13h4m-125 89h4m121-59h4m-66 80h4m16 0h4m50-68h4m25-47h4m-52 33h4m80 38h4m-243-40h4m189-55h4m40 121h4m-128-123h4m-41 140h4m-35-54h4m93-65h4m-85 27h4m-2 308h4m92-343h4m-82 20h4m-39 193h4m39-46h4m-37-57h4m87-99h4m-149 165h4m128-118h4m-42-14h4m-44 155h4m-28 160h4m172-272h4m-122 40h4m0 179h4m69-226h4m-178 167h4m197-221h4m-202 198h4m62 24h4m84-247h4m-132 294h4m192-117h4m-46-30h4m-75 1h4m-55-110h4m-17 172h4m7-99h4m21-93h4m38-6h4m-53 276h4m-41-186h4m48-160h4m-29 79h4m130-26h4m-118 61h4m35-90h4m-25 243h4m2-205h4m-47 258h4m6-133h4m4 37h4m-68 56h4m106-142h4m-100 36h4m99-156h4m-105 190h4m-40 20h4m93 37h4m63-111h4m-45 48h4m77-123h4m-44-143h4m-20 141h4m-7 180h4m50-113h4m79 126h4m-19-57h4m-161 20h4m-5-74h4m-182 153h4m161-100h4m-35-14h4m70 147h4m-55-132h4m73-63h4m-47-190h4m-33 183h4m52-63h4m-104 222h4m-36-103h4m185-137h4m-99 129h4m138-15h4m-145-4h4m44-75h4m-123 98h4m42 50h4m128-14h4m-144 76h4m-53-115h4m102-88h4m-145 137h4m108-95h4m-59 66h4m83-91h4m-37-54h4m-80 101h4m115-127h4m-48 111h4m69 129h4m-129-171h4m117 88h4m0-167h4m-113 226h4m6-34h4m86 63h4m-279-113h4m199-141h4m-25 145h4m44 287h4m-80-409h4m-62 170h4m93-36h4m-207-303h4m44 434h4m-97-112h4m13-123h4m67-2h4m186 115h4m-6-208h4m-46 126h4m-144 225h4m247 91h4m-272-163h4m-94 23h4m129-50h4m240 16h4m43-40h4m-146-79h4m49 65h4m-80-247h4m6 260h4m-24 77h4m-23 125h4m142-314h4m-177 40h4m30 280h4m-87-112h4m29-125h4m107 34h4m-70 66h4m150-140h4m-58 45h4m-180-189h4m-95 368h4m39-359h4m11 23h4m128 445h4m-16-404h4m122 16h4m-94 216h4m-173 138h4m64-142h4m80-233h4m-101 56h4m122-161h4m-186 246h4m155-81h4m-107-137h4m223 323h4m-229-4h4m193-233h4m-44 123h4m-117 209h4m-18-248h4m172-53h4m-255-51h4m199 131h4m-181 62h4m71-24h4m175 61h4m-121-232h4m47 329h4m-8-378h4m-140 147h4m19 10h4m-78 169h4m28-353h4m39 263h4m152-106h4m9 216h4m-312-214h4m-115-23h4m285-122h4m-215 387h4m311-197h4m-102 207h4m-92-109h4m14-11h4m-191 161h4m346-249h4m-292 148h4m112 97h4m94-352h4m-157 177h4m-52-87h4m440 32h4m-12-66h4m96-75h4m-137 22h4m149-27h4m-77 68h4m-87 68h4m20-68h4m81-81h4m-147 33h4m-170 109h4m151-147h4m123-14h4m-152 11h4m125 123h4m190-51h4" stroke="#0000ff"/><path d="m1487 1357h4m20-104h4m77 48h4m-96 87h4m13-71h4m22 20h4m-62-2h4m32-17h4m82-26h4m-76 22h4m20 13h4m-41-13h4m18-28h4m-62-1h4m-58 42h4m51 26h4m34-17h4m-51-57h4m6 82h4m-58 45h4m110-86h4m11-7h4m4-7h4m-28 72h4m-50-35h4m43-8h4m38-42h4m-166-3h4m123 73h4m-60 43h4m65-23h4m8-62h4m-50 16h4m-21-29h4m21 38h4m-47-27h4m52-42h4m11 88h4m16 32h4m-84-35h4m-59 2h4m71-31h4m-33 6h4m46-1h4m-69-22h4m45 40h4m-25-11h4m50 13h4m-62-118h4m7 7h4m-25 20h4m15 53h4m13 87h4m37-56h4m-38-92h4m-226 123h4m233-93h4m50 51h4m-111 45h4m90 33h4m36-84h4m-159 2h4m113-14h4m-2 12h4m-209 5h4m80 99h4m134-96h4m-117 8h4m102 28h4m-65-40h4m-22 82h4m-33-13h4m70-127h4m-38 62h4m56-62h4m138-28h4m-225 94h4m36 25h4m-147-43h4m199-23h4m-123 58h4m77-92h4m-145 69h4m-19-3h4m144-93h4m-137 77h4m37 20h4m149 7h4m-100 86h4m-120-47h4m70-97h4m72 47h4m-116 43h4m47 20h4m63-28h4m61-45h4m-50 18h4m-60-62h4m120 10h4m-57 44h4m-178-33h4m239-54h4m-195-35h4m29 140h4m-8-47h4m-86 60h4m118-50h4m-66 109h4m-21-62h4m53-55h4m21-23h4m17 54h4m-62 13h4m-38 12h4m-28-4h4m184-20h4m-126-45h4m-8-14h4m47 24h4m-94 50h4m-34 11h4m100-55h4m-120 81h4m105-172h4m-86 100h4m94 22h4m72-16h4m-56 6h4m20-36h4m-21 53h4m-218-87h4m168-3h4m-33 121h4m-46-124h4m83 24h4m-78 37h4m-8 24h4m100-22h4m-68-24h4m-27 28h4m41 36h4m-127 33h4m111-80h4m20-65h4m-171 136h4m71-54h4m-1-1h4m128-37h4m-137 37h4m-34 1h4m32 4h4m-50-5h4m65 79h4m60-117h4m-66 47h4m15 46h4m-10-23h4m63-74h4m-89 11h4m15 16h4m-120 24h4m146-39h4m62-21h4m-151 32h4m-100 86h4m176-52h4m-70-83h4m-30 68h4m-26-53h4m-20-12h4m74 103h4m-6-51h4m22 52h4m-17-55h4m18 6h4m32-19h4m-157-59h4m64 48h4m-39 88h4m7-18h4m24-93h4m-42 36h4m-30 97h4m57-112h4m-73 39h4m87-57h4m-6 93h4m-25 10h4m14 40h4m41-101h4m61 21h4m-165-38h4m108-76h4m-100 86h4m-11-3h4m2-14h4m100 97h4m-63 36h4m-20-78h4m-24-20h4m15 28h4m-12 8h4m56-35h4m-98-17h4m129 35h4m-62 16h4m-128-58h4m-9 67h4m167 10h4m-148 26h4m45-40h4m-59-19h4m201-66h4m16 51h4m-152-1h4m112 38h4m-253 40h4m108-182h4m-56 99h4m94 25h4m26-4h4m-33 38h4m-83-131h4m34 134h4m-8 9h4m98-77h4m-71 6h4m-42 43h4m-19-27h4m86 16h4m-95-63h4m30 34h4m5-8h4m16 118h4m40-152h4m-175 54h4m47-39h4m91 34h4m56-59h4m-130 10h4m-26 58h4m16 50h4m30-93h4m6 7h4m97-24h4m-66 30h4m-66-13h4m52 68h4m-145 5h4m51-31h4m80-33h4m-8-18h4m19 70h4m-54 2h4m-11-13h4m76-31h4m-130 25h4m112-57h4m-29 132h4m-7-38h4m-68-42h4m-3-110h4m25 147h4m-104 49h4m131-96h4m-50-83h4m57 63h4m-30 44h4m-113-14h4m22 4h4m45 10h4m-54 9h4m124-57h4m-200-92h4m89 174h4m-152 27h4m61-37h4m-7-5h4m-2-53h4m133 26h4m-112 47h4m107-7h4m-58 8h4m-96 93h4m-21-123h4m172 52h4m-170-175h4m-20 110h4m78 151h4m11-232h4m0 71h4m16 232h4m-150-212h4m273-162h4m-143 17h4m-244 178h4m305 23h4m121-120h4m-246 6h4m-53 10h4m57 60h4m1-90h4m83-18h4m12 160h4m-26-117h4m24 37h4m-41 62h4m-95 75h4m-71-93h4m87 98h4m-9-66h4m-55-77h4m52-26h4m-186 50h4m314-74h4m-187 119h4m40-194h4m-109 43h4m17 72h4m201 127h4m-295-82h4m184-70h4m-115 5h4m44 55h4m54 26h4m41-134h4m-143 134h4m212-40h4m-279 1h4m49-16h4m61 15h4m-11 15h4m-31-52h4m-11 14h4m262 39h4m-268-109h4m36 178h4m239-97h4m-202 8h4m19 89h4m-47-49h4m66-127h4m-2 88h4m-68 51h4m-31 35h4m96-8h4m-23-52h4m-3-173h4m-180 155h4m40 131h4m21-178h4m-45 92h4m14-106h4m-34 126h4m99-142h4m-172 154h4m28-107h4m115 60h4m49 34h4m-170-118h4m-14 94h4m277-87h4m-274 73h4m168-184h4m-143 100h4m11 177h4m-58-127h4m112-22h4m31 115h4m-59-114h4m120-3h4m35 42h4m-274-2h4m7-96h4m-4 11h4m42 221h4m137-220h4m-44-6h4m58 121h4m-57-25h4m30-184h4m12 297h4m-131-142h4m-96-61h4m144 149h4m-77-65h4m91 100h4m6-99h4m-126-94h4m153 115h4m-45-134h4m-186 177h4m205-81h4m-12 72h4m-32-125h4m-147-108h4m98 257h4m54-166h4m-61 48h4m86 16h4m-22 49h4m72-89h4m-41 60h4m-47-16h4m-100 35h4m-16-185h4m72 111h4m-51-20h4m25 8h4m-40 24h4m175-64h4m-233 138h4m64-31h4m29 88h4m19-84h4m-5-65h4m31 114h4m-115-5h4m-96 95h4m-8-240h4m152-81h4m-52 189h4m45-179h4m-165 170h4m171-100h4m-54 146h4m-44-82h4m191-164h4m-109 134h4m67 56h4m-139 94h4m27-181h4m-296 146h4m191-55h4m161-41h4m-157 88h4m182-9h4m-37-64h4m-72-62h4m58 88h4m16-84h4m-148 96h4m-78-47h4m103 1h4m-11-3h4m164-80h4m-175 73h4m72-56h4m-120 141h4m18-67h4m75-55h4m-12-15h4m-71 114h4m-96-14h4m190-176h4m71 252h4m-202-88h4m-50-29h4m93 36h4m-106-25h4m280-52h4m-106 32h4m-57 127h4m-146-78h4m-136 79h4m92-86h4m127 38h4m203-168h4m-58 86h4m-254 43h4m-71 95h4m295-129h4m-164 72h4m33-31h4m-176 14h4m282-116h4m-353 75h4m298-91h4m-194 121h4m35 20h4m90-104h4m-64 71h4m-35-12h4m5-53h4m-16 130h4m30-50h4m179-14h4m-204-81h4m33 155h4m108-39h4m-118 131h4m-99-18h4m59-148h4m-42 173h4m-9-41h4m11 9h4m13-88h4m27 18h4m-79 56h4m-21-23h4m15 105h4m126 42h4m-172-76h4m157 15h4m-155 24h4m47-28h4m-24 25h4m80-54h4m-126-23h4m91 8h4m111-103h4m-224 282h4m270-195h4m51-83h4m-250 18h4m72 24h4m-86-4h4m-61 119h4m-33 98h4m164-186h4m6-58h4m-261 199h4m489-254h4m-501 282h4m159-215h4m-12-9h4m61 135h4m-42-28h4m106-212h4m-120 89h4m133 103h4m-217-147h4m128-92h4m-109 221h4m-131-132h4m297-98h4m-506 81h4m277 87h4m421-90h4m-107 179h4m-729-209h4m621 150h4m167-203h4m18 123h4m-297-33h4m-295 23h4m39 54h4m450 20h4m-48-36h4m170 127h4m-123-235h4m-54-45h4m-424 2h4m149 79h4m-190-31h4m258 31h4m-27 50h4m59-50h4m46 23h4m-273-23h4m44 11h4m327-1h4m-288-214h4m-82 112h4m346-21h4m-211 149h4m197 1h4m50 35h4m-40-142h4m-64 145h4m71-56h4m-323-19h4m43-90h4m41 71h4m174-83h4m32 53h4m-120-74h4m-556 214h4m129-182h4m290 210h4m58-206h4m-147 51h4m-193 138h4m266-59h4m-171 0h4m113 0h4m-136-36h4m-52 86h4m-146-117h4m460 117h4m79 39h4m-542-175h4m32-3h4m360 174h4m-44-58h4m-210 143h4m-186-166h4m140 7h4m222 15h4m-351 7h4m184 34h4m-279 67h4m217-125h4m139-30h4m-277 31h4m411 139h4m-377-223h4m58 80h4m-101 50h4m-103-25h4m182 9h4m93-112h4m-158 64h4m306 93h4m-224 155h4m-190-181h4m86 90h4m7-216h4m-31 226h4m67-171h4m267-9h4m49 54h4m19 44h4m-180 36h4m158-134h4m39 21h4m-73 160h4m47-187h4m-161 23h4m-6-56h4m103 126h4m40 43h4m-171-186h4m127 94h4m-139 8h4m78 45h4m65-100h4m-170 8h4m151 130h4m13-25h4m-52 64h4m-127-133h4m186-76h4m-215 298h4m115-208h4m116-109h4m-159 172h4m3 5h4m36-50h4m-81 64h4m-18-38h4m-41-82h4m107 48h4m-51-27h4m-31-53h4m16 174h4m86-198h4m-68 225h4m-29-94h4m141-25h4m66-174h4m-163 99h4m-80 98h4m100-105h4m-49 4h4m-52 73h4m88-44h4m-212 128h4m75-80h4m5 29h4m268-59h4m-47-91h4m-167 150h4m67-71h4m-53 74h4m104-219h4m-57 159h4m6 42h4m-7-8h4m-54-14h4m-62-127h4m-15 154h4m-50-59h4m113-39h4m-34 39h4m-45-11h4m155 24h4m-65-133h4m-46-4h4m70 63h4m-105 105h4m75 77h4m-120-45h4m-10-69h4" stroke="#ff0000"/><path d="m1256 1427h4m-62 100h4m4 85h4m106-43h4m17-110h4m-185 122h4m18-64h4m-5 129h4m81-157h4m71-1h4m-173 50h4m-34 70h4m120-82h4m-30 46h4m60-41h4m-109 57h4m104-21h4m4-51h4m-113 17h4m-58 75h4m53-1h4m28-12h4m-45-42h4m76-43h4m-91-2h4m71 40h4m-100 9h4m89-55h4m-97-54h4m38 71h4m-12 120h4m62-151h4m-89 89h4m-16-40h4m44 69h4m36-74h4m-88 129h4m35-131h4m-79 15h4m110 67h4m35-129h4m-161 83h4m40-145h4m-71 132h4m143 56h4m13-153h4m-95 122h4m-67-23h4m192-7h4m-155 4h4m128 66h4m-73-20h4m35-99h4m-55 52h4m77-51h4m-26 84h4m-156-56h4m18 26h4m72-13h4m79 37h4m-112-7h4m37-51h4m31 130h4m-48-156h4m15 57h4m-102 39h4m-25 63h4m70-174h4m-5 1h4m80-4h4m-36 70h4m-18 51h4m-68-146h4m35 186h4m-4-107h4m66-78h4m-56 69h4m-84 113h4m31-121h4m-56 3h4m56-2h4m-12 59h4m72 27h4m-39-158h4m10 134h4m54-40h4m-145 7h4m-31 27h4m55-28h4m122 55h4m-90-162h4m-65 81h4m52 4h4m-4 10h4m-12 141h4m30-43h4m9-42h4m-129-59h4m90-39h4m-44-31h4m-68 103h4m106-35h4m-62 4h4m5 51h4m-24-23h4m-14 62h4m31-95h4m65 40h4m-120-31h4m65-75h4m63 46h4m-153 63h4m173-81h4m-67 42h4m-158 38h4m5 66h4m49-49h4m-74-69h4m114 50h4m-41 17h4m104-139h4m-85 71h4m123 7h4m-144 43h4m-67 30h4m79 12h4m28-29h4m-65-155h4m75 154h4m-99-20h4m13-34h4m34 89h4m7-5h4m45-112h4m-47 186h4m110-205h4m-162 170h4m-55-155h4m33-6h4m16 160h4m33-180h4m-55 77h4m34 39h4m54-6h4m-61-32h4m-78 91h4m158-106h4m-131 5h4m-25 20h4m64-85h4m-142 179h4m12-75h4m176-62h4m-170 64h4m114-146h4m-6 67h4m-33 51h4m-33 74h4m-102-30h4m165-36h4m22-125h4m-30 164h4m-60-5h4m-12 101h4m119-145h4m-52-21h4m-73 42h4m-60 3h4m49 18h4m-75 2h4m89-14h4m-80 36h4m9-160h4m80 104h4m-101 34h4m44 38h4m-43-39h4m49-96h4m86 58h4m-183 23h4m74-20h4m-71-1h4m35 72h4m60-57h4m21-47h4m-51-2h4m90 3h4m-9 32h4m-51 48h4m-114-2h4m31-79h4m-16 56h4m-51 24h4m105 15h4m31-61h4m12-36h4m-19 45h4m-9 19h4m-75 5h4m32-12h4m-23-47h4m53 58h4m-86 39h4m-45-21h4m114-37h4m0-29h4m-26 14h4m-38-48h4m4 107h4m14-29h4m-7-59h4m52-52h4m-109 146h4m144-64h4m-124-22h4m38-31h4m-51 116h4m52-79h4m50 20h4m-53-65h4m60 37h4m-148 82h4m-4-140h4m101 164h4m-75-134h4m34 28h4m32 23h4m-95 28h4m142-128h4m-165 136h4m52-103h4m0 135h4m-62-72h4m34 47h4m9-109h4m-3 68h4m-70 16h4m-35 47h4m53-54h4m31-35h4m-75 65h4m19-2h4m10 13h4m6-36h4m-55-23h4m30-59h4m-42 47h4m44 121h4m27-83h4m57-15h4m-171 18h4m133-22h4m-41-46h4m106 13h4m-122 77h4m3-7h4m-30-77h4m38 87h4m-66-83h4m45 16h4m-64 32h4m-1 32h4m18-6h4m4-59h4m-18 14h4m156-28h4m-122-6h4m61-66h4m-129 192h4m112-13h4m-32-113h4m-81 60h4m84-97h4m-101 85h4m64 30h4m-100-4h4m66-35h4m29 65h4m17-139h4m-158 50h4m57 182h4m52-116h4m2-53h4m-71 109h4m-3-81h4m45 9h4m24 0h4m34-144h4m-82 166h4m17-35h4m-13-3h4m-41-26h4m33 50h4m94-76h4m-164 47h4m115-10h4m-134-23h4m69 68h4m-59-43h4m-5 77h4m47-23h4m-7-120h4m11 150h4m-5-16h4m-8 43h4m-27-35h4m22-88h4m-38 11h4m7 33h4m54-41h4m4-57h4m-144 59h4m59-51h4m19 32h4m50-97h4m-118 158h4m16 4h4m48-76h4m-76 26h4m-1 62h4m146-23h4m-77-76h4m57 99h4m10-76h4m-119 72h4m50-58h4m-80-4h4m34-70h4m36 81h4m-43 39h4m48-39h4m132 7h4m-258 100h4m40-62h4m113 22h4m-107 7h4m92-53h4m-185 46h4m142-82h4m-123-1h4m108 157h4m-20-146h4m34 4h4m-112 14h4m64 43h4m-98-98h4m-19 32h4m62 84h4m36-38h4m-106 1h4m73-65h4m23-6h4m-39 59h4m2 64h4m-39-48h4m14 21h4m18-88h4m-25 39h4m-27-57h4m26 37h4m10 5h4m73 21h4m-92 85h4m46-107h4m-111 47h4m29-74h4m40 17h4m20-50h4m20-64h4m-110 78h4m111-9h4m17-265h4m-62 266h4m61-254h4m-46 193h4m-44 38h4m-50 51h4m33-206h4m97 80h4m-47 106h4m-127 18h4m17-74h4m147-107h4m-139 161h4m-125 116h4m190-308h4m15 66h4m8 1h4m51-55h4m-153 161h4m-11 80h4m-89-44h4m117 68h4m14-113h4m-82-72h4m179 2h4m-128 33h4m18 13h4m50-58h4m-128 166h4m90-241h4m-52 112h4m125-4h4m-47 7h4m-60-115h4m54-131h4m-17 275h4m-51-67h4m-108 69h4m104-56h4m-31 33h4m-55-151h4m129 231h4m-122-211h4m81 9h4m139 117h4m-132 75h4m-185-87h4m102 15h4m77-62h4m-91 74h4m90-156h4m48 96h4m33 31h4m-8-93h4m-194 208h4m-37-28h4m94-54h4m1-107h4m-38 235h4m24-127h4m-23 85h4m-2-305h4m-53 356h4m35-111h4m51-178h4m17 0h4m-3 114h4m-138 193h4m56-158h4m56 93h4m-89-167h4m-50 63h4m-51 140h4m-44-92h4m182-129h4m-44-126h4m-40 296h4m46-53h4m45-75h4m-34-89h4m-117 188h4m157-22h4m-30-81h4m-123-180h4m54 248h4m41-174h4m-30 238h4m63-245h4m-80-54h4m-46 435h4m113-392h4m-144 398h4m25 3h4m-77-197h4m24-73h4m117 71h4m57 4h4m-127 101h4m40-387h4m-81 197h4m113 1h4m-3-146h4m7 341h4m-9-204h4m-59 9h4m130 33h4m-62 91h4m5-187h4m-18 94h4m-69-54h4m70 35h4m-41 29h4m-1-19h4m-168 185h4m116-219h4m-106 215h4m114-181h4m22-52h4m21-31h4m-109 216h4m-22-60h4m107-5h4m73-71h4m-106 6h4m3 103h4m-25-192h4m60 131h4m13-39h4m-75-32h4m80-37h4m-42 81h4m-73 50h4m-79-51h4m74-46h4m-118 108h4m148-90h4m95 4h4m-144 69h4m29-200h4m21 150h4m54-87h4m-114 289h4m51-102h4m-56-114h4m-31 136h4m36-37h4m-10-34h4m-36-215h4m83 9h4m-21 91h4m-40-15h4m76 142h4m-41 161h4m-25-403h4m-15 184h4m0-90h4m22 8h4m-86 51h4m-45-2h4m14 138h4m87-315h4m-29 148h4m127 49h4m-90-136h4m-12 170h4m1-84h4m-39 29h4m-9 97h4m-6-160h4m-64 237h4m105-179h4m-147 136h4m61-178h4m-84 166h4m196-98h4m-97-87h4m-26 136h4m-6 94h4m29-168h4m-62 174h4m60-298h4m55 163h4m-34-88h4m-65 225h4m-136-34h4m62 26h4m112-66h4m-71 23h4m26-39h4m22 39h4m16-133h4m-32 128h4m-77 55h4m21-199h4m-67 44h4m-76 187h4m-16-27h4m276-1h4m-115 13h4m57-161h4m-44-69h4m-38 118h4m46 74h4m-102-70h4m-25 109h4m63-63h4m124-120h4m-144 33h4m32 99h4m46-245h4m-21 27h4m-14 49h4m-19 31h4m-7-3h4m-35 47h4m-118 219h4m157-283h4m74 63h4m-175 46h4m106-23h4m-117 26h4m139-40h4m-91-106h4m8-48h4m75 26h4m-41-1h4m-12-5h4m-46 102h4m113-17h4m-44-29h4m150-219h4m-290 284h4m-24 138h4m70-73h4m79-110h4m-137 7h4m103 54h4m-149-120h4m-48 234h4m177-184h4m-73 79h4m-28 128h4m20-135h4m110-63h4m-97 27h4m27-63h4m-37 184h4m50-129h4m-104 89h4m61-94h4m45 8h4m-10 112h4m-55-51h4m-28-143h4m-81 74h4m30 5h4m186 5h4m-114 215h4m20-276h4m48-38h4m-167 6h4m-74 274h4m73-31h4m43-143h4m-73 126h4m41 7h4m37-245h4m33 191h4m-20 95h4m-14-84h4m108-143h4m-27-42h4m-87 8h4m4 126h4m-29 92h4m-16-247h4m43 211h4m-65-319h4m115 18h4m-25 108h4m-66 109h4m-31 33h4m-101 8h4m-31 12h4m186-123h4m36 1h4m-30-74h4m0 112h4m-107-11h4m81 127h4m-64 6h4m13-207h4m21 195h4m-129-50h4m41-5h4m-30 101h4m166-144h4m-194 77h4m31-25h4m-13 117h4m38-218h4m-112 154h4m65-46h4m52 61h4m-19-38h4m24-84h4m12-143h4m-48 175h4m50 70h4m-46-127h4m-41 112h4m98-82h4m-40-77h4m124 177h4m-114-177h4m88 119h4m-137 19h4m-94-102h4m138 60h4m-20-161h4m-116 208h4m157-52h4m-109-83h4m49 178h4m-36 29h4m-25 37h4m112-300h4m-13 20h4m-35 181h4m-133 115h4m123-308h4m-96 92h4m-44 187h4m80-282h4m20 107h4m43-42h4m-37 174h4m69-116h4m-169 40h4m69-85h4m-82 99h4m127 32h4m-13-149h4m-105 11h4m69 11h4m53-71h4m-23 34h4m-40-58h4m-135 289h4m109-66h4m-41-196h4m224 51h4m-213 129h4m35-65h4m-13-138h4m-65 166h4m108-93h4m-165 127h4m114-54h4m-48-143h4m147 137h4m-121 20h4m66-64h4m-110 14h4m22 2h4m-116 120h4m82 65h4m-89-58h4m62-26h4m27-158h4m159-205h4m-203 243h4m74 9h4m-104 239h4m64-304h4m-41 266h4m-6-229h4m-25 145h4m60-2h4m-52-61h4m-49-2h4m38-24h4m-14 48h4m152 43h4m-196-181h4m-9 125h4m103-77h4m13 35h4m-77 148h4m144-78h4m-113-120h4m12-131h4m40 125h4m1 95h4m-318 31h4m261-98h4m-21-28h4m18-154h4m-86 177h4m32 217h4m109-25h4m-98-134h4m2 61h4m43-170h4m18-27h4m-46 85h4m-82 200h4m81-191h4m-47-21h4m-30 51h4m115-26h4m-98 27h4m-25-64h4m16 75h4m83 151h4m-52-208h4m-77 182h4m106-251h4m55 167h4m-206-209h4m111 47h4m-114 82h4m38 262h4m8-180h4m86-102h4m-108 81h4m138-142h4m-71-41h4m-36 77h4m39 78h4m-117 165h4m141-150h4m10-88h4m-212 14h4m32-18h4m-16 47h4m65 46h4m-34 107h4m73-2h4m-120-54h4m140-153h4m-162 291h4m-131-241h4m234-45h4m-61-50h4m109-4h4m-55 129h4m-58 3h4m-14 50h4m158-96h4m-120-14h4m1-98h4m-30-25h4m78 120h4m-47-15h4m-50-62h4m80 111h4m-13-27h4m-86 57h4m148-19h4m-46 40h4m36 38h4m-181-57h4m31-71h4m44 15h4m5 161h4m22-232h4m26 92h4m-84-90h4m10 116h4m22-158h4m-60 196h4m-115 40h4m-27 136h4m67-243h4m100 70h4m74-74h4m-143-7h4m21 158h4m-207 66h4m159-247h4m2 25h4m39 195h4m101-245h4m-144 124h4m-80-2h4m76 30h4m-135 215h4m116-37h4m-98-403h4m-44 157h4m94-120h4m120 342h4m-259-69h4m181-172h4m-402-200h4m547 319h4m-193-193h4m-7 201h4m-4 34h4m3 48h4m158-179h4m-194-128h4m55 105h4m89-203h4m-286 24h4m141 308h4m-93 9h4m170-135h4m18-25h4m108 154h4m-298 68h4m-21 47h4m57-167h4m-8-75h4m102 79h4m-88-65h4m-191 120h4m176-117h4m20 59h4m-60-7h4m75 70h4m-7-102h4m107 112h4m-5-160h4m-191 1h4m77 176h4m-125-191h4m99 212h4m-14-12h4m-78-108h4m44 41h4m31-275h4m-69 207h4m78 140h4m-306 110h4m400-397h4m-203 164h4m-260-116h4m342 205h4m-79 26h4m53-78h4m-76-20h4m20 44h4m-202-112h4m256 1h4m-89 228h4m-37-69h4m120-137h4m-164-96h4m62 72h4m269-1h4m-230-112h4m-62 120h4m188 156h4m-90-145h4m-12 14h4m-71 183h4m-6-106h4m-79-107h4m-116 177h4m7-171h4m137-294h4m35 328h4m77-290h4m109 440h4m-314-339h4m140 223h4m131 84h4m-107-188h4m-68-168h4m72 152h4m-81 144h4m71-107h4m-76-96h4m30-2h4m92 72h4m-101 67h4m193-106h4m140 1h4m-106-63h4m157 30h4m45 49h4m-253-114h4m212 111h4m-54-14h4m97 46h4m-166-85h4m113 111h4m-100-162h4m313 81h4m-458-74h4m66 86h4m145 31h4m-138 7h4" stroke="#0000ff"/><path d="m1459 1340h4m8-20h4m-35 72h4m8-9h4m43-22h4m31-53h4m29 61h4m-94-34h4m105 71h4m-61-94h4m55-28h4m-115 47h4m46 54h4m16-47h4m-44-36h4m-94-42h4m77 84h4m92-27h4m90 55h4m-86-61h4m-126 40h4m171-12h4m-196 8h4m43-37h4m-50 35h4m105 36h4m-94-52h4m63 5h4m-88-72h4m145-33h4m-115 65h4m122 52h4m-107 8h4m-94-20h4m121 33h4m-142-17h4m270-47h4m-139-28h4m8 74h4m-16-27h4m105-47h4m-196 120h4m65-51h4m-16-59h4m34 41h4m-74 9h4m-30-41h4m86 54h4m-130 3h4m34-2h4m41-38h4m-60-11h4m-54-20h4m67 95h4m72 8h4m-31-71h4m-125 16h4m-20-36h4m135 20h4m25 65h4m-75-19h4m37 25h4m-21-85h4m-5 40h4m-64-27h4m133 23h4m-64-27h4m2 19h4m51 24h4m-61-76h4m6-35h4m-56 170h4m95-73h4m-103 35h4m49-83h4m-3 91h4m-87-35h4m105 70h4m-84-60h4m0 3h4m18-44h4m101 77h4m-55-53h4m-32 71h4m-48-82h4m-54 12h4m-4-33h4m110 22h4m-55 26h4m17-88h4m-6 31h4m7 61h4m146-18h4m-184 58h4m-103-7h4m180-144h4m-17 66h4m-134 87h4m79-58h4m-103 2h4m149 30h4m-1-80h4m-114-1h4m-37 102h4m15-114h4m95 19h4m36-10h4m-91 52h4m15-37h4m-60 69h4m-42 9h4m2-56h4m108-15h4m-79-4h4m-36-8h4m14 80h4m-4-90h4m40 74h4m0 29h4m-32-17h4m-13-57h4m27 71h4m-52-78h4m49 36h4m38 27h4m48-68h4m-173 54h4m91-51h4m35 7h4m-69 6h4m-74-29h4m-3-4h4m-2 71h4m-67-55h4m136 18h4m-113-3h4m156 16h4m-54 74h4m-53-45h4m121-44h4m-10-15h4m-110 78h4m-2-28h4m0-99h4m63 47h4m-94 115h4m40-100h4m23 5h4m-58 45h4m143-144h4m-145 97h4m-11-49h4m22-10h4m34 51h4m-8 22h4m-13-31h4m-5 30h4m-45-19h4m65 10h4m-37-30h4m-87 59h4m92-1h4m-42 20h4m-35-45h4m86 28h4m-88-32h4m60-50h4m-56 94h4m134 11h4m-158 37h4m-28-147h4m80 52h4m-47 21h4m-26-53h4m-25 68h4m55 23h4m96-65h4m-149 34h4m112-42h4m-48 11h4m-68 81h4m-45-2h4m84-54h4m-18 17h4m56-24h4m-61 33h4m46 0h4m14 51h4m-99-81h4m91 9h4m-24-1h4m-154 44h4m191-65h4m-76-34h4m57 50h4m-138 59h4m116-79h4m-103-4h4m-39 52h4m-1-107h4m75 38h4m3 38h4m36 25h4m1-53h4m-78 29h4m-31 3h4m122-45h4m-65 32h4m-142 4h4m-5-2h4m170 6h4m-53 49h4m2 1h4m15-13h4m-67-66h4m43 13h4m-84 8h4m-29-25h4m128-19h4m-47 88h4m-12 5h4m-26-53h4m71 57h4m-129-74h4m141 18h4m-48-4h4m32-44h4m-118 114h4m158-40h4m-146 52h4m57-105h4m35 31h4m-28 1h4m-84-9h4m7-27h4m-75 53h4m104 74h4m-48-92h4m-28-21h4m172-25h4m-149 90h4m2-20h4m-2-102h4m-67 62h4m138 86h4m-79-49h4m6-27h4m48-6h4m-112 32h4m68-80h4m-99 50h4m66-3h4m-3 40h4m9 11h4m-144-15h4m240 21h4m-238-51h4m122 27h4m-11-55h4m-72 61h4m8-6h4m-35 0h4m149-4h4m-77 89h4m34-103h4m-28-19h4m50 59h4m-43-4h4m96-16h4m-148-83h4m-7 113h4m-44-75h4m122 74h4m-228-93h4m-58 119h4m289-46h4m-185-39h4m141-53h4m-49 36h4m-30 52h4m162-75h4m-86 101h4m-259-6h4m-9 51h4m112-47h4m30-56h4m26 59h4m33 61h4m-44-209h4m18 46h4m-129-31h4m169 17h4m-217 172h4m175-108h4m-81-77h4m-71 58h4m90 78h4m8-63h4m80-155h4m65 174h4m-219 30h4m-10-85h4m30 118h4m-3-150h4m37 210h4m31-185h4m81 5h4m-70-25h4m-197 56h4m-22 116h4m40-234h4m97 191h4m9 63h4m-122-188h4m157 157h4m180-31h4m-161-212h4m-75 113h4m-12 9h4m-66 37h4m30-44h4m-107 109h4m118-65h4m36-60h4m-29 10h4m-99 121h4m-20-107h4m194 133h4m-242-87h4m248-11h4m-108-43h4m-193-1h4m449 84h4m-59-14h4m-113-45h4m-423-67h4m203 123h4m248-48h4m-152 33h4m54-121h4m-154 107h4m107 9h4m242 58h4m-273-37h4m49 70h4m-99-3h4m0-167h4m-61 132h4m263-96h4m-165-17h4m75 18h4m-207 104h4m-20-34h4m32-55h4m171-37h4m-108 55h4m19-41h4m181-79h4m-418 35h4m183 97h4m-69 112h4m246-169h4m-57 126h4m-72-94h4m-80 11h4m12 8h4m178-13h4m-104-1h4m46-16h4m-22-17h4m-59 138h4m-65-73h4m65-114h4m87-75h4m-274 169h4m26 14h4m188-57h4m-142-10h4m138-72h4m-207 159h4m-17 57h4m59-24h4m-84 84h4m164-267h4m-124 5h4m34 119h4m-119 65h4m176-98h4m179 44h4m-1-105h4m-163 2h4m-87 229h4m136-200h4m57-39h4m-111 94h4m3 32h4m-19 19h4m60-22h4m40-143h4m-206 95h4m-66 276h4m256-248h4m-223 48h4m137-41h4m-130-127h4m335 133h4m-412 60h4m7-46h4m214-116h4m-241 136h4m151 32h4m38-277h4m181 80h4m-143 39h4m-235-13h4m145 64h4m-20-10h4m-155 68h4m114-84h4m205-130h4m-185 280h4m-166-49h4m252-84h4m-30-118h4m-22 182h4m-204 13h4m264 68h4m-100-138h4m-3 3h4m-51 10h4m247 32h4m-223 39h4m-14 32h4m-80-36h4m103-117h4m-96 119h4m-32-75h4m87 63h4m32 13h4m-26-29h4m-154 2h4m180-68h4m-98 53h4m-53-61h4m104 63h4m46-53h4m-259 0h4m367-49h4m-167 81h4m-22 44h4m-149-41h4m-10-57h4m135 81h4m54-70h4m-83-54h4m247 56h4m-153-117h4m-93 177h4m207-55h4m-78-101h4m-188 104h4m199 170h4m-154-284h4m-32 170h4m87-2h4m45-17h4m19-9h4m-102-3h4m-119-12h4m272 13h4m-196-18h4m-74-15h4m153-95h4m-208 93h4m47 91h4m143-47h4m110-68h4m-157 87h4m69-115h4m-126 163h4m120-77h4m-8-72h4m-175-11h4m276 40h4m-257 76h4m-48-47h4m-37-30h4m122 44h4m-189-26h4m152-53h4m-16 240h4m-68-47h4m-45-43h4m60 5h4m65 72h4m-30-105h4m-14 100h4m133 5h4m-240 4h4m36 27h4m81-90h4m-14-2h4m-62 15h4m-82 153h4m15-99h4m93-55h4m-63-1h4m-25 164h4m-9-238h4m16 149h4m53-2h4m17-65h4m-130-78h4m-32 144h4m134-107h4m-112 134h4m-39 29h4m93-169h4m34-32h4m-67 156h4m-142 9h4m194-126h4m-73 97h4m69-100h4m-14 66h4m-27-26h4m98 86h4m-255 14h4m200-130h4m-79 85h4m139-68h4m-534-37h4m267-36h4m-282 24h4m19-160h4m161 24h4m349 49h4m-465-19h4m-15-16h4m24-146h4m-93 43h4m525 65h4m119 47h4m-364 18h4m5 18h4m-69 90h4m-81 57h4m139-176h4m-280 238h4m104-63h4m59-95h4m311-82h4m-255 51h4m39-2h4m-39-7h4m96 42h4m6 82h4m-297-97h4m159-87h4m-345-7h4m-15 27h4m757-11h4m-306-72h4m-189 78h4m64-26h4m32-142h4m-170 306h4m-102-67h4m640 41h4m-736-123h4m294 195h4m-324-229h4m765-34h4m-483 103h4m-231 46h4m192 11h4m3-1h4m411 17h4m-197-46h4m185-65h4m201 50h4m-157 212h4m-497-301h4m-70 26h4m252 31h4m-322-23h4m17 40h4m81 28h4m118-99h4m90 167h4m-32-3h4m-178-78h4m-92-45h4m66-66h4m-146 32h4m-59 117h4m194-81h4m8 150h4m-117-58h4m97 96h4m-111-143h4m423 104h4m-271-12h4m-21-55h4m-66 109h4m34-24h4m35-106h4m-73 150h4m-63-66h4m-13-84h4m129-88h4m-55 127h4m4 137h4m-48-178h4m36 71h4m-199 81h4m21-76h4m399-22h4m-34-72h4m-59 47h4m-51 41h4m222 48h4m-181-32h4m68 72h4m-30-56h4m101-63h4m-111 31h4m-25-38h4m220 96h4m-131-108h4m22 14h4m-90 3h4m-56 46h4m96-2h4m45-143h4m-41 141h4m-88-124h4m9 150h4m-12-67h4m-29 29h4m106-119h4m-12 79h4m-164 48h4m132-44h4m-94 184h4m-37-138h4m-59 32h4m264-149h4m-239 88h4m74 58h4m107-155h4m-31 4h4m-37 75h4m50 27h4m-53-24h4m47-84h4m-90 119h4m58 36h4m64 49h4m-128-70h4m-57-5h4m135-33h4m-114 35h4m-26-20h4m-67 70h4m95-66h4m4-128h4m-54 141h4m136-87h4m-66 37h4m-5 16h4m-15 22h4m-32-55h4m242-23h4m-235 29h4m34 107h4m14-36h4m81 1h4m-115-3h4m3-47h4m-54-43h4m25-60h4m-43 165h4m44-73h4m-120 61h4m196-160h4m-50 103h4m-57 22h4m83-31h4m2-196h4" stroke="#ff0000"/><path d="m1192 1625h4m110-151h4m-43 131h4m-20-46h4m-58-97h4m7 121h4m-58-37h4m9-63h4m71 124h4m-1-51h4m-33 32h4m-37-13h4m43 24h4m-4 16h4m-80-34h4m51-26h4m60-115h4m36 63h4m-73 56h4m-27 52h4m-6-87h4m81-59h4m-79 24h4m-73 88h4m-73 25h4m91-35h4m-10-80h4m27 23h4m-61 32h4m114-42h4m7 3h4m-139 71h4m9 31h4m4-24h4m70-68h4m-83 30h4m65 131h4m-25-111h4m2 19h4m-41-11h4m10 46h4m-38-169h4m34 121h4m69 5h4m-71-61h4m37 5h4m-114 97h4m118-92h4m-110 64h4m130-73h4m-43-56h4m67 43h4m-113 72h4m70 10h4m-188 53h4m10-40h4m148 10h4m-107-10h4m17-12h4m-45-1h4m-11 12h4m27 82h4m45-157h4m-82 21h4m106-1h4m-86 22h4m7 42h4m-59-22h4m115-21h4m-79-3h4m76 28h4m-45-98h4m15 45h4m-25 37h4m-52-20h4m103-57h4m-40 87h4m-44-1h4m39-52h4m-13-110h4m48 167h4m23-117h4m-55 107h4m-144 42h4m66-82h4m15 62h4m-40-60h4m-55-3h4m16 44h4m9-35h4m73 31h4m-73-13h4m48-48h4m110 27h4m-73-45h4m-12 84h4m-9-179h4m-35 123h4m-57 33h4m128 23h4m-139-83h4m73-89h4m-17 97h4m75-29h4m-79-6h4m-91 73h4m89 43h4m-20-101h4m-11 88h4m26-180h4m-96 44h4m135 161h4m-75-82h4m66-32h4m-41 10h4m-125-26h4m98 55h4m79 18h4m-106 0h4m17-5h4m-5-15h4m-41 44h4m80-25h4m-67-27h4m80 5h4m32 19h4m-111-11h4m25-65h4m-45 57h4m3 53h4m108-29h4m-141-2h4m-16-40h4m36 141h4m-89-92h4m29 87h4m18-53h4m128-93h4m-60 58h4m-93 63h4m81-103h4m-25 20h4m-25-28h4m107-83h4m-125 172h4m54-20h4m-57-64h4m-51 86h4m24-26h4m45-70h4m-2 25h4m-86-57h4m56 49h4m-84 19h4m61 18h4m21 27h4m-95-11h4m48-34h4m-44-1h4m94 14h4m-15-74h4m-80 98h4m72-42h4m-84 83h4m69-98h4m-100 12h4m127 9h4m-69-37h4m3 66h4m-1-106h4m0 167h4m-41-120h4m33 70h4m10 0h4m1-57h4m82 24h4m-44 41h4m-114-57h4m111 91h4m-94-90h4m-68 41h4m71 12h4m90-55h4m-98 27h4m-34-47h4m42 12h4m73-60h4m-54 26h4m16 40h4m-92 86h4m9-87h4m-24 9h4m-16 50h4m70-22h4m13 49h4m-76-122h4m-52-12h4m114 149h4m-53-193h4m58 170h4m-66 25h4m-120-53h4m107-19h4m93 33h4m-126-120h4m-22 114h4m141-40h4m-99 25h4m-70 108h4m-3-35h4m68-45h4m-24-2h4m33-37h4m-71 16h4m2 17h4m58-57h4m-48 90h4m19-64h4m8 16h4m8-37h4m33-7h4m-112-57h4m34 138h4m31-67h4m-90 82h4m78-107h4m45 17h4m-77-59h4m49 195h4m-93-164h4m-26 61h4m-22 32h4m-43 56h4m159-84h4m-137-96h4m126 32h4m-129 1h4m21 108h4m93-38h4m-206 92h4m65-24h4m138-238h4m-179 170h4m139 43h4m-93-3h4m127-114h4m-37-40h4m-145 118h4m100 7h4m28-89h4m-72 28h4m23-86h4m109 158h4m-76 3h4m-27-20h4m56-6h4m-96-49h4m51-11h4m-85 96h4m-32-195h4m96 156h4m-155 136h4m157-175h4m-69 36h4m24-89h4m88-3h4m-31 83h4m-52-64h4m62 12h4m-100 98h4m37-91h4m-88 38h4m72 57h4m-62 104h4m55-98h4m-65-49h4m66 17h4m-28-116h4m46 1h4m-98 146h4m51-89h4m17 25h4m10-46h4m-120 58h4m156-30h4m-102-5h4m-11-4h4m95 66h4m-60-77h4m-17 98h4m16-53h4m-59 1h4m86-6h4m-6-34h4m-181 115h4m220-128h4m-160-3h4m-26-8h4m43 100h4m-20 21h4m-41-70h4m151-52h4m-90 93h4m12-71h4m8-8h4m-83-10h4m-12-36h4m86 161h4m-85-129h4m-4 69h4m21 63h4m116-120h4m-9 137h4m-183-118h4m57 102h4m-78-81h4m204 97h4m-93-134h4m-108 119h4m34-115h4m118 34h4m30 68h4m-19-108h4m-182 156h4m83-30h4m-45-75h4m12 33h4m70-61h4m5 14h4m-120 41h4m29-10h4m37 16h4m-16-7h4m45 17h4m-119 28h4m35 33h4m70-87h4m32-19h4m-74 8h4m-16-41h4m-59 21h4m60 61h4m-8-29h4m28-51h4m-65-62h4m20 37h4m13 62h4m-66-63h4m115-10h4m-83 141h4m8-113h4m-57 127h4m109-40h4m-19-135h4m-91 210h4m51-180h4m40-4h4m-156 88h4m39-10h4m-22 49h4m8 17h4m100-201h4m-24 28h4m-115 115h4m38-73h4m21 109h4m83-135h4m81-119h4m-223 145h4m190-95h4m-126-25h4m121-17h4m-167 185h4m58-210h4m-17-24h4m105-20h4m-90 94h4m106-116h4m-10 112h4m-288 101h4m408-26h4m-176-101h4m7 105h4m-128-110h4m-89 145h4m112-8h4m-44-267h4m-110 472h4m176-178h4m-22-54h4m103-177h4m-49 190h4m-54-35h4m-97 124h4m177-270h4m-40 90h4m-52 111h4m-114-94h4m71 101h4m74-242h4m-151 188h4m116-67h4m-96 89h4m40 129h4m56-191h4m-97 195h4m117-109h4m-197 50h4m131-114h4m-177 98h4m207-296h4m-193 419h4m168-260h4m-44 235h4m-22-64h4m84-304h4m-18 13h4m-20 219h4m-56-83h4m27-116h4m66 61h4m-186 66h4m212 81h4m-138-171h4m99-34h4m-61 125h4m52-23h4m-174-1h4m0 14h4m150-73h4m14 42h4m-6-16h4m-122 228h4m-23-101h4m-26 2h4m-41 16h4m158 15h4m59-113h4m-74-142h4m48 190h4m22-201h4m-98 16h4m60 69h4m-117 95h4m121-53h4m-102 61h4m-44 72h4m69-200h4m-103 93h4m8-59h4m16 115h4m271-282h4m-185 232h4m-59-121h4m-6 298h4m-10-73h4m31-145h4m-47-96h4m66 112h4m-130 16h4m-45 26h4m20 25h4m66 10h4m-29-7h4m29 89h4m-43 30h4m92-182h4m18-51h4m-71-36h4m12 119h4m-84-139h4m-143 270h4m230-263h4m-47 25h4m88 107h4m-59-10h4m-32-4h4m-85 241h4m90-238h4m12 27h4m-43-179h4m-15 180h4m-53 2h4m107-134h4m-22-68h4m-20 131h4m-54 226h4m136-111h4m-190 2h4m42-50h4m-14 77h4m-8-7h4m45-268h4m0 14h4m-2 213h4m-47-174h4m179 145h4m-216 102h4m101-49h4m-71-175h4m-46 264h4m44-127h4m-9-64h4m41 14h4m-1-2h4m14 95h4m-85-63h4m31-45h4m-46-156h4m141 145h4m-38-133h4m-68 316h4m26-259h4m-6-9h4m-46 74h4m134-73h4m-132 48h4m-48 295h4m25-236h4m-27 162h4m-2-157h4m31-1h4m21-110h4m-26 225h4m37-198h4m4-15h4m-20 166h4m1-183h4m-1 164h4m27-68h4m27 47h4m-73-170h4m-112 169h4m45 17h4m-71 120h4m68-69h4m97-93h4m-105-52h4m6-17h4m-56 202h4m136-211h4m-40 171h4m6-34h4m-152 43h4m176-50h4m50-221h4m-179 265h4m126-113h4m-108 72h4m0 16h4m-85-102h4m114 13h4m-71 127h4m67-123h4m-49-82h4m138 98h4m-232-25h4m164 5h4m-105-30h4m88-95h4m-125 144h4m144-62h4m-138 68h4m-20 122h4m-10-142h4m27 89h4m67 38h4m17-55h4m-40-184h4m-67 110h4m38 18h4m54 1h4m-86-156h4m-8 188h4m-42-34h4m172 33h4m-152-77h4m76 45h4m-91 10h4m59-90h4m-101 174h4m75-85h4m71-105h4m-172-16h4m85 59h4m-49-8h4m107-69h4m-13 110h4m-61 87h4m18-84h4m-34 33h4m0 9h4m88-131h4m-203 140h4m22-13h4m-73 164h4m152-300h4m42 124h4m-110 108h4m147-250h4m-102 434h4m44-451h4m37 287h4m13-227h4m-89 61h4m-150 15h4m119 175h4m-98-93h4m40-47h4m-56-74h4m166-92h4m-101 143h4m3-88h4m26 85h4m78-67h4m-41 25h4m40 63h4m-125-133h4m63 20h4m37 152h4m42-107h4m-114 0h4m-31 178h4m26-306h4m-2 308h4m-96 119h4m111-164h4m72-75h4m39 51h4m-198 51h4m64-187h4m34 169h4m-138-207h4m127-38h4m-7 53h4m-47 81h4m-163 115h4m193-194h4m-28 188h4m-32-152h4m14 7h4m-45 13h4m-96 132h4m154-255h4m-30 157h4m-122 61h4m19 6h4m75-12h4m8-101h4m-87 44h4m67 15h4m-74-58h4m39 94h4m17-45h4m7 68h4m96-104h4m-42-94h4m-82 235h4m60-216h4m-98-12h4m46 168h4m-62-12h4m-18 11h4m149-37h4m-111 40h4m-65 25h4m123-171h4m-102-85h4m3 176h4m-7 90h4m59-202h4m10 41h4m-145 73h4m54-20h4m-14-6h4m76 102h4m-30-134h4m48-43h4m-1-19h4m-38 25h4m66 151h4m29-27h4m-42-188h4m-135 300h4m-81-124h4m178-162h4m-132 274h4m49-114h4m-16-31h4m11 162h4m-169 17h4m172-188h4m14-56h4m50 6h4m-245 183h4m92 51h4m95-200h4m8 88h4m-10-28h4m2 4h4m-9 63h4m-63 83h4m32-93h4m41-143h4m-166 109h4m21-14h4m70-60h4m51 8h4m-7 34h4m-34 79h4m36-94h4m-160 83h4m133-61h4m-27 86h4m13-294h4m-17 224h4m-85-4h4m-18 5h4m138-21h4m-65-62h4m-149 172h4m214-249h4m27 110h4m-150 97h4m36 21h4m136-28h4m-105-184h4m-61 165h4m-19-55h4m53-50h4m5-43h4m-22 277h4m50-278h4m-40 95h4m-103-103h4m73 130h4m-40-103h4m53 124h4m-141 65h4m39-145h4m135 41h4m-12-124h4m-168 234h4m95-162h4m131-39h4m-101 43h4m-19-17h4m-25 63h4m1 21h4m-29-127h4m11 84h4m-23 72h4m-99-139h4m19 193h4m52-30h4m-2-19h4m65-187h4m15 53h4m19-35h4m-42 152h4m-44-43h4m-15-13h4m-141 253h4m155-408h4m-25 276h4m38-118h4m-27-15h4m-53 19h4m120-54h4m-77 146h4m-38 12h4m96-223h4m-206 200h4m114-38h4m-35-38h4m-94 71h4m38-60h4m132-23h4m-82-71h4m-109 314h4m60-368h4m112-48h4m91 29h4m-176 268h4m-130-52h4m224-96h4m-33 86h4m-22 47h4m-17-46h4m-17-82h4m76 31h4m-15 43h4m55-139h4m-5 120h4m-89-24h4m-190 46h4m246-133h4m-5 30h4m-65 59h4m-15 152h4m-101-127h4m-5-17h4m26-79h4m-98 148h4m62 16h4m137-143h4m-131 56h4m75-127h4m-30 216h4m-119 114h4m58-53h4m142-255h4m-218 229h4m226-225h4m-87 140h4m153-3h4m-129-127h4m-76 129h4m92-64h4m-50-95h4m13 189h4m-96-68h4m-6 152h4m80-199h4m-27 155h4m-57-80h4m47-92h4m14-87h4m-2 6h4m-62 68h4m145 82h4m-129 189h4m-28-66h4m196-202h4m-163-20h4m27 16h4m-59 186h4m143-221h4m-48 100h4m-134-1h4m129 47h4m-31-133h4m-31 55h4m-77 88h4m7-21h4m13-156h4m27 203h4m-105 42h4m120-153h4m-31-82h4m11-55h4m31 131h4m-150-115h4m118 26h4m-204 146h4m147-20h4m110 22h4m-54-51h4m-33-1h4m-63-19h4m17 53h4m-145 151h4m-33-145h4m90 21h4m-193 107h4m124-176h4m45 12h4m-12 13h4m59 120h4m-331 102h4m364 67h4m25-311h4m-158 174h4m-3-189h4m116 96h4m-197-67h4m78-61h4m124-37h4m-185 195h4m181 157h4m28-299h4m-256-8h4m27 146h4m42 221h4m-69-285h4m150 48h4m-22 41h4m133-33h4m-13-142h4m-288 108h4m160 12h4m-22-180h4m-5 26h4m155 283h4m-222-4h4m-58-104h4m-44 6h4m204-192h4m30 110h4m-4 93h4m-110-8h4m-91 197h4m111-318h4m30-65h4m-97 115h4m72 159h4m-101-196h4m60 97h4m-87 47h4m7 101h4m121-190h4m-216 67h4m66 204h4m34-433h4m65 237h4m-93 84h4m135-195h4m-110 70h4m-25-55h4m-135-29h4m75 179h4m80 21h4m79 18h4m-70-342h4m-130 315h4m99-77h4m20-214h4m-71-43h4m101 435h4m-94-280h4m-63 32h4m-27 271h4m308-352h4m-84 58h4m-185-47h4m88 148h4m18-33h4m-116-25h4m170-185h4m-242 79h4m-4-25h4m142 122h4m-53 11h4m82 92h4m-42-207h4m-68 192h4m82-195h4m-9 247h4m-122-211h4m334 141h4m-384-221h4m234 321h4m-205 67h4m467-362h4m-162-9h4m125 143h4m-61-164h4m207 68h4m-200 27h4m195-116h4m-40 48h4m-203 117h4m-88-111h4m25 59h4m158 82h4m76-66h4m-187-27h4m96-45h4m-117 34h4m6 28h4" stroke="#0000ff"/></g></g><g><defs><clipPath id="cb"><rect x="41.9" y="0.3" width="250.9" height="187.1"/></clipPath><clipPath id="ca"><rect x="372.9" y="0.3" width="250.80000000000007" height="187.1"/></clipPath><clipPath id="cc"><rect x="207.4" y="245.7" width="250.99999999999997" height="187.10000000000002"/></clipPath></defs><path clip-path="url(#cb)" d="M41.90 21.35L42.90 21.50L43.89 21.66L44.89 21.82L45.89 21.99L46.89 22.15L47.88 22.31L48.88 22.48L49.88 22.65L50.88 22.82L51.87 22.99L52.87 23.16L53.87 23.33L54.86 23.51L55.86 23.68L56.86 23.86L57.86 24.04L58.85 24.22L59.85 24.40L60.85 24.59L61.85 24.77L62.84 24.96L63.84 25.15L64.84 25.34L65.84 25.53L66.83 25.73L67.83 25.92L68.83 26.12L69.82 26.32L70.82 26.52L71.82 26.72L72.82 26.93L73.81 27.14L74.81 27.34L75.81 27.56L76.81 27.77L77.80 27.98L78.80 28.20L79.80 28.42L80.79 28.64L81.79 28.86L82.79 29.09L83.79 29.32L84.78 29.55L85.78 29.78L86.78 30.01L87.78 30.25L88.77 30.49L89.77 30.73L90.77 30.97L91.76 31.22L92.76 31.47L93.76 31.72L94.76 31.98L95.75 32.23L96.75 32.49L97.75 32.75L98.75 33.02L99.74 33.29L100.74 33.56L101.74 33.83L102.73 34.11L103.73 34.39L104.73 34.67L105.73 34.96L106.72 35.24L107.72 35.54L108.72 35.83L109.72 36.13L110.71 36.43L111.71 36.74L112.71 37.05L113.71 37.36L114.70 37.67L115.70 37.99L116.70 38.32L117.69 38.64L118.69 38.98L119.69 39.31L120.69 39.65L121.68 39.99L122.68 40.34L123.68 40.69L124.68 41.05L125.67 41.41L126.67 41.77L127.67 42.14L128.66 42.51L129.66 42.89L130.66 43.28L131.66 43.66L132.65 44.06L133.65 44.45L134.65 44.86L135.65 45.27L136.64 45.68L137.64 46.10L138.64 46.52L139.63 46.96L140.63 47.39L141.63 47.84L142.63 48.28L143.62 48.74L144.62 49.20L145.62 49.67L146.62 50.14L147.61 50.62L148.61 51.11L149.61 51.61L150.61 52.11L151.60 52.62L152.60 53.14L153.60 53.66L154.59 54.19L155.59 54.73L156.59 55.28L157.59 55.84L158.58 56.41L159.58 56.98L160.58 57.56L161.58 58.16L162.57 58.76L163.57 59.37L164.57 59.99L165.56 60.63L166.56 61.27L167.56 61.92L168.56 62.59L169.55 63.26L170.55 63.95L171.55 64.65L172.55 65.36L173.54 66.08L174.54 66.82L175.54 67.56L176.53 68.33L177.53 69.10L178.53 69.89L179.53 70.70L180.52 71.52L181.52 72.35L182.52 73.20L183.52 74.07L184.51 74.96L185.51 75.86L186.51 76.78L187.51 77.71L188.50 78.67L189.50 79.65L190.50 80.64L191.49 81.66L192.49 82.69L193.49 83.75L194.49 84.84L195.48 85.94L196.48 87.07L197.48 88.23L198.48 89.41L199.47 90.61L200.47 91.85L201.47 93.11L202.46 94.40L203.46 95.73L204.46 97.08L205.46 98.47L206.45 99.89L207.45 101.35L208.45 102.84L209.45 104.37L210.44 105.94L211.44 107.56L212.44 109.21L213.43 110.91L214.43 112.66L215.43 114.45L216.43 116.29L217.42 118.19L218.42 120.14L219.42 122.15L220.42 124.22L221.41 126.35L222.41 128.54L223.41 130.80L224.40 133.13L225.40 135.54L226.40 138.03L227.40 140.60L228.39 143.25L229.39 146.00L230.39 148.84L231.39 151.78L232.38 154.82L233.38 157.98L234.38 161.26L235.38 164.66L236.37 168.19L237.37 171.87L238.37 175.69L239.36 179.67L240.36 183.81L241.36 188.14" stroke="#35f535" stroke-width="1.2" fill="none"/><path clip-path="url(#cb)" d="M41.90 26.58L42.56 26.79L43.21 26.99L43.87 27.20L44.53 27.41L45.19 27.62L45.84 27.83L46.50 28.04L47.16 28.26L47.81 28.48L48.47 28.70L49.13 28.92L49.79 29.14L50.44 29.36L51.10 29.59L51.76 29.81L52.41 30.04L53.07 30.28L53.73 30.51L54.39 30.74L55.04 30.98L55.70 31.22L56.36 31.46L57.02 31.70L57.67 31.95L58.33 32.19L58.99 32.44L59.64 32.69L60.30 32.94L60.96 33.20L61.62 33.46L62.27 33.71L62.93 33.98L63.59 34.24L64.24 34.51L64.90 34.77L65.56 35.04L66.22 35.32L66.87 35.59L67.53 35.87L68.19 36.15L68.84 36.43L69.50 36.72L70.16 37.00L70.82 37.29L71.47 37.59L72.13 37.88L72.79 38.18L73.44 38.48L74.10 38.78L74.76 39.09L75.42 39.40L76.07 39.71L76.73 40.03L77.39 40.35L78.04 40.67L78.70 40.99L79.36 41.32L80.02 41.65L80.67 41.98L81.33 42.32L81.99 42.66L82.64 43.00L83.30 43.35L83.96 43.70L84.62 44.05L85.27 44.41L85.93 44.77L86.59 45.13L87.25 45.50L87.90 45.87L88.56 46.25L89.22 46.62L89.87 47.01L90.53 47.39L91.19 47.79L91.85 48.18L92.50 48.58L93.16 48.98L93.82 49.39L94.47 49.80L95.13 50.22L95.79 50.64L96.45 51.07L97.10 51.50L97.76 51.93L98.42 52.37L99.07 52.81L99.73 53.26L100.39 53.72L101.05 54.18L101.70 54.64L102.36 55.11L103.02 55.59L103.67 56.07L104.33 56.56L104.99 57.05L105.65 57.55L106.30 58.05L106.96 58.56L107.62 59.08L108.27 59.60L108.93 60.13L109.59 60.66L110.25 61.21L110.90 61.75L111.56 62.31L112.22 62.87L112.88 63.44L113.53 64.02L114.19 64.60L114.85 65.19L115.50 65.79L116.16 66.40L116.82 67.01L117.48 67.63L118.13 68.27L118.79 68.90L119.45 69.55L120.10 70.21L120.76 70.87L121.42 71.55L122.08 72.23L122.73 72.93L123.39 73.63L124.05 74.34L124.70 75.06L125.36 75.80L126.02 76.54L126.68 77.30L127.33 78.06L127.99 78.84L128.65 79.63L129.30 80.43L129.96 81.24L130.62 82.06L131.28 82.90L131.93 83.75L132.59 84.61L133.25 85.49L133.90 86.38L134.56 87.28L135.22 88.20L135.88 89.13L136.53 90.08L137.19 91.05L137.85 92.03L138.50 93.02L139.16 94.03L139.82 95.06L140.48 96.11L141.13 97.18L141.79 98.26L142.45 99.36L143.11 100.49L143.76 101.63L144.42 102.79L145.08 103.98L145.73 105.18L146.39 106.41L147.05 107.66L147.71 108.94L148.36 110.24L149.02 111.56L149.68 112.91L150.33 114.28L150.99 115.69L151.65 117.12L152.31 118.58L152.96 120.07L153.62 121.59L154.28 123.14L154.93 124.72L155.59 126.34L156.25 127.99L156.91 129.68L157.56 131.41L158.22 133.17L158.88 134.98L159.53 136.82L160.19 138.71L160.85 140.64L161.51 142.61L162.16 144.63L162.82 146.70L163.48 148.83L164.13 151.00L164.79 153.23L165.45 155.51L166.11 157.85L166.76 160.26L167.42 162.72L168.08 165.25L168.74 167.85L169.39 170.52L170.05 173.27L170.71 176.09L171.36 178.99L172.02 181.98L172.68 185.05L173.34 188.21" stroke="#333" stroke-width="1.15" stroke-dasharray="4.6 3.1" fill="none"/><path clip-path="url(#ca)" d="M372.90 23.26L373.74 23.46L374.59 23.65L375.43 23.85L376.27 24.05L377.11 24.26L377.96 24.46L378.80 24.66L379.64 24.87L380.48 25.08L381.33 25.29L382.17 25.50L383.01 25.71L383.85 25.93L384.70 26.14L385.54 26.36L386.38 26.58L387.23 26.80L388.07 27.03L388.91 27.25L389.75 27.48L390.60 27.71L391.44 27.94L392.28 28.17L393.12 28.41L393.97 28.65L394.81 28.89L395.65 29.13L396.49 29.37L397.34 29.62L398.18 29.86L399.02 30.11L399.86 30.36L400.71 30.62L401.55 30.87L402.39 31.13L403.24 31.39L404.08 31.66L404.92 31.92L405.76 32.19L406.61 32.46L407.45 32.73L408.29 33.01L409.13 33.29L409.98 33.57L410.82 33.85L411.66 34.13L412.50 34.42L413.35 34.71L414.19 35.01L415.03 35.30L415.88 35.60L416.72 35.90L417.56 36.21L418.40 36.52L419.25 36.83L420.09 37.14L420.93 37.46L421.77 37.78L422.62 38.10L423.46 38.43L424.30 38.75L425.14 39.09L425.99 39.42L426.83 39.76L427.67 40.11L428.52 40.45L429.36 40.80L430.20 41.16L431.04 41.51L431.89 41.87L432.73 42.24L433.57 42.61L434.41 42.98L435.26 43.36L436.10 43.74L436.94 44.12L437.78 44.51L438.63 44.90L439.47 45.30L440.31 45.70L441.15 46.11L442.00 46.52L442.84 46.93L443.68 47.35L444.53 47.78L445.37 48.21L446.21 48.64L447.05 49.08L447.90 49.53L448.74 49.98L449.58 50.43L450.42 50.89L451.27 51.36L452.11 51.83L452.95 52.30L453.79 52.79L454.64 53.28L455.48 53.77L456.32 54.27L457.17 54.78L458.01 55.29L458.85 55.81L459.69 56.34L460.54 56.87L461.38 57.41L462.22 57.95L463.06 58.51L463.91 59.07L464.75 59.63L465.59 60.21L466.43 60.79L467.28 61.38L468.12 61.98L468.96 62.59L469.80 63.20L470.65 63.83L471.49 64.46L472.33 65.10L473.18 65.75L474.02 66.41L474.86 67.08L475.70 67.76L476.55 68.44L477.39 69.14L478.23 69.85L479.07 70.57L479.92 71.30L480.76 72.04L481.60 72.79L482.44 73.55L483.29 74.32L484.13 75.11L484.97 75.91L485.82 76.72L486.66 77.54L487.50 78.38L488.34 79.23L489.19 80.09L490.03 80.97L490.87 81.86L491.71 82.77L492.56 83.69L493.40 84.62L494.24 85.58L495.08 86.55L495.93 87.53L496.77 88.54L497.61 89.56L498.46 90.60L499.30 91.65L500.14 92.73L500.98 93.83L501.83 94.94L502.67 96.08L503.51 97.24L504.35 98.42L505.20 99.62L506.04 100.85L506.88 102.10L507.72 103.37L508.57 104.67L509.41 106.00L510.25 107.35L511.09 108.73L511.94 110.14L512.78 111.57L513.62 113.04L514.47 114.54L515.31 116.07L516.15 117.64L516.99 119.24L517.84 120.87L518.68 122.54L519.52 124.25L520.36 126.00L521.21 127.79L522.05 129.62L522.89 131.50L523.73 133.42L524.58 135.39L525.42 137.40L526.26 139.47L527.11 141.59L527.95 143.76L528.79 145.99L529.63 148.28L530.48 150.63L531.32 153.05L532.16 155.53L533.00 158.07L533.85 160.70L534.69 163.39L535.53 166.16L536.37 169.02L537.22 171.96L538.06 174.99L538.90 178.11L539.75 181.34L540.59 184.66L541.43 188.09" stroke="#35f535" stroke-width="1.2" fill="none"/><path clip-path="url(#cc)" d="M207.40 250.58L208.20 250.73L209.00 250.88L209.81 251.04L210.61 251.19L211.41 251.35L212.21 251.50L213.01 251.66L213.82 251.82L214.62 251.98L215.42 252.14L216.22 252.31L217.02 252.47L217.83 252.64L218.63 252.81L219.43 252.98L220.23 253.15L221.03 253.32L221.84 253.49L222.64 253.67L223.44 253.85L224.24 254.03L225.04 254.21L225.85 254.39L226.65 254.57L227.45 254.76L228.25 254.95L229.06 255.13L229.86 255.33L230.66 255.52L231.46 255.71L232.26 255.91L233.07 256.11L233.87 256.31L234.67 256.51L235.47 256.71L236.27 256.92L237.08 257.13L237.88 257.34L238.68 257.55L239.48 257.77L240.28 257.98L241.09 258.20L241.89 258.42L242.69 258.65L243.49 258.87L244.29 259.10L245.10 259.33L245.90 259.56L246.70 259.80L247.50 260.04L248.30 260.28L249.11 260.52L249.91 260.77L250.71 261.01L251.51 261.27L252.31 261.52L253.12 261.78L253.92 262.03L254.72 262.30L255.52 262.56L256.32 262.83L257.13 263.10L257.93 263.37L258.73 263.65L259.53 263.93L260.33 264.22L261.14 264.50L261.94 264.79L262.74 265.09L263.54 265.38L264.35 265.69L265.15 265.99L265.95 266.30L266.75 266.61L267.55 266.93L268.36 267.24L269.16 267.57L269.96 267.90L270.76 268.23L271.56 268.56L272.37 268.90L273.17 269.25L273.97 269.60L274.77 269.95L275.57 270.31L276.38 270.67L277.18 271.04L277.98 271.41L278.78 271.78L279.58 272.17L280.39 272.55L281.19 272.95L281.99 273.34L282.79 273.75L283.59 274.16L284.40 274.57L285.20 274.99L286.00 275.42L286.80 275.85L287.60 276.29L288.41 276.73L289.21 277.19L290.01 277.64L290.81 278.11L291.61 278.58L292.42 279.06L293.22 279.55L294.02 280.04L294.82 280.54L295.62 281.05L296.43 281.57L297.23 282.09L298.03 282.62L298.83 283.17L299.63 283.72L300.44 284.28L301.24 284.85L302.04 285.42L302.84 286.01L303.65 286.61L304.45 287.22L305.25 287.84L306.05 288.46L306.85 289.10L307.66 289.76L308.46 290.42L309.26 291.09L310.06 291.78L310.86 292.48L311.67 293.19L312.47 293.91L313.27 294.65L314.07 295.41L314.87 296.17L315.68 296.95L316.48 297.75L317.28 298.56L318.08 299.39L318.88 300.24L319.69 301.10L320.49 301.98L321.29 302.87L322.09 303.79L322.89 304.73L323.70 305.68L324.50 306.66L325.30 307.65L326.10 308.67L326.90 309.72L327.71 310.78L328.51 311.87L329.31 312.98L330.11 314.12L330.91 315.29L331.72 316.49L332.52 317.71L333.32 318.96L334.12 320.25L334.92 321.56L335.73 322.91L336.53 324.30L337.33 325.72L338.13 327.17L338.94 328.67L339.74 330.20L340.54 331.78L341.34 333.41L342.14 335.07L342.95 336.79L343.75 338.55L344.55 340.37L345.35 342.24L346.15 344.17L346.96 346.16L347.76 348.21L348.56 350.32L349.36 352.50L350.16 354.76L350.97 357.08L351.77 359.49L352.57 361.98L353.37 364.56L354.17 367.23L354.98 369.99L355.78 372.86L356.58 375.84L357.38 378.93L358.18 382.14L358.99 385.48L359.79 388.96L360.59 392.58L361.39 396.35L362.19 400.29L363.00 404.40L363.80 408.70L364.60 413.20L365.40 417.91L366.20 422.86L367.01 428.04L367.81 433.50" stroke="#35f535" stroke-width="1.2" fill="none"/><g font-size="10.5" fill="#979797"><text x="41.90" y="202.00" text-anchor="middle">−1.0</text><text x="125.53" y="202.00" text-anchor="middle">−0.5</text><text x="209.17" y="202.00" text-anchor="middle">0.0</text><text x="292.80" y="202.00" text-anchor="middle">0.5</text><text x="38.60" y="187.80" text-anchor="end">−1.0</text><text x="38.60" y="144.53" text-anchor="end">−0.5</text><text x="38.60" y="97.75" text-anchor="end">0.0</text><text x="38.60" y="50.98" text-anchor="end">0.5</text><text x="38.60" y="7.00" text-anchor="end">1.0</text><text x="372.90" y="202.00" text-anchor="middle">−1.0</text><text x="456.50" y="202.00" text-anchor="middle">−0.5</text><text x="540.10" y="202.00" text-anchor="middle">0.0</text><text x="623.70" y="202.00" text-anchor="middle">0.5</text><text x="369.60" y="187.80" text-anchor="end">−1.0</text><text x="369.60" y="144.53" text-anchor="end">−0.5</text><text x="369.60" y="97.75" text-anchor="end">0.0</text><text x="369.60" y="50.98" text-anchor="end">0.5</text><text x="369.60" y="7.00" text-anchor="end">1.0</text><text x="207.40" y="448.80" text-anchor="middle">−2.5</text><text x="257.60" y="448.80" text-anchor="middle">−2.0</text><text x="307.80" y="448.80" text-anchor="middle">−1.5</text><text x="358.00" y="448.80" text-anchor="middle">−1.0</text><text x="408.20" y="448.80" text-anchor="middle">−0.5</text><text x="458.40" y="448.80" text-anchor="middle">0.0</text><text x="204.10" y="434.20" text-anchor="end">−1.0</text><text x="204.10" y="390.92" text-anchor="end">−0.5</text><text x="204.10" y="344.15" text-anchor="end">0.0</text><text x="204.10" y="297.38" text-anchor="end">0.5</text><text x="204.10" y="253.40" text-anchor="end">1.0</text></g><rect x="41.90" y="0.30" width="250.90" height="187.10" fill="none" stroke="#b8b8b8" stroke-width="1.2"/><path d="M41.90 187.40v-3.74M41.90 0.30v3.74M58.63 187.40v-1.87M58.63 0.30v1.87M75.35 187.40v-1.87M75.35 0.30v1.87M92.08 187.40v-1.87M92.08 0.30v1.87M108.81 187.40v-1.87M108.81 0.30v1.87M125.53 187.40v-3.74M125.53 0.30v3.74M142.26 187.40v-1.87M142.26 0.30v1.87M158.99 187.40v-1.87M158.99 0.30v1.87M175.71 187.40v-1.87M175.71 0.30v1.87M192.44 187.40v-1.87M192.44 0.30v1.87M209.17 187.40v-3.74M209.17 0.30v3.74M225.89 187.40v-1.87M225.89 0.30v1.87M242.62 187.40v-1.87M242.62 0.30v1.87M259.35 187.40v-1.87M259.35 0.30v1.87M276.07 187.40v-1.87M276.07 0.30v1.87M292.80 187.40v-3.74M292.80 0.30v3.74M41.90 187.40h5.02M292.80 187.40h-5.02M41.90 178.05h2.51M292.80 178.05h-2.51M41.90 168.69h2.51M292.80 168.69h-2.51M41.90 159.34h2.51M292.80 159.34h-2.51M41.90 149.98h2.51M292.80 149.98h-2.51M41.90 140.62h5.02M292.80 140.62h-5.02M41.90 131.27h2.51M292.80 131.27h-2.51M41.90 121.92h2.51M292.80 121.92h-2.51M41.90 112.56h2.51M292.80 112.56h-2.51M41.90 103.21h2.51M292.80 103.21h-2.51M41.90 93.85h5.02M292.80 93.85h-5.02M41.90 84.50h2.51M292.80 84.50h-2.51M41.90 75.14h2.51M292.80 75.14h-2.51M41.90 65.79h2.51M292.80 65.79h-2.51M41.90 56.43h2.51M292.80 56.43h-2.51M41.90 47.08h5.02M292.80 47.08h-5.02M41.90 37.72h2.51M292.80 37.72h-2.51M41.90 28.36h2.51M292.80 28.36h-2.51M41.90 19.01h2.51M292.80 19.01h-2.51M41.90 9.66h2.51M292.80 9.66h-2.51M41.90 0.30h5.02M292.80 0.30h-5.02" stroke="#999" stroke-width="1" fill="none"/><rect x="372.90" y="0.30" width="250.80" height="187.10" fill="none" stroke="#b8b8b8" stroke-width="1.2"/><path d="M372.90 187.40v-3.74M372.90 0.30v3.74M389.62 187.40v-1.87M389.62 0.30v1.87M406.34 187.40v-1.87M406.34 0.30v1.87M423.06 187.40v-1.87M423.06 0.30v1.87M439.78 187.40v-1.87M439.78 0.30v1.87M456.50 187.40v-3.74M456.50 0.30v3.74M473.22 187.40v-1.87M473.22 0.30v1.87M489.94 187.40v-1.87M489.94 0.30v1.87M506.66 187.40v-1.87M506.66 0.30v1.87M523.38 187.40v-1.87M523.38 0.30v1.87M540.10 187.40v-3.74M540.10 0.30v3.74M556.82 187.40v-1.87M556.82 0.30v1.87M573.54 187.40v-1.87M573.54 0.30v1.87M590.26 187.40v-1.87M590.26 0.30v1.87M606.98 187.40v-1.87M606.98 0.30v1.87M623.70 187.40v-3.74M623.70 0.30v3.74M372.90 187.40h5.02M623.70 187.40h-5.02M372.90 178.05h2.51M623.70 178.05h-2.51M372.90 168.69h2.51M623.70 168.69h-2.51M372.90 159.34h2.51M623.70 159.34h-2.51M372.90 149.98h2.51M623.70 149.98h-2.51M372.90 140.62h5.02M623.70 140.62h-5.02M372.90 131.27h2.51M623.70 131.27h-2.51M372.90 121.92h2.51M623.70 121.92h-2.51M372.90 112.56h2.51M623.70 112.56h-2.51M372.90 103.21h2.51M623.70 103.21h-2.51M372.90 93.85h5.02M623.70 93.85h-5.02M372.90 84.50h2.51M623.70 84.50h-2.51M372.90 75.14h2.51M623.70 75.14h-2.51M372.90 65.79h2.51M623.70 65.79h-2.51M372.90 56.43h2.51M623.70 56.43h-2.51M372.90 47.08h5.02M623.70 47.08h-5.02M372.90 37.72h2.51M623.70 37.72h-2.51M372.90 28.36h2.51M623.70 28.36h-2.51M372.90 19.01h2.51M623.70 19.01h-2.51M372.90 9.66h2.51M623.70 9.66h-2.51M372.90 0.30h5.02M623.70 0.30h-5.02" stroke="#999" stroke-width="1" fill="none"/><rect x="207.40" y="245.70" width="251.00" height="187.10" fill="none" stroke="#b8b8b8" stroke-width="1.2"/><path d="M207.40 432.80v-3.74M207.40 245.70v3.74M217.44 432.80v-1.87M217.44 245.70v1.87M227.48 432.80v-1.87M227.48 245.70v1.87M237.52 432.80v-1.87M237.52 245.70v1.87M247.56 432.80v-1.87M247.56 245.70v1.87M257.60 432.80v-3.74M257.60 245.70v3.74M267.64 432.80v-1.87M267.64 245.70v1.87M277.68 432.80v-1.87M277.68 245.70v1.87M287.72 432.80v-1.87M287.72 245.70v1.87M297.76 432.80v-1.87M297.76 245.70v1.87M307.80 432.80v-3.74M307.80 245.70v3.74M317.84 432.80v-1.87M317.84 245.70v1.87M327.88 432.80v-1.87M327.88 245.70v1.87M337.92 432.80v-1.87M337.92 245.70v1.87M347.96 432.80v-1.87M347.96 245.70v1.87M358.00 432.80v-3.74M358.00 245.70v3.74M368.04 432.80v-1.87M368.04 245.70v1.87M378.08 432.80v-1.87M378.08 245.70v1.87M388.12 432.80v-1.87M388.12 245.70v1.87M398.16 432.80v-1.87M398.16 245.70v1.87M408.20 432.80v-3.74M408.20 245.70v3.74M418.24 432.80v-1.87M418.24 245.70v1.87M428.28 432.80v-1.87M428.28 245.70v1.87M438.32 432.80v-1.87M438.32 245.70v1.87M448.36 432.80v-1.87M448.36 245.70v1.87M458.40 432.80v-3.74M458.40 245.70v3.74M207.40 432.80h5.02M458.40 432.80h-5.02M207.40 423.44h2.51M458.40 423.44h-2.51M207.40 414.09h2.51M458.40 414.09h-2.51M207.40 404.74h2.51M458.40 404.74h-2.51M207.40 395.38h2.51M458.40 395.38h-2.51M207.40 386.02h5.02M458.40 386.02h-5.02M207.40 376.67h2.51M458.40 376.67h-2.51M207.40 367.31h2.51M458.40 367.31h-2.51M207.40 357.96h2.51M458.40 357.96h-2.51M207.40 348.61h2.51M458.40 348.61h-2.51M207.40 339.25h5.02M458.40 339.25h-5.02M207.40 329.89h2.51M458.40 329.89h-2.51M207.40 320.54h2.51M458.40 320.54h-2.51M207.40 311.19h2.51M458.40 311.19h-2.51M207.40 301.83h2.51M458.40 301.83h-2.51M207.40 292.48h5.02M458.40 292.48h-5.02M207.40 283.12h2.51M458.40 283.12h-2.51M207.40 273.76h2.51M458.40 273.76h-2.51M207.40 264.41h2.51M458.40 264.41h-2.51M207.40 255.05h2.51M458.40 255.05h-2.51M207.40 245.70h5.02M458.40 245.70h-5.02" stroke="#999" stroke-width="1" fill="none"/><g fill="#979797"><text x="134.60" y="214.10" font-size="9.3" textLength="65.5" lengthAdjust="spacing">log<tspan font-size="11.3">(</tspan><tspan font-size="11.3">[</tspan>N II<tspan font-size="11.3">]</tspan><tspan font-size="11.3">/</tspan>H<tspan font-style="italic">α</tspan><tspan font-size="11.3">)</tspan></text><text x="466.05" y="214.10" font-size="9.3" textLength="64.5" lengthAdjust="spacing">log<tspan font-size="11.3">(</tspan><tspan font-size="11.3">[</tspan>S II<tspan font-size="11.3">]</tspan><tspan font-size="11.3">/</tspan>H<tspan font-style="italic">α</tspan><tspan font-size="11.3">)</tspan></text><text x="301.65" y="461.20" font-size="9.3" textLength="62.5" lengthAdjust="spacing">log<tspan font-size="11.3">(</tspan><tspan font-size="11.3">[</tspan>O I<tspan font-size="11.3">]</tspan><tspan font-size="11.3">/</tspan>H<tspan font-style="italic">α</tspan><tspan font-size="11.3">)</tspan></text><text transform="translate(8.90 93.85) rotate(-90)" x="-35.75" y="0" font-size="9.3" textLength="71.5" lengthAdjust="spacing">log<tspan font-size="11.3">(</tspan><tspan font-size="11.3">[</tspan>O III<tspan font-size="11.3">]</tspan><tspan font-size="11.3">/</tspan>H<tspan font-style="italic">β</tspan><tspan font-size="11.3">)</tspan></text><text transform="translate(339.90 93.85) rotate(-90)" x="-35.75" y="0" font-size="9.3" textLength="71.5" lengthAdjust="spacing">log<tspan font-size="11.3">(</tspan><tspan font-size="11.3">[</tspan>O III<tspan font-size="11.3">]</tspan><tspan font-size="11.3">/</tspan>H<tspan font-style="italic">β</tspan><tspan font-size="11.3">)</tspan></text><text transform="translate(174.40 339.25) rotate(-90)" x="-35.75" y="0" font-size="9.3" textLength="71.5" lengthAdjust="spacing">log<tspan font-size="11.3">(</tspan><tspan font-size="11.3">[</tspan>O III<tspan font-size="11.3">]</tspan><tspan font-size="11.3">/</tspan>H<tspan font-style="italic">β</tspan><tspan font-size="11.3">)</tspan></text></g><g fill="#959595" font-size="12"><text x="54.10" y="17.90"><tspan font-size="14.6">(</tspan>b<tspan font-size="14.6" dx="0.8">)</tspan></text><text x="385.10" y="17.90"><tspan font-size="14.6">(</tspan>ɑ<tspan font-size="14.6" dx="0.8">)</tspan></text><text x="219.60" y="263.30"><tspan font-size="14.6">(</tspan>c<tspan font-size="14.6" dx="0.8">)</tspan></text></g></g></svg></body></html>
